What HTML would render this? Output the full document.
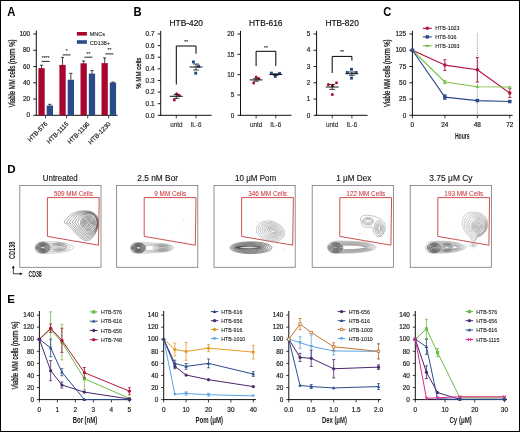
<!DOCTYPE html>
<html><head><meta charset="utf-8"><style>
html,body{margin:0;padding:0;background:#fff;}
svg{display:block;font-family:"Liberation Sans", sans-serif;} svg{will-change:transform;}
</style></head><body>
<svg width="520" height="432" viewBox="0 0 520 432">
<defs><filter id="soft" x="-5%" y="-5%" width="110%" height="110%"><feGaussianBlur stdDeviation="0.32"/></filter></defs>
<rect x="0" y="0" width="520" height="432" fill="#fff"/>
<text x="7.30" y="15.85" font-size="12.6" text-anchor="start" fill="#000" font-weight="bold" textLength="8.1" lengthAdjust="spacingAndGlyphs" >A</text>
<text x="133.40" y="15.85" font-size="12.6" text-anchor="start" fill="#000" font-weight="bold" textLength="8.1" lengthAdjust="spacingAndGlyphs" >B</text>
<text x="383.30" y="15.85" font-size="12.6" text-anchor="start" fill="#000" font-weight="bold" textLength="8.1" lengthAdjust="spacingAndGlyphs" >C</text>
<text x="7.30" y="172.70" font-size="11.6" text-anchor="start" fill="#000" font-weight="bold" >D</text>
<text x="7.30" y="303.30" font-size="11.6" text-anchor="start" fill="#000" font-weight="bold" >E</text>
<line x1="36.30" y1="30.50" x2="36.30" y2="115.80" stroke="#111" stroke-width="1" />
<line x1="35.80" y1="115.30" x2="117.50" y2="115.30" stroke="#111" stroke-width="1" />
<line x1="33.30" y1="115.30" x2="36.30" y2="115.30" stroke="#111" stroke-width="0.95" />
<text x="30.10" y="117.45" font-size="6.4" text-anchor="end" fill="#1a1a1a" stroke="#1a1a1a" stroke-width="0.18" >0</text>
<line x1="33.30" y1="99.04" x2="36.30" y2="99.04" stroke="#111" stroke-width="0.95" />
<text x="30.10" y="101.19" font-size="6.4" text-anchor="end" fill="#1a1a1a" stroke="#1a1a1a" stroke-width="0.18" >20</text>
<line x1="33.30" y1="82.78" x2="36.30" y2="82.78" stroke="#111" stroke-width="0.95" />
<text x="30.10" y="84.93" font-size="6.4" text-anchor="end" fill="#1a1a1a" stroke="#1a1a1a" stroke-width="0.18" >40</text>
<line x1="33.30" y1="66.52" x2="36.30" y2="66.52" stroke="#111" stroke-width="0.95" />
<text x="30.10" y="68.67" font-size="6.4" text-anchor="end" fill="#1a1a1a" stroke="#1a1a1a" stroke-width="0.18" >60</text>
<line x1="33.30" y1="50.26" x2="36.30" y2="50.26" stroke="#111" stroke-width="0.95" />
<text x="30.10" y="52.41" font-size="6.4" text-anchor="end" fill="#1a1a1a" stroke="#1a1a1a" stroke-width="0.18" >80</text>
<line x1="33.30" y1="34.00" x2="36.30" y2="34.00" stroke="#111" stroke-width="0.95" />
<text x="30.10" y="36.15" font-size="6.4" text-anchor="end" fill="#1a1a1a" stroke="#1a1a1a" stroke-width="0.18" >100</text>
<rect x="38.40" y="68.15" width="6.30" height="47.15" fill="#a9062f" />
<rect x="46.70" y="105.54" width="6.30" height="9.76" fill="#2a4a89" />
<line x1="41.55" y1="68.15" x2="41.55" y2="65.22" stroke="#111" stroke-width="0.8" />
<line x1="39.95" y1="65.22" x2="43.15" y2="65.22" stroke="#111" stroke-width="0.8" />
<line x1="49.85" y1="105.54" x2="49.85" y2="104.32" stroke="#111" stroke-width="0.8" />
<line x1="48.25" y1="104.32" x2="51.45" y2="104.32" stroke="#111" stroke-width="0.8" />
<line x1="45.60" y1="115.30" x2="45.60" y2="118.40" stroke="#111" stroke-width="0.8" />
<line x1="41.60" y1="61.40" x2="49.60" y2="61.40" stroke="#111" stroke-width="0.9" />
<text x="45.60" y="59.80" font-size="4.8" text-anchor="middle" fill="#111" stroke="#111" stroke-width="0.05" >****</text>
<rect x="59.40" y="64.89" width="6.30" height="50.41" fill="#a9062f" />
<rect x="67.70" y="79.77" width="6.30" height="35.53" fill="#2a4a89" />
<line x1="62.55" y1="64.89" x2="62.55" y2="57.41" stroke="#111" stroke-width="0.8" />
<line x1="60.95" y1="57.41" x2="64.15" y2="57.41" stroke="#111" stroke-width="0.8" />
<line x1="70.85" y1="79.77" x2="70.85" y2="73.35" stroke="#111" stroke-width="0.8" />
<line x1="69.25" y1="73.35" x2="72.45" y2="73.35" stroke="#111" stroke-width="0.8" />
<line x1="66.60" y1="115.30" x2="66.60" y2="118.40" stroke="#111" stroke-width="0.8" />
<line x1="62.60" y1="54.90" x2="70.60" y2="54.90" stroke="#111" stroke-width="0.9" />
<text x="66.60" y="53.30" font-size="4.8" text-anchor="middle" fill="#111" stroke="#111" stroke-width="0.05" >*</text>
<rect x="80.50" y="63.27" width="6.30" height="52.03" fill="#a9062f" />
<rect x="88.80" y="73.59" width="6.30" height="41.71" fill="#2a4a89" />
<line x1="83.65" y1="63.27" x2="83.65" y2="60.99" stroke="#111" stroke-width="0.8" />
<line x1="82.05" y1="60.99" x2="85.25" y2="60.99" stroke="#111" stroke-width="0.8" />
<line x1="91.95" y1="73.59" x2="91.95" y2="70.59" stroke="#111" stroke-width="0.8" />
<line x1="90.35" y1="70.59" x2="93.55" y2="70.59" stroke="#111" stroke-width="0.8" />
<line x1="87.70" y1="115.30" x2="87.70" y2="118.40" stroke="#111" stroke-width="0.8" />
<line x1="84.40" y1="57.20" x2="92.40" y2="57.20" stroke="#111" stroke-width="0.9" />
<text x="88.40" y="55.60" font-size="4.8" text-anchor="middle" fill="#111" stroke="#111" stroke-width="0.05" >**</text>
<rect x="101.50" y="63.11" width="6.30" height="52.19" fill="#a9062f" />
<rect x="109.80" y="82.54" width="6.30" height="32.76" fill="#2a4a89" />
<line x1="104.65" y1="63.11" x2="104.65" y2="57.90" stroke="#111" stroke-width="0.8" />
<line x1="103.05" y1="57.90" x2="106.25" y2="57.90" stroke="#111" stroke-width="0.8" />
<line x1="112.95" y1="82.54" x2="112.95" y2="82.05" stroke="#111" stroke-width="0.8" />
<line x1="111.35" y1="82.05" x2="114.55" y2="82.05" stroke="#111" stroke-width="0.8" />
<line x1="108.70" y1="115.30" x2="108.70" y2="118.40" stroke="#111" stroke-width="0.8" />
<line x1="105.40" y1="53.90" x2="113.40" y2="53.90" stroke="#111" stroke-width="0.9" />
<text x="109.40" y="52.30" font-size="4.8" text-anchor="middle" fill="#111" stroke="#111" stroke-width="0.05" >**</text>
<rect x="76.90" y="32.00" width="10.00" height="3.60" fill="#a9062f" />
<rect x="76.90" y="40.20" width="10.00" height="3.60" fill="#2a4a89" />
<text x="89.70" y="35.80" font-size="5.5" text-anchor="start" fill="#1a1a1a" stroke="#1a1a1a" stroke-width="0.1" >MNCs</text>
<text x="89.70" y="44.70" font-size="5.5" text-anchor="start" fill="#1a1a1a" stroke="#1a1a1a" stroke-width="0.1" >CD138+</text>
<text x="48.00" y="124.40" font-size="6.3" text-anchor="end" fill="#1a1a1a" stroke="#1a1a1a" stroke-width="0.18" transform="rotate(-45 48.00 124.40)" >HTB-576</text>
<text x="69.00" y="124.40" font-size="6.3" text-anchor="end" fill="#1a1a1a" stroke="#1a1a1a" stroke-width="0.18" transform="rotate(-45 69.00 124.40)" >HTB-1115</text>
<text x="90.10" y="124.40" font-size="6.3" text-anchor="end" fill="#1a1a1a" stroke="#1a1a1a" stroke-width="0.18" transform="rotate(-45 90.10 124.40)" >HTB-1196</text>
<text x="111.10" y="124.40" font-size="6.3" text-anchor="end" fill="#1a1a1a" stroke="#1a1a1a" stroke-width="0.18" transform="rotate(-45 111.10 124.40)" >HTB-1230</text>
<text x="14.90" y="73.40" font-size="8.4" text-anchor="middle" fill="#1a1a1a" stroke="#1a1a1a" stroke-width="0.3" textLength="67.8" lengthAdjust="spacingAndGlyphs" transform="rotate(-90 14.90 73.40)" >Viable MM cells (norm %)</text>
<line x1="160.70" y1="30.80" x2="160.70" y2="115.80" stroke="#111" stroke-width="1" />
<line x1="160.20" y1="115.30" x2="211.70" y2="115.30" stroke="#111" stroke-width="1" />
<line x1="157.70" y1="115.30" x2="160.70" y2="115.30" stroke="#111" stroke-width="0.95" />
<text x="154.50" y="117.50" font-size="6.4" text-anchor="end" fill="#1a1a1a" stroke="#1a1a1a" stroke-width="0.18" >0.0</text>
<line x1="157.70" y1="103.69" x2="160.70" y2="103.69" stroke="#111" stroke-width="0.95" />
<text x="154.50" y="105.89" font-size="6.4" text-anchor="end" fill="#1a1a1a" stroke="#1a1a1a" stroke-width="0.18" >0.1</text>
<line x1="157.70" y1="92.07" x2="160.70" y2="92.07" stroke="#111" stroke-width="0.95" />
<text x="154.50" y="94.27" font-size="6.4" text-anchor="end" fill="#1a1a1a" stroke="#1a1a1a" stroke-width="0.18" >0.2</text>
<line x1="157.70" y1="80.46" x2="160.70" y2="80.46" stroke="#111" stroke-width="0.95" />
<text x="154.50" y="82.66" font-size="6.4" text-anchor="end" fill="#1a1a1a" stroke="#1a1a1a" stroke-width="0.18" >0.3</text>
<line x1="157.70" y1="68.84" x2="160.70" y2="68.84" stroke="#111" stroke-width="0.95" />
<text x="154.50" y="71.04" font-size="6.4" text-anchor="end" fill="#1a1a1a" stroke="#1a1a1a" stroke-width="0.18" >0.4</text>
<line x1="157.70" y1="57.23" x2="160.70" y2="57.23" stroke="#111" stroke-width="0.95" />
<text x="154.50" y="59.43" font-size="6.4" text-anchor="end" fill="#1a1a1a" stroke="#1a1a1a" stroke-width="0.18" >0.5</text>
<line x1="157.70" y1="45.61" x2="160.70" y2="45.61" stroke="#111" stroke-width="0.95" />
<text x="154.50" y="47.81" font-size="6.4" text-anchor="end" fill="#1a1a1a" stroke="#1a1a1a" stroke-width="0.18" >0.6</text>
<line x1="157.70" y1="34.00" x2="160.70" y2="34.00" stroke="#111" stroke-width="0.95" />
<text x="154.50" y="36.20" font-size="6.4" text-anchor="end" fill="#1a1a1a" stroke="#1a1a1a" stroke-width="0.18" >0.7</text>
<text x="186.30" y="25.70" font-size="8.7" text-anchor="middle" fill="#111" stroke="#111" stroke-width="0.18" textLength="33.4" lengthAdjust="spacingAndGlyphs" >HTB-420</text>
<line x1="176.30" y1="115.30" x2="176.30" y2="118.40" stroke="#111" stroke-width="0.8" />
<line x1="196.00" y1="115.30" x2="196.00" y2="118.40" stroke="#111" stroke-width="0.8" />
<text x="176.30" y="127.20" font-size="6.3" text-anchor="middle" fill="#1a1a1a" stroke="#1a1a1a" stroke-width="0.1" >untd</text>
<text x="196.00" y="127.20" font-size="6.3" text-anchor="middle" fill="#1a1a1a" stroke="#1a1a1a" stroke-width="0.1" >IL-6</text>
<circle cx="176.60" cy="93.80" r="1.50" fill="#b3102f"/>
<circle cx="179.10" cy="95.30" r="1.50" fill="#b3102f"/>
<circle cx="174.30" cy="100.10" r="1.50" fill="#b3102f"/>
<rect x="191.95" y="60.45" width="2.90" height="2.90" fill="#26498f"/>
<rect x="197.15" y="64.75" width="2.90" height="2.90" fill="#26498f"/>
<rect x="194.25" y="71.75" width="2.90" height="2.90" fill="#26498f"/>
<line x1="169.90" y1="96.30" x2="182.70" y2="96.30" stroke="#111" stroke-width="1.0" />
<line x1="176.30" y1="94.70" x2="176.30" y2="98.40" stroke="#111" stroke-width="0.8" />
<line x1="173.40" y1="94.70" x2="179.20" y2="94.70" stroke="#111" stroke-width="0.8" />
<line x1="173.40" y1="98.40" x2="179.20" y2="98.40" stroke="#111" stroke-width="0.8" />
<line x1="189.60" y1="67.00" x2="202.40" y2="67.00" stroke="#111" stroke-width="1.0" />
<line x1="196.00" y1="64.00" x2="196.00" y2="70.00" stroke="#111" stroke-width="0.8" />
<line x1="193.10" y1="64.00" x2="198.90" y2="64.00" stroke="#111" stroke-width="0.8" />
<line x1="193.10" y1="70.00" x2="198.90" y2="70.00" stroke="#111" stroke-width="0.8" />
<polyline points="176.30,84.50 176.30,46.00 196.00,46.00 196.00,53.70" fill="none" stroke="#000" stroke-width="1.0" stroke-linejoin="round" />
<text x="186.15" y="43.50" font-size="4.8" text-anchor="middle" fill="#111" stroke="#111" stroke-width="0.05" >**</text>
<line x1="240.50" y1="30.80" x2="240.50" y2="115.80" stroke="#111" stroke-width="1" />
<line x1="240.00" y1="115.30" x2="291.50" y2="115.30" stroke="#111" stroke-width="1" />
<line x1="237.50" y1="115.30" x2="240.50" y2="115.30" stroke="#111" stroke-width="0.95" />
<text x="234.30" y="117.50" font-size="6.4" text-anchor="end" fill="#1a1a1a" stroke="#1a1a1a" stroke-width="0.18" >0</text>
<line x1="237.50" y1="94.97" x2="240.50" y2="94.97" stroke="#111" stroke-width="0.95" />
<text x="234.30" y="97.17" font-size="6.4" text-anchor="end" fill="#1a1a1a" stroke="#1a1a1a" stroke-width="0.18" >5</text>
<line x1="237.50" y1="74.65" x2="240.50" y2="74.65" stroke="#111" stroke-width="0.95" />
<text x="234.30" y="76.85" font-size="6.4" text-anchor="end" fill="#1a1a1a" stroke="#1a1a1a" stroke-width="0.18" >10</text>
<line x1="237.50" y1="54.33" x2="240.50" y2="54.33" stroke="#111" stroke-width="0.95" />
<text x="234.30" y="56.53" font-size="6.4" text-anchor="end" fill="#1a1a1a" stroke="#1a1a1a" stroke-width="0.18" >15</text>
<line x1="237.50" y1="34.00" x2="240.50" y2="34.00" stroke="#111" stroke-width="0.95" />
<text x="234.30" y="36.20" font-size="6.4" text-anchor="end" fill="#1a1a1a" stroke="#1a1a1a" stroke-width="0.18" >20</text>
<text x="265.80" y="25.70" font-size="8.7" text-anchor="middle" fill="#111" stroke="#111" stroke-width="0.18" textLength="33.4" lengthAdjust="spacingAndGlyphs" >HTB-616</text>
<line x1="256.10" y1="115.30" x2="256.10" y2="118.40" stroke="#111" stroke-width="0.8" />
<line x1="275.80" y1="115.30" x2="275.80" y2="118.40" stroke="#111" stroke-width="0.8" />
<text x="256.10" y="127.20" font-size="6.3" text-anchor="middle" fill="#1a1a1a" stroke="#1a1a1a" stroke-width="0.1" >untd</text>
<text x="275.80" y="127.20" font-size="6.3" text-anchor="middle" fill="#1a1a1a" stroke="#1a1a1a" stroke-width="0.1" >IL-6</text>
<circle cx="256.20" cy="76.90" r="1.50" fill="#b3102f"/>
<circle cx="258.80" cy="78.60" r="1.50" fill="#b3102f"/>
<circle cx="253.70" cy="82.90" r="1.50" fill="#b3102f"/>
<rect x="269.95" y="71.65" width="2.90" height="2.90" fill="#26498f"/>
<rect x="278.15" y="71.95" width="2.90" height="2.90" fill="#26498f"/>
<rect x="273.85" y="74.95" width="2.90" height="2.90" fill="#26498f"/>
<line x1="249.70" y1="79.90" x2="262.50" y2="79.90" stroke="#111" stroke-width="1.0" />
<line x1="256.10" y1="78.60" x2="256.10" y2="81.20" stroke="#111" stroke-width="0.8" />
<line x1="253.20" y1="78.60" x2="259.00" y2="78.60" stroke="#111" stroke-width="0.8" />
<line x1="253.20" y1="81.20" x2="259.00" y2="81.20" stroke="#111" stroke-width="0.8" />
<line x1="269.40" y1="74.50" x2="282.20" y2="74.50" stroke="#111" stroke-width="1.0" />
<line x1="275.80" y1="73.80" x2="275.80" y2="75.20" stroke="#111" stroke-width="0.8" />
<line x1="272.90" y1="73.80" x2="278.70" y2="73.80" stroke="#111" stroke-width="0.8" />
<line x1="272.90" y1="75.20" x2="278.70" y2="75.20" stroke="#111" stroke-width="0.8" />
<polyline points="256.10,66.10 256.10,51.30 275.80,51.30 275.80,65.90" fill="none" stroke="#000" stroke-width="1.0" stroke-linejoin="round" />
<text x="265.95" y="49.60" font-size="4.8" text-anchor="middle" fill="#111" stroke="#111" stroke-width="0.05" >**</text>
<line x1="316.60" y1="30.80" x2="316.60" y2="115.80" stroke="#111" stroke-width="1" />
<line x1="316.10" y1="115.30" x2="367.60" y2="115.30" stroke="#111" stroke-width="1" />
<line x1="313.60" y1="115.30" x2="316.60" y2="115.30" stroke="#111" stroke-width="0.95" />
<text x="310.40" y="117.50" font-size="6.4" text-anchor="end" fill="#1a1a1a" stroke="#1a1a1a" stroke-width="0.18" >0</text>
<line x1="313.60" y1="99.04" x2="316.60" y2="99.04" stroke="#111" stroke-width="0.95" />
<text x="310.40" y="101.24" font-size="6.4" text-anchor="end" fill="#1a1a1a" stroke="#1a1a1a" stroke-width="0.18" >1</text>
<line x1="313.60" y1="82.78" x2="316.60" y2="82.78" stroke="#111" stroke-width="0.95" />
<text x="310.40" y="84.98" font-size="6.4" text-anchor="end" fill="#1a1a1a" stroke="#1a1a1a" stroke-width="0.18" >2</text>
<line x1="313.60" y1="66.52" x2="316.60" y2="66.52" stroke="#111" stroke-width="0.95" />
<text x="310.40" y="68.72" font-size="6.4" text-anchor="end" fill="#1a1a1a" stroke="#1a1a1a" stroke-width="0.18" >3</text>
<line x1="313.60" y1="50.26" x2="316.60" y2="50.26" stroke="#111" stroke-width="0.95" />
<text x="310.40" y="52.46" font-size="6.4" text-anchor="end" fill="#1a1a1a" stroke="#1a1a1a" stroke-width="0.18" >4</text>
<line x1="313.60" y1="34.00" x2="316.60" y2="34.00" stroke="#111" stroke-width="0.95" />
<text x="310.40" y="36.20" font-size="6.4" text-anchor="end" fill="#1a1a1a" stroke="#1a1a1a" stroke-width="0.18" >5</text>
<text x="342.10" y="25.70" font-size="8.7" text-anchor="middle" fill="#111" stroke="#111" stroke-width="0.18" textLength="33.4" lengthAdjust="spacingAndGlyphs" >HTB-820</text>
<line x1="332.20" y1="115.30" x2="332.20" y2="118.40" stroke="#111" stroke-width="0.8" />
<line x1="351.90" y1="115.30" x2="351.90" y2="118.40" stroke="#111" stroke-width="0.8" />
<text x="332.20" y="127.20" font-size="6.3" text-anchor="middle" fill="#1a1a1a" stroke="#1a1a1a" stroke-width="0.1" >untd</text>
<text x="351.90" y="127.20" font-size="6.3" text-anchor="middle" fill="#1a1a1a" stroke="#1a1a1a" stroke-width="0.1" >IL-6</text>
<circle cx="328.30" cy="84.50" r="1.50" fill="#b3102f"/>
<circle cx="336.50" cy="82.70" r="1.50" fill="#b3102f"/>
<circle cx="332.50" cy="85.70" r="1.50" fill="#b3102f"/>
<circle cx="332.30" cy="94.40" r="1.50" fill="#b3102f"/>
<rect x="350.05" y="67.85" width="2.90" height="2.90" fill="#26498f"/>
<rect x="345.85" y="71.05" width="2.90" height="2.90" fill="#26498f"/>
<rect x="354.65" y="71.05" width="2.90" height="2.90" fill="#26498f"/>
<rect x="350.05" y="76.65" width="2.90" height="2.90" fill="#26498f"/>
<line x1="325.80" y1="87.00" x2="338.60" y2="87.00" stroke="#111" stroke-width="1.0" />
<line x1="332.20" y1="84.50" x2="332.20" y2="89.40" stroke="#111" stroke-width="0.8" />
<line x1="329.30" y1="84.50" x2="335.10" y2="84.50" stroke="#111" stroke-width="0.8" />
<line x1="329.30" y1="89.40" x2="335.10" y2="89.40" stroke="#111" stroke-width="0.8" />
<line x1="345.50" y1="73.70" x2="358.30" y2="73.70" stroke="#111" stroke-width="1.0" />
<line x1="351.90" y1="72.00" x2="351.90" y2="75.30" stroke="#111" stroke-width="0.8" />
<line x1="349.00" y1="72.00" x2="354.80" y2="72.00" stroke="#111" stroke-width="0.8" />
<line x1="349.00" y1="75.30" x2="354.80" y2="75.30" stroke="#111" stroke-width="0.8" />
<polyline points="332.20,73.00 332.20,56.40 351.90,56.40 351.90,60.60" fill="none" stroke="#000" stroke-width="1.0" stroke-linejoin="round" />
<text x="342.05" y="53.70" font-size="4.8" text-anchor="middle" fill="#111" stroke="#111" stroke-width="0.05" >**</text>
<text x="140.60" y="73.20" font-size="7.6" text-anchor="middle" fill="#1a1a1a" stroke="#1a1a1a" stroke-width="0.3" textLength="31.2" lengthAdjust="spacingAndGlyphs" transform="rotate(-90 140.60 73.20)" >% MM cells</text>
<line x1="412.40" y1="30.80" x2="412.40" y2="115.80" stroke="#111" stroke-width="1" />
<line x1="411.90" y1="115.30" x2="512.60" y2="115.30" stroke="#111" stroke-width="1" />
<line x1="409.40" y1="115.30" x2="412.40" y2="115.30" stroke="#111" stroke-width="0.95" />
<text x="406.20" y="117.50" font-size="6.4" text-anchor="end" fill="#1a1a1a" stroke="#1a1a1a" stroke-width="0.18" >0</text>
<line x1="409.40" y1="99.04" x2="412.40" y2="99.04" stroke="#111" stroke-width="0.95" />
<text x="406.20" y="101.24" font-size="6.4" text-anchor="end" fill="#1a1a1a" stroke="#1a1a1a" stroke-width="0.18" >25</text>
<line x1="409.40" y1="82.78" x2="412.40" y2="82.78" stroke="#111" stroke-width="0.95" />
<text x="406.20" y="84.98" font-size="6.4" text-anchor="end" fill="#1a1a1a" stroke="#1a1a1a" stroke-width="0.18" >50</text>
<line x1="409.40" y1="66.52" x2="412.40" y2="66.52" stroke="#111" stroke-width="0.95" />
<text x="406.20" y="68.72" font-size="6.4" text-anchor="end" fill="#1a1a1a" stroke="#1a1a1a" stroke-width="0.18" >75</text>
<line x1="409.40" y1="50.26" x2="412.40" y2="50.26" stroke="#111" stroke-width="0.95" />
<text x="406.20" y="52.46" font-size="6.4" text-anchor="end" fill="#1a1a1a" stroke="#1a1a1a" stroke-width="0.18" >100</text>
<line x1="409.40" y1="34.00" x2="412.40" y2="34.00" stroke="#111" stroke-width="0.95" />
<text x="406.20" y="36.20" font-size="6.4" text-anchor="end" fill="#1a1a1a" stroke="#1a1a1a" stroke-width="0.18" >125</text>
<line x1="412.40" y1="115.30" x2="412.40" y2="118.40" stroke="#111" stroke-width="0.8" />
<text x="412.40" y="126.50" font-size="6.4" text-anchor="middle" fill="#1a1a1a" stroke="#1a1a1a" stroke-width="0.18" >0</text>
<line x1="444.87" y1="115.30" x2="444.87" y2="118.40" stroke="#111" stroke-width="0.8" />
<text x="444.87" y="126.50" font-size="6.4" text-anchor="middle" fill="#1a1a1a" stroke="#1a1a1a" stroke-width="0.18" >24</text>
<line x1="477.33" y1="115.30" x2="477.33" y2="118.40" stroke="#111" stroke-width="0.8" />
<text x="477.33" y="126.50" font-size="6.4" text-anchor="middle" fill="#1a1a1a" stroke="#1a1a1a" stroke-width="0.18" >48</text>
<line x1="509.80" y1="115.30" x2="509.80" y2="118.40" stroke="#111" stroke-width="0.8" />
<text x="509.80" y="126.50" font-size="6.4" text-anchor="middle" fill="#1a1a1a" stroke="#1a1a1a" stroke-width="0.18" >72</text>
<text x="462.30" y="138.80" font-size="8.3" text-anchor="middle" fill="#1a1a1a" font-weight="bold" textLength="14.8" lengthAdjust="spacingAndGlyphs" >Hours</text>
<text x="390.40" y="73.25" font-size="8.4" text-anchor="middle" fill="#1a1a1a" stroke="#1a1a1a" stroke-width="0.3" textLength="67.5" lengthAdjust="spacingAndGlyphs" transform="rotate(-90 390.40 73.25)" >Viable MM cells (norm %)</text>
<line x1="477.33" y1="33.40" x2="477.33" y2="115.30" stroke="#555" stroke-width="0.6" stroke-dasharray="1.2,1.2"/>
<polyline points="412.40,50.26 444.87,65.09 477.33,69.77 509.80,92.93" fill="none" stroke="#b31240" stroke-width="1.1" stroke-linejoin="round" />
<circle cx="412.40" cy="50.26" r="1.75" fill="#b31240"/>
<line x1="444.87" y1="70.42" x2="444.87" y2="59.76" stroke="#b31240" stroke-width="0.9" />
<line x1="443.27" y1="70.42" x2="446.47" y2="70.42" stroke="#b31240" stroke-width="0.9" />
<line x1="443.27" y1="59.76" x2="446.47" y2="59.76" stroke="#b31240" stroke-width="0.9" />
<circle cx="444.87" cy="65.09" r="1.75" fill="#b31240"/>
<line x1="477.33" y1="82.00" x2="477.33" y2="57.54" stroke="#b31240" stroke-width="0.9" />
<line x1="475.73" y1="82.00" x2="478.93" y2="82.00" stroke="#b31240" stroke-width="0.9" />
<line x1="475.73" y1="57.54" x2="478.93" y2="57.54" stroke="#b31240" stroke-width="0.9" />
<circle cx="477.33" cy="69.77" r="1.75" fill="#b31240"/>
<line x1="509.80" y1="97.48" x2="509.80" y2="88.37" stroke="#b31240" stroke-width="0.9" />
<line x1="508.20" y1="97.48" x2="511.40" y2="97.48" stroke="#b31240" stroke-width="0.9" />
<line x1="508.20" y1="88.37" x2="511.40" y2="88.37" stroke="#b31240" stroke-width="0.9" />
<circle cx="509.80" cy="92.93" r="1.75" fill="#b31240"/>
<polyline points="412.40,50.26 444.87,82.00 477.33,86.68 509.80,87.07" fill="none" stroke="#7dc24a" stroke-width="1.1" stroke-linejoin="round" />
<polygon points="412.40,48.34 414.32,51.66 410.47,51.66" fill="#7dc24a"/>
<line x1="444.87" y1="83.63" x2="444.87" y2="80.37" stroke="#7dc24a" stroke-width="0.9" />
<line x1="443.27" y1="83.63" x2="446.47" y2="83.63" stroke="#7dc24a" stroke-width="0.9" />
<line x1="443.27" y1="80.37" x2="446.47" y2="80.37" stroke="#7dc24a" stroke-width="0.9" />
<polygon points="444.87,80.07 446.79,83.40 442.94,83.40" fill="#7dc24a"/>
<polygon points="477.33,84.76 479.26,88.08 475.41,88.08" fill="#7dc24a"/>
<polygon points="509.80,85.15 511.72,88.47 507.87,88.47" fill="#7dc24a"/>
<polyline points="412.40,50.26 444.87,97.09 477.33,100.60 509.80,101.51" fill="none" stroke="#2c4a8c" stroke-width="1.1" stroke-linejoin="round" />
<rect x="410.65" y="48.51" width="3.50" height="3.50" fill="#2c4a8c"/>
<line x1="444.87" y1="99.37" x2="444.87" y2="94.81" stroke="#2c4a8c" stroke-width="0.9" />
<line x1="443.27" y1="99.37" x2="446.47" y2="99.37" stroke="#2c4a8c" stroke-width="0.9" />
<line x1="443.27" y1="94.81" x2="446.47" y2="94.81" stroke="#2c4a8c" stroke-width="0.9" />
<rect x="443.12" y="95.34" width="3.50" height="3.50" fill="#2c4a8c"/>
<rect x="475.58" y="98.85" width="3.50" height="3.50" fill="#2c4a8c"/>
<rect x="508.05" y="99.76" width="3.50" height="3.50" fill="#2c4a8c"/>
<line x1="422.80" y1="28.30" x2="431.80" y2="28.30" stroke="#b31240" stroke-width="1.1" />
<circle cx="427.30" cy="28.30" r="1.70" fill="#b31240"/>
<text x="435.20" y="30.30" font-size="5.35" text-anchor="start" fill="#1a1a1a" stroke="#1a1a1a" stroke-width="0.1" >HTB-1023</text>
<line x1="422.80" y1="36.90" x2="431.80" y2="36.90" stroke="#2c4a8c" stroke-width="1.1" />
<rect x="425.60" y="35.20" width="3.40" height="3.40" fill="#2c4a8c"/>
<text x="435.20" y="38.90" font-size="5.35" text-anchor="start" fill="#1a1a1a" stroke="#1a1a1a" stroke-width="0.1" >HTB-916</text>
<line x1="422.80" y1="45.70" x2="431.80" y2="45.70" stroke="#7dc24a" stroke-width="1.1" />
<polygon points="427.30,43.83 429.17,47.06 425.43,47.06" fill="#7dc24a"/>
<text x="435.20" y="47.70" font-size="5.35" text-anchor="start" fill="#1a1a1a" stroke="#1a1a1a" stroke-width="0.1" >HTB-1093</text>
<rect x="19.80" y="185.5" width="81.2" height="81.80000000000001" fill="none" stroke="#7e7e7e" stroke-width="0.85"/>
<text x="60.25" y="181.20" font-size="8.5" text-anchor="middle" fill="#111" stroke="#111" stroke-width="0.12" textLength="35.1" lengthAdjust="spacingAndGlyphs" >Untreated</text>
<polygon points="47.40,197.6 99.20,197.6 98.50,245.2 47.40,236.4" fill="none" stroke="#c63c3c" stroke-width="0.9"/>
<text x="73.40" y="195.50" font-size="6.7" text-anchor="middle" fill="#c8383c" stroke="#c8383c" stroke-width="0.05" textLength="38.91" lengthAdjust="spacingAndGlyphs" >509 MM Cells</text>
<rect x="116.60" y="185.5" width="81.2" height="81.80000000000001" fill="none" stroke="#7e7e7e" stroke-width="0.85"/>
<text x="157.70" y="181.20" font-size="8.5" text-anchor="middle" fill="#111" stroke="#111" stroke-width="0.12" textLength="40.8" lengthAdjust="spacingAndGlyphs" >2.5 nM Bor</text>
<polygon points="144.20,197.6 196.00,197.6 195.30,245.2 144.20,236.4" fill="none" stroke="#c63c3c" stroke-width="0.9"/>
<text x="170.20" y="195.50" font-size="6.7" text-anchor="middle" fill="#c8383c" stroke="#c8383c" stroke-width="0.05" textLength="31.83" lengthAdjust="spacingAndGlyphs" >9 MM Cells</text>
<rect x="214.00" y="185.5" width="81.2" height="81.80000000000001" fill="none" stroke="#7e7e7e" stroke-width="0.85"/>
<text x="255.60" y="181.20" font-size="8.5" text-anchor="middle" fill="#111" stroke="#111" stroke-width="0.12" textLength="41.2" lengthAdjust="spacingAndGlyphs" >10 μM Pom</text>
<polygon points="241.60,197.6 293.40,197.6 292.70,245.2 241.60,236.4" fill="none" stroke="#c63c3c" stroke-width="0.9"/>
<text x="267.60" y="195.50" font-size="6.7" text-anchor="middle" fill="#c8383c" stroke="#c8383c" stroke-width="0.05" textLength="38.91" lengthAdjust="spacingAndGlyphs" >346 MM Cells</text>
<rect x="312.20" y="185.5" width="81.2" height="81.80000000000001" fill="none" stroke="#7e7e7e" stroke-width="0.85"/>
<text x="353.75" y="181.20" font-size="8.5" text-anchor="middle" fill="#111" stroke="#111" stroke-width="0.12" textLength="35.1" lengthAdjust="spacingAndGlyphs" >1 μM Dex</text>
<polygon points="339.80,197.6 391.60,197.6 390.90,245.2 339.80,236.4" fill="none" stroke="#c63c3c" stroke-width="0.9"/>
<text x="365.80" y="195.50" font-size="6.7" text-anchor="middle" fill="#c8383c" stroke="#c8383c" stroke-width="0.05" textLength="38.91" lengthAdjust="spacingAndGlyphs" >122 MM Cells</text>
<rect x="410.20" y="185.5" width="81.2" height="81.80000000000001" fill="none" stroke="#7e7e7e" stroke-width="0.85"/>
<text x="450.95" y="181.20" font-size="8.5" text-anchor="middle" fill="#111" stroke="#111" stroke-width="0.12" textLength="43.3" lengthAdjust="spacingAndGlyphs" >3.75 μM Cy</text>
<polygon points="437.80,197.6 489.60,197.6 488.90,245.2 437.80,236.4" fill="none" stroke="#c63c3c" stroke-width="0.9"/>
<text x="463.80" y="195.50" font-size="6.7" text-anchor="middle" fill="#c8383c" stroke="#c8383c" stroke-width="0.05" textLength="38.91" lengthAdjust="spacingAndGlyphs" >193 MM Cells</text>
<g filter="url(#soft)">
<path d="M64.20,222.10 L64.37,221.61 L64.69,221.03 L65.13,220.37 L65.64,219.66 L66.22,218.94 L66.82,218.24 L67.43,217.58 L68.00,217.00 L68.57,216.47 L69.17,215.98 L69.79,215.50 L70.42,215.05 L71.07,214.62 L71.72,214.23 L72.37,213.85 L73.00,213.50 L73.62,213.18 L74.25,212.88 L74.88,212.62 L75.50,212.38 L76.12,212.15 L76.75,211.95 L77.38,211.77 L78.00,211.60 L78.62,211.45 L79.25,211.32 L79.88,211.21 L80.50,211.12 L81.12,211.05 L81.75,210.99 L82.38,210.94 L83.00,210.90 L83.63,210.87 L84.26,210.84 L84.90,210.83 L85.53,210.83 L86.16,210.84 L86.79,210.87 L87.40,210.92 L88.00,211.00 L88.59,211.10 L89.18,211.21 L89.77,211.34 L90.34,211.49 L90.91,211.66 L91.46,211.85 L91.99,212.06 L92.50,212.30 L93.00,212.56 L93.48,212.85 L93.96,213.15 L94.41,213.48 L94.85,213.83 L95.26,214.20 L95.65,214.59 L96.00,215.00 L96.32,215.43 L96.62,215.89 L96.90,216.36 L97.14,216.86 L97.37,217.37 L97.57,217.90 L97.75,218.44 L97.90,219.00 L98.03,219.57 L98.15,220.16 L98.23,220.76 L98.30,221.38 L98.34,222.01 L98.35,222.66 L98.34,223.32 L98.30,224.00 L98.23,224.71 L98.12,225.45 L97.99,226.22 L97.83,227.00 L97.65,227.78 L97.45,228.55 L97.23,229.29 L97.00,230.00 L96.75,230.68 L96.48,231.34 L96.19,231.99 L95.89,232.62 L95.56,233.24 L95.22,233.84 L94.87,234.43 L94.50,235.00 L94.11,235.56 L93.70,236.13 L93.26,236.68 L92.81,237.21 L92.36,237.72 L91.90,238.19 L91.44,238.62 L91.00,239.00 L90.56,239.33 L90.12,239.62 L89.69,239.87 L89.25,240.09 L88.81,240.27 L88.38,240.41 L87.94,240.52 L87.50,240.60 L87.07,240.64 L86.64,240.65 L86.21,240.62 L85.78,240.56 L85.35,240.46 L84.91,240.34 L84.46,240.18 L84.00,240.00 L83.53,239.79 L83.05,239.56 L82.56,239.29 L82.06,238.99 L81.56,238.67 L81.05,238.31 L80.53,237.92 L80.00,237.50 L79.46,237.04 L78.92,236.54 L78.37,236.00 L77.81,235.44 L77.25,234.85 L76.67,234.24 L76.09,233.62 L75.50,233.00 L74.89,232.35 L74.26,231.65 L73.62,230.93 L72.97,230.20 L72.32,229.47 L71.69,228.77 L71.08,228.11 L70.50,227.50 L69.94,226.94 L69.39,226.40 L68.85,225.89 L68.33,225.41 L67.83,224.96 L67.36,224.54 L66.91,224.15 L66.50,223.80 L66.09,223.52 L65.66,223.31 L65.24,223.17 L64.86,223.04 L64.54,222.90 L64.31,222.72 L64.18,222.46Z" fill="none" stroke="rgb(104,104,104)" stroke-width="0.55" stroke-linejoin="round"/>
<path d="M66.92,222.20 L67.06,221.77 L67.33,221.24 L67.69,220.65 L68.13,220.02 L68.62,219.38 L69.13,218.74 L69.64,218.15 L70.13,217.62 L70.61,217.14 L71.12,216.68 L71.65,216.24 L72.20,215.82 L72.75,215.42 L73.31,215.05 L73.87,214.69 L74.41,214.36 L74.96,214.04 L75.50,213.76 L76.04,213.50 L76.59,213.25 L77.14,213.03 L77.69,212.82 L78.24,212.63 L78.79,212.44 L79.35,212.28 L79.91,212.13 L80.47,212.00 L81.03,211.89 L81.60,211.79 L82.16,211.71 L82.74,211.63 L83.31,211.56 L83.89,211.50 L84.48,211.45 L85.08,211.41 L85.68,211.38 L86.27,211.37 L86.87,211.38 L87.45,211.41 L88.03,211.47 L88.60,211.55 L89.17,211.64 L89.73,211.76 L90.29,211.89 L90.83,212.05 L91.36,212.23 L91.88,212.43 L92.37,212.66 L92.85,212.91 L93.32,213.18 L93.78,213.48 L94.22,213.80 L94.65,214.13 L95.04,214.49 L95.42,214.87 L95.76,215.26 L96.08,215.68 L96.37,216.11 L96.64,216.57 L96.88,217.05 L97.11,217.54 L97.31,218.05 L97.48,218.57 L97.64,219.11 L97.78,219.66 L97.89,220.23 L97.98,220.82 L98.05,221.42 L98.09,222.03 L98.11,222.66 L98.10,223.31 L98.06,223.98 L97.99,224.67 L97.88,225.39 L97.75,226.14 L97.58,226.89 L97.39,227.64 L97.18,228.38 L96.95,229.08 L96.71,229.75 L96.45,230.39 L96.17,231.01 L95.88,231.61 L95.57,232.20 L95.24,232.76 L94.90,233.31 L94.55,233.84 L94.18,234.35 L93.80,234.85 L93.40,235.35 L92.98,235.84 L92.55,236.30 L92.11,236.74 L91.68,237.15 L91.25,237.52 L90.83,237.85 L90.43,238.13 L90.02,238.38 L89.61,238.59 L89.21,238.77 L88.80,238.92 L88.40,239.04 L88.00,239.13 L87.60,239.20 L87.20,239.23 L86.80,239.23 L86.41,239.20 L86.02,239.14 L85.62,239.05 L85.22,238.94 L84.80,238.80 L84.38,238.63 L83.94,238.44 L83.50,238.23 L83.05,237.99 L82.59,237.72 L82.13,237.42 L81.65,237.10 L81.17,236.74 L80.69,236.36 L80.19,235.93 L79.69,235.47 L79.18,234.98 L78.67,234.46 L78.15,233.91 L77.63,233.35 L77.10,232.77 L76.57,232.19 L76.02,231.58 L75.46,230.93 L74.89,230.26 L74.33,229.58 L73.76,228.91 L73.22,228.25 L72.69,227.64 L72.20,227.08 L71.72,226.56 L71.26,226.07 L70.80,225.61 L70.37,225.17 L69.95,224.76 L69.55,224.38 L69.18,224.03 L68.83,223.72 L68.49,223.46 L68.14,223.28 L67.79,223.15 L67.47,223.03 L67.20,222.91 L67.01,222.75 L66.90,222.52Z" fill="none" stroke="rgb(100,100,100)" stroke-width="0.55" stroke-linejoin="round"/>
<path d="M69.63,222.30 L69.75,221.92 L69.97,221.46 L70.26,220.94 L70.62,220.38 L71.01,219.81 L71.43,219.24 L71.85,218.71 L72.25,218.23 L72.65,217.80 L73.07,217.38 L73.51,216.98 L73.97,216.59 L74.43,216.22 L74.90,215.87 L75.37,215.53 L75.83,215.21 L76.29,214.91 L76.75,214.63 L77.21,214.37 L77.68,214.13 L78.15,213.90 L78.62,213.69 L79.10,213.48 L79.58,213.29 L80.07,213.11 L80.56,212.94 L81.06,212.79 L81.56,212.66 L82.07,212.54 L82.58,212.42 L83.10,212.32 L83.62,212.22 L84.16,212.13 L84.71,212.06 L85.26,211.99 L85.82,211.94 L86.38,211.91 L86.95,211.89 L87.50,211.91 L88.05,211.94 L88.60,212.00 L89.15,212.08 L89.69,212.17 L90.23,212.30 L90.75,212.44 L91.27,212.61 L91.77,212.80 L92.25,213.02 L92.71,213.26 L93.17,213.52 L93.61,213.80 L94.03,214.11 L94.44,214.44 L94.83,214.78 L95.19,215.14 L95.52,215.52 L95.83,215.92 L96.12,216.34 L96.38,216.78 L96.62,217.24 L96.84,217.71 L97.04,218.20 L97.22,218.71 L97.38,219.23 L97.52,219.76 L97.64,220.31 L97.73,220.88 L97.80,221.46 L97.85,222.06 L97.87,222.67 L97.86,223.30 L97.82,223.95 L97.75,224.62 L97.64,225.33 L97.50,226.05 L97.33,226.78 L97.13,227.50 L96.91,228.21 L96.67,228.88 L96.42,229.51 L96.15,230.11 L95.86,230.68 L95.56,231.23 L95.25,231.77 L94.92,232.28 L94.58,232.77 L94.23,233.24 L93.87,233.70 L93.50,234.14 L93.10,234.57 L92.70,234.99 L92.29,235.39 L91.87,235.77 L91.46,236.11 L91.06,236.42 L90.67,236.69 L90.29,236.93 L89.91,237.13 L89.54,237.31 L89.17,237.46 L88.79,237.58 L88.43,237.67 L88.06,237.74 L87.69,237.79 L87.33,237.81 L86.97,237.81 L86.61,237.78 L86.25,237.72 L85.89,237.64 L85.52,237.54 L85.15,237.41 L84.76,237.26 L84.36,237.09 L83.95,236.90 L83.54,236.68 L83.12,236.44 L82.69,236.18 L82.26,235.88 L81.82,235.56 L81.37,235.21 L80.92,234.83 L80.46,234.41 L80.00,233.96 L79.53,233.48 L79.05,232.98 L78.58,232.46 L78.11,231.92 L77.63,231.38 L77.15,230.82 L76.66,230.21 L76.17,229.59 L75.68,228.96 L75.20,228.34 L74.74,227.74 L74.31,227.17 L73.90,226.66 L73.51,226.19 L73.13,225.74 L72.76,225.32 L72.40,224.93 L72.06,224.56 L71.74,224.23 L71.44,223.91 L71.17,223.63 L70.89,223.41 L70.61,223.25 L70.33,223.13 L70.08,223.03 L69.86,222.92 L69.70,222.78 L69.62,222.58Z" fill="none" stroke="rgb(96,96,96)" stroke-width="0.55" stroke-linejoin="round"/>
<path d="M72.35,222.40 L72.44,222.07 L72.61,221.68 L72.83,221.23 L73.11,220.74 L73.41,220.24 L73.74,219.75 L74.06,219.27 L74.38,218.85 L74.69,218.46 L75.03,218.08 L75.38,217.72 L75.74,217.36 L76.11,217.02 L76.49,216.69 L76.87,216.37 L77.24,216.07 L77.62,215.78 L78.00,215.51 L78.38,215.25 L78.77,215.01 L79.16,214.77 L79.56,214.55 L79.97,214.34 L80.38,214.13 L80.79,213.94 L81.22,213.76 L81.65,213.59 L82.09,213.43 L82.54,213.28 L82.99,213.14 L83.46,213.01 L83.93,212.88 L84.42,212.77 L84.93,212.66 L85.44,212.57 L85.97,212.50 L86.50,212.44 L87.03,212.41 L87.56,212.40 L88.08,212.41 L88.61,212.45 L89.13,212.51 L89.65,212.59 L90.17,212.70 L90.68,212.83 L91.17,212.99 L91.65,213.17 L92.12,213.38 L92.57,213.60 L93.01,213.86 L93.43,214.13 L93.85,214.42 L94.24,214.74 L94.61,215.07 L94.96,215.42 L95.28,215.79 L95.58,216.17 L95.86,216.57 L96.12,216.99 L96.36,217.43 L96.58,217.88 L96.78,218.35 L96.96,218.84 L97.12,219.34 L97.26,219.85 L97.38,220.39 L97.48,220.94 L97.55,221.50 L97.60,222.08 L97.63,222.68 L97.62,223.30 L97.58,223.93 L97.51,224.58 L97.41,225.27 L97.26,225.97 L97.08,226.67 L96.88,227.37 L96.64,228.04 L96.39,228.67 L96.13,229.26 L95.85,229.82 L95.56,230.35 L95.25,230.86 L94.93,231.34 L94.60,231.80 L94.26,232.23 L93.91,232.65 L93.55,233.04 L93.19,233.42 L92.81,233.79 L92.42,234.15 L92.02,234.48 L91.63,234.79 L91.24,235.07 L90.87,235.32 L90.50,235.54 L90.15,235.73 L89.81,235.89 L89.46,236.03 L89.12,236.14 L88.79,236.23 L88.45,236.30 L88.12,236.36 L87.79,236.39 L87.46,236.40 L87.14,236.39 L86.81,236.35 L86.49,236.30 L86.16,236.23 L85.83,236.14 L85.49,236.02 L85.14,235.89 L84.77,235.74 L84.41,235.57 L84.03,235.38 L83.65,235.17 L83.26,234.93 L82.87,234.67 L82.47,234.38 L82.06,234.07 L81.65,233.72 L81.23,233.34 L80.81,232.94 L80.38,232.50 L79.96,232.04 L79.54,231.57 L79.12,231.07 L78.70,230.57 L78.29,230.05 L77.86,229.49 L77.45,228.92 L77.04,228.34 L76.64,227.77 L76.27,227.22 L75.92,226.70 L75.60,226.24 L75.29,225.81 L74.99,225.41 L74.71,225.04 L74.44,224.69 L74.18,224.37 L73.94,224.07 L73.71,223.79 L73.50,223.55 L73.30,223.35 L73.08,223.21 L72.87,223.11 L72.68,223.03 L72.52,222.93 L72.40,222.81 L72.34,222.64Z" fill="none" stroke="rgb(92,92,92)" stroke-width="0.55" stroke-linejoin="round"/>
<path d="M75.07,222.50 L75.13,222.23 L75.25,221.89 L75.40,221.51 L75.59,221.10 L75.81,220.67 L76.04,220.25 L76.28,219.84 L76.51,219.47 L76.74,219.12 L76.98,218.79 L77.24,218.46 L77.51,218.13 L77.79,217.82 L78.08,217.51 L78.36,217.21 L78.66,216.92 L78.95,216.65 L79.25,216.38 L79.55,216.13 L79.86,215.88 L80.17,215.65 L80.50,215.42 L80.83,215.19 L81.17,214.98 L81.52,214.77 L81.88,214.57 L82.24,214.38 L82.62,214.19 L83.01,214.02 L83.41,213.85 L83.82,213.69 L84.25,213.54 L84.69,213.40 L85.15,213.27 L85.62,213.15 L86.11,213.05 L86.61,212.97 L87.11,212.92 L87.61,212.89 L88.11,212.88 L88.61,212.90 L89.11,212.94 L89.61,213.01 L90.11,213.11 L90.60,213.23 L91.08,213.37 L91.54,213.54 L91.99,213.74 L92.42,213.95 L92.85,214.19 L93.26,214.46 L93.66,214.74 L94.04,215.04 L94.39,215.36 L94.73,215.70 L95.04,216.05 L95.34,216.41 L95.61,216.80 L95.86,217.20 L96.10,217.61 L96.32,218.05 L96.52,218.50 L96.70,218.97 L96.86,219.45 L97.01,219.95 L97.13,220.46 L97.23,220.99 L97.31,221.54 L97.36,222.11 L97.38,222.69 L97.38,223.29 L97.34,223.90 L97.27,224.54 L97.17,225.20 L97.02,225.88 L96.84,226.56 L96.62,227.23 L96.38,227.87 L96.11,228.47 L95.84,229.02 L95.55,229.53 L95.25,230.02 L94.93,230.48 L94.61,230.91 L94.27,231.32 L93.93,231.70 L93.59,232.06 L93.24,232.39 L92.88,232.71 L92.51,233.02 L92.14,233.30 L91.76,233.57 L91.39,233.81 L91.02,234.03 L90.67,234.22 L90.34,234.39 L90.01,234.53 L89.70,234.65 L89.39,234.74 L89.08,234.83 L88.78,234.89 L88.48,234.94 L88.18,234.97 L87.88,234.98 L87.59,234.98 L87.30,234.96 L87.01,234.93 L86.72,234.88 L86.43,234.82 L86.13,234.74 L85.83,234.64 L85.51,234.52 L85.19,234.39 L84.86,234.25 L84.52,234.08 L84.18,233.89 L83.83,233.68 L83.47,233.45 L83.11,233.20 L82.75,232.92 L82.38,232.61 L82.00,232.28 L81.62,231.91 L81.24,231.52 L80.86,231.11 L80.49,230.67 L80.13,230.22 L79.77,229.77 L79.42,229.28 L79.07,228.77 L78.72,228.25 L78.39,227.72 L78.09,227.20 L77.80,226.70 L77.53,226.24 L77.29,225.82 L77.07,225.44 L76.86,225.09 L76.66,224.75 L76.47,224.45 L76.30,224.17 L76.13,223.91 L75.98,223.67 L75.84,223.46 L75.70,223.30 L75.55,223.18 L75.42,223.09 L75.29,223.02 L75.18,222.94 L75.10,222.84 L75.06,222.70Z" fill="none" stroke="rgb(88,88,88)" stroke-width="0.55" stroke-linejoin="round"/>
<path d="M77.79,222.60 L77.82,222.38 L77.88,222.11 L77.97,221.80 L78.08,221.46 L78.21,221.11 L78.35,220.75 L78.49,220.40 L78.63,220.08 L78.78,219.78 L78.94,219.49 L79.11,219.20 L79.28,218.90 L79.47,218.61 L79.66,218.33 L79.86,218.05 L80.07,217.78 L80.28,217.51 L80.49,217.26 L80.72,217.01 L80.95,216.76 L81.19,216.52 L81.43,216.28 L81.69,216.05 L81.96,215.82 L82.24,215.60 L82.53,215.38 L82.83,215.17 L83.15,214.96 L83.48,214.76 L83.82,214.57 L84.18,214.38 L84.56,214.21 L84.95,214.04 L85.37,213.88 L85.81,213.74 L86.26,213.61 L86.72,213.51 L87.19,213.43 L87.66,213.38 L88.14,213.35 L88.61,213.35 L89.09,213.38 L89.58,213.43 L90.05,213.51 L90.53,213.62 L90.99,213.75 L91.43,213.91 L91.86,214.09 L92.28,214.30 L92.69,214.53 L93.09,214.78 L93.47,215.05 L93.83,215.35 L94.18,215.65 L94.50,215.98 L94.81,216.31 L95.09,216.66 L95.36,217.02 L95.61,217.41 L95.84,217.80 L96.06,218.22 L96.26,218.65 L96.44,219.10 L96.60,219.56 L96.75,220.04 L96.87,220.54 L96.98,221.05 L97.06,221.59 L97.11,222.13 L97.14,222.70 L97.14,223.28 L97.10,223.88 L97.04,224.50 L96.93,225.14 L96.78,225.80 L96.59,226.46 L96.36,227.09 L96.11,227.70 L95.83,228.26 L95.55,228.77 L95.25,229.25 L94.94,229.69 L94.62,230.10 L94.29,230.48 L93.95,230.83 L93.61,231.16 L93.27,231.46 L92.92,231.74 L92.57,232.00 L92.22,232.24 L91.85,232.46 L91.50,232.66 L91.14,232.84 L90.80,232.99 L90.48,233.13 L90.17,233.24 L89.88,233.33 L89.59,233.40 L89.31,233.46 L89.04,233.51 L88.77,233.54 L88.50,233.57 L88.24,233.58 L87.98,233.58 L87.72,233.57 L87.47,233.54 L87.21,233.51 L86.96,233.46 L86.70,233.41 L86.44,233.34 L86.17,233.25 L85.89,233.16 L85.61,233.04 L85.31,232.92 L85.01,232.78 L84.71,232.62 L84.40,232.44 L84.08,232.24 L83.76,232.02 L83.43,231.78 L83.10,231.51 L82.77,231.21 L82.43,230.89 L82.10,230.54 L81.77,230.17 L81.45,229.78 L81.13,229.37 L80.84,228.96 L80.55,228.52 L80.27,228.05 L80.00,227.58 L79.75,227.10 L79.53,226.63 L79.32,226.18 L79.15,225.77 L78.99,225.40 L78.86,225.07 L78.73,224.76 L78.62,224.47 L78.51,224.21 L78.41,223.97 L78.32,223.75 L78.24,223.55 L78.17,223.38 L78.10,223.24 L78.03,223.15 L77.96,223.08 L77.89,223.02 L77.84,222.95 L77.80,222.87 L77.78,222.76Z" fill="none" stroke="rgb(84,84,84)" stroke-width="0.55" stroke-linejoin="round"/>
<path d="M80.50,222.70 L80.51,222.53 L80.52,222.33 L80.54,222.09 L80.57,221.82 L80.60,221.54 L80.65,221.25 L80.70,220.96 L80.76,220.70 L80.82,220.45 L80.89,220.19 L80.97,219.93 L81.05,219.67 L81.15,219.41 L81.25,219.15 L81.36,218.89 L81.48,218.63 L81.61,218.38 L81.74,218.13 L81.89,217.88 L82.04,217.64 L82.20,217.39 L82.37,217.15 L82.56,216.91 L82.75,216.66 L82.96,216.42 L83.19,216.19 L83.43,215.96 L83.68,215.73 L83.95,215.50 L84.23,215.28 L84.54,215.07 L84.87,214.87 L85.22,214.67 L85.59,214.49 L85.99,214.32 L86.40,214.17 L86.83,214.04 L87.27,213.94 L87.72,213.87 L88.16,213.82 L88.62,213.80 L89.08,213.81 L89.54,213.85 L90.00,213.92 L90.45,214.01 L90.89,214.13 L91.32,214.28 L91.74,214.45 L92.14,214.65 L92.53,214.87 L92.91,215.11 L93.28,215.37 L93.63,215.65 L93.96,215.94 L94.27,216.25 L94.57,216.57 L94.84,216.90 L95.10,217.25 L95.35,217.61 L95.58,217.99 L95.80,218.39 L96.00,218.80 L96.18,219.23 L96.35,219.68 L96.49,220.14 L96.62,220.62 L96.73,221.11 L96.81,221.63 L96.87,222.16 L96.90,222.71 L96.90,223.27 L96.86,223.85 L96.80,224.45 L96.69,225.08 L96.53,225.72 L96.34,226.35 L96.10,226.95 L95.84,227.53 L95.55,228.05 L95.25,228.53 L94.95,228.96 L94.63,229.36 L94.30,229.72 L93.97,230.05 L93.63,230.35 L93.29,230.63 L92.95,230.87 L92.61,231.09 L92.27,231.28 L91.92,231.46 L91.57,231.62 L91.23,231.75 L90.90,231.86 L90.59,231.95 L90.29,232.03 L90.01,232.08 L89.74,232.13 L89.49,232.16 L89.24,232.18 L89.00,232.19 L88.76,232.20 L88.53,232.20 L88.30,232.19 L88.07,232.17 L87.85,232.15 L87.63,232.12 L87.42,232.09 L87.20,232.04 L86.97,231.99 L86.75,231.94 L86.51,231.87 L86.27,231.79 L86.02,231.70 L85.77,231.59 L85.51,231.47 L85.24,231.34 L84.97,231.19 L84.69,231.02 L84.41,230.84 L84.12,230.63 L83.83,230.40 L83.54,230.15 L83.24,229.87 L82.95,229.56 L82.67,229.24 L82.40,228.89 L82.14,228.52 L81.90,228.15 L81.68,227.75 L81.47,227.33 L81.28,226.90 L81.11,226.48 L80.97,226.06 L80.85,225.66 L80.76,225.30 L80.69,224.98 L80.64,224.69 L80.60,224.43 L80.57,224.19 L80.55,223.97 L80.53,223.77 L80.52,223.59 L80.51,223.43 L80.50,223.30 L80.50,223.19 L80.50,223.11 L80.50,223.06 L80.50,223.01 L80.50,222.97 L80.50,222.90 L80.50,222.82Z" fill="none" stroke="rgb(80,80,80)" stroke-width="0.55" stroke-linejoin="round"/>
<path d="M95.70,223.00 L95.36,225.44 L94.36,227.64 L92.81,229.39 L90.86,230.51 L88.70,230.90 L86.54,230.51 L84.59,229.39 L83.04,227.64 L82.04,225.44 L81.70,223.00 L82.04,220.56 L83.04,218.36 L84.59,216.61 L86.54,215.49 L88.70,215.10 L90.86,215.49 L92.81,216.61 L94.36,218.36 L95.36,220.56Z" fill="none" stroke="rgb(80,80,80)" stroke-width="0.55" stroke-linejoin="round"/>
<path d="M94.68,222.91 L94.38,225.00 L93.53,226.87 L92.20,228.36 L90.54,229.31 L88.70,229.63 L86.86,229.31 L85.20,228.36 L83.87,226.87 L83.02,225.00 L82.72,222.91 L83.01,220.83 L83.86,218.94 L85.18,217.45 L86.85,216.50 L88.70,216.17 L90.55,216.50 L92.22,217.45 L93.54,218.94 L94.39,220.83Z" fill="none" stroke="rgb(74,74,74)" stroke-width="0.55" stroke-linejoin="round"/>
<path d="M93.67,222.83 L93.41,224.55 L92.70,226.10 L91.60,227.32 L90.22,228.10 L88.70,228.37 L87.18,228.10 L85.80,227.32 L84.70,226.10 L83.99,224.55 L83.73,222.83 L83.97,221.09 L84.68,219.53 L85.78,218.29 L87.17,217.50 L88.70,217.23 L90.23,217.50 L91.62,218.29 L92.72,219.53 L93.43,221.09Z" fill="none" stroke="rgb(69,69,69)" stroke-width="0.55" stroke-linejoin="round"/>
<path d="M92.65,222.74 L92.44,224.11 L91.86,225.33 L90.99,226.28 L89.90,226.89 L88.70,227.10 L87.50,226.89 L86.41,226.28 L85.54,225.33 L84.96,224.11 L84.75,222.74 L84.94,221.36 L85.50,220.12 L86.38,219.14 L87.48,218.51 L88.70,218.30 L89.92,218.51 L91.02,219.14 L91.90,220.12 L92.46,221.36Z" fill="none" stroke="rgb(64,64,64)" stroke-width="0.55" stroke-linejoin="round"/>
<path d="M91.63,222.65 L91.46,223.66 L91.03,224.56 L90.38,225.25 L89.58,225.68 L88.70,225.83 L87.82,225.68 L87.02,225.25 L86.37,224.56 L85.94,223.66 L85.77,222.65 L85.90,221.63 L86.32,220.70 L86.98,219.98 L87.80,219.52 L88.70,219.37 L89.60,219.52 L90.42,219.98 L91.08,220.70 L91.50,221.63Z" fill="none" stroke="rgb(58,58,58)" stroke-width="0.55" stroke-linejoin="round"/>
<path d="M90.61,222.56 L90.49,223.22 L90.19,223.78 L89.77,224.21 L89.25,224.48 L88.70,224.57 L88.15,224.48 L87.63,224.21 L87.21,223.78 L86.91,223.22 L86.79,222.56 L86.87,221.89 L87.15,221.29 L87.58,220.82 L88.12,220.53 L88.70,220.43 L89.28,220.53 L89.82,220.82 L90.25,221.29 L90.53,221.89Z" fill="none" stroke="rgb(53,53,53)" stroke-width="0.55" stroke-linejoin="round"/>
<path d="M89.60,222.48 L89.52,222.77 L89.36,223.01 L89.16,223.18 L88.93,223.27 L88.70,223.30 L88.47,223.27 L88.24,223.18 L88.04,223.01 L87.88,222.77 L87.80,222.48 L87.83,222.16 L87.97,221.88 L88.18,221.67 L88.43,221.54 L88.70,221.50 L88.97,221.54 L89.22,221.67 L89.43,221.88 L89.57,222.16Z" fill="none" stroke="rgb(48,48,48)" stroke-width="0.55" stroke-linejoin="round"/>
<path d="M35.30,247.70 L35.33,247.14 L35.41,246.55 L35.54,245.96 L35.73,245.38 L35.97,244.81 L36.26,244.29 L36.61,243.81 L37.00,243.40 L37.45,243.05 L37.95,242.75 L38.50,242.49 L39.11,242.27 L39.76,242.08 L40.46,241.93 L41.21,241.80 L42.00,241.70 L42.86,241.63 L43.79,241.62 L44.78,241.64 L45.81,241.68 L46.87,241.74 L47.93,241.81 L48.98,241.86 L50.00,241.90 L51.00,241.92 L52.00,241.92 L53.00,241.93 L54.00,241.93 L55.00,241.94 L56.00,241.97 L57.00,242.02 L58.00,242.10 L59.02,242.21 L60.06,242.33 L61.11,242.48 L62.16,242.64 L63.18,242.81 L64.18,243.00 L65.12,243.20 L66.00,243.40 L66.83,243.62 L67.63,243.85 L68.39,244.10 L69.11,244.36 L69.78,244.62 L70.41,244.88 L70.98,245.15 L71.50,245.40 L71.97,245.65 L72.41,245.90 L72.80,246.14 L73.14,246.39 L73.42,246.64 L73.62,246.89 L73.75,247.14 L73.80,247.40 L73.75,247.67 L73.62,247.95 L73.42,248.23 L73.14,248.51 L72.80,248.80 L72.41,249.07 L71.97,249.34 L71.50,249.60 L70.98,249.85 L70.41,250.09 L69.78,250.33 L69.11,250.56 L68.39,250.79 L67.63,251.00 L66.83,251.21 L66.00,251.40 L65.12,251.58 L64.18,251.76 L63.18,251.92 L62.16,252.08 L61.11,252.23 L60.06,252.36 L59.02,252.49 L58.00,252.60 L57.00,252.70 L56.00,252.78 L55.00,252.84 L54.00,252.90 L53.00,252.95 L52.00,253.00 L51.00,253.05 L50.00,253.10 L48.98,253.17 L47.93,253.25 L46.87,253.33 L45.81,253.41 L44.78,253.48 L43.79,253.52 L42.86,253.53 L42.00,253.50 L41.21,253.44 L40.46,253.37 L39.76,253.28 L39.11,253.16 L38.50,253.00 L37.95,252.79 L37.45,252.53 L37.00,252.20 L36.61,251.79 L36.26,251.30 L35.97,250.74 L35.73,250.14 L35.54,249.51 L35.41,248.89 L35.33,248.27Z" fill="none" stroke="rgb(144,144,144)" stroke-width="0.5" stroke-linejoin="round"/>
<path d="M36.67,247.68 L36.72,247.17 L37.04,246.64 L37.57,246.15 L38.22,245.70 L38.88,245.30 L39.52,244.95 L40.12,244.65 L40.67,244.40 L41.19,244.20 L41.71,244.02 L42.22,243.87 L42.73,243.74 L43.26,243.63 L43.80,243.54 L44.36,243.47 L44.94,243.41 L45.55,243.36 L46.20,243.35 L46.89,243.35 L47.60,243.36 L48.33,243.39 L49.08,243.41 L49.82,243.44 L50.55,243.45 L51.28,243.46 L52.00,243.46 L52.72,243.46 L53.45,243.47 L54.17,243.48 L54.90,243.50 L55.63,243.53 L56.36,243.57 L57.12,243.64 L57.91,243.71 L58.71,243.80 L59.52,243.90 L60.34,244.01 L61.13,244.12 L61.91,244.25 L62.64,244.38 L63.36,244.53 L64.06,244.68 L64.76,244.85 L65.43,245.03 L66.08,245.22 L66.68,245.41 L67.24,245.61 L67.74,245.80 L68.20,246.00 L68.61,246.19 L68.97,246.39 L69.28,246.59 L69.54,246.79 L69.72,247.00 L69.85,247.21 L69.90,247.42 L69.87,247.64 L69.77,247.87 L69.58,248.10 L69.33,248.33 L69.01,248.56 L68.63,248.78 L68.20,249.00 L67.74,249.20 L67.25,249.39 L66.70,249.57 L66.12,249.75 L65.50,249.92 L64.85,250.08 L64.18,250.23 L63.48,250.37 L62.78,250.50 L62.04,250.63 L61.27,250.74 L60.47,250.85 L59.65,250.95 L58.83,251.05 L58.02,251.13 L57.21,251.21 L56.44,251.27 L55.69,251.33 L54.94,251.38 L54.20,251.42 L53.46,251.45 L52.73,251.47 L52.00,251.50 L51.27,251.52 L50.55,251.55 L49.83,251.58 L49.09,251.61 L48.35,251.65 L47.62,251.68 L46.91,251.71 L46.24,251.73 L45.60,251.72 L45.00,251.70 L44.44,251.66 L43.91,251.61 L43.40,251.56 L42.91,251.49 L42.44,251.39 L41.97,251.27 L41.51,251.12 L41.03,250.94 L40.53,250.70 L39.97,250.40 L39.35,250.06 L38.68,249.66 L38.00,249.21 L37.36,248.72 L36.89,248.20Z" fill="none" stroke="rgb(136,136,136)" stroke-width="0.5" stroke-linejoin="round"/>
<path d="M38.03,247.67 L38.10,247.20 L38.67,246.74 L39.60,246.34 L40.70,246.02 L41.79,245.79 L42.78,245.62 L43.63,245.50 L44.34,245.41 L44.94,245.34 L45.46,245.29 L45.93,245.25 L46.36,245.21 L46.76,245.18 L47.14,245.16 L47.51,245.13 L47.88,245.11 L48.25,245.09 L48.61,245.07 L48.99,245.06 L49.39,245.04 L49.80,245.03 L50.23,245.02 L50.67,245.01 L51.11,245.01 L51.55,245.00 L52.00,245.00 L52.45,245.00 L52.90,245.01 L53.34,245.01 L53.79,245.02 L54.25,245.03 L54.72,245.05 L55.22,245.07 L55.75,245.09 L56.31,245.12 L56.89,245.16 L57.49,245.20 L58.09,245.25 L58.69,245.30 L59.29,245.37 L59.89,245.43 L60.50,245.51 L61.13,245.60 L61.76,245.71 L62.37,245.82 L62.95,245.94 L63.50,246.07 L63.99,246.21 L64.43,246.35 L64.81,246.49 L65.15,246.64 L65.43,246.79 L65.66,246.95 L65.83,247.11 L65.94,247.27 L66.00,247.44 L65.99,247.61 L65.91,247.79 L65.75,247.97 L65.52,248.15 L65.22,248.32 L64.85,248.49 L64.44,248.65 L63.99,248.79 L63.51,248.92 L62.99,249.05 L62.45,249.16 L61.89,249.27 L61.31,249.37 L60.72,249.46 L60.14,249.53 L59.56,249.60 L58.97,249.67 L58.37,249.73 L57.76,249.78 L57.15,249.82 L56.56,249.86 L55.97,249.90 L55.41,249.92 L54.88,249.95 L54.37,249.96 L53.88,249.98 L53.40,249.99 L52.92,249.99 L52.46,250.00 L52.00,250.00 L51.55,250.00 L51.11,249.99 L50.67,249.99 L50.24,249.98 L49.83,249.97 L49.43,249.96 L49.05,249.94 L48.69,249.93 L48.34,249.91 L48.01,249.90 L47.68,249.88 L47.36,249.86 L47.05,249.84 L46.72,249.82 L46.38,249.79 L46.00,249.76 L45.57,249.72 L45.07,249.67 L44.45,249.60 L43.67,249.51 L42.73,249.37 L41.63,249.18 L40.45,248.91 L39.32,248.56 L38.45,248.13Z" fill="none" stroke="rgb(128,128,128)" stroke-width="0.5" stroke-linejoin="round"/>
<path d="M50.30,247.70 L49.74,249.73 L48.16,251.45 L45.79,252.60 L43.00,253.00 L40.21,252.60 L37.84,251.45 L36.26,249.73 L35.70,247.70 L36.26,245.67 L37.84,243.95 L40.21,242.80 L43.00,242.40 L45.79,242.80 L48.16,243.95 L49.74,245.67Z" fill="none" stroke="rgb(69,69,69)" stroke-width="0.55" stroke-linejoin="round"/>
<path d="M49.51,247.70 L49.00,249.51 L47.56,251.03 L45.45,252.03 L42.98,252.39 L40.50,252.04 L38.39,251.03 L36.95,249.51 L36.43,247.70 L36.95,245.89 L38.39,244.37 L40.50,243.36 L42.98,243.01 L45.45,243.37 L47.56,244.37 L49.00,245.89Z" fill="none" stroke="rgb(64,64,64)" stroke-width="0.55" stroke-linejoin="round"/>
<path d="M48.73,247.70 L48.25,249.29 L46.96,250.61 L45.11,251.47 L42.95,251.77 L40.80,251.47 L38.94,250.62 L37.64,249.30 L37.16,247.70 L37.64,246.10 L38.94,244.78 L40.80,243.93 L42.95,243.63 L45.11,243.93 L46.96,244.79 L48.25,246.11Z" fill="none" stroke="rgb(60,60,60)" stroke-width="0.55" stroke-linejoin="round"/>
<path d="M47.94,247.70 L47.51,249.08 L46.36,250.19 L44.76,250.91 L42.93,251.16 L41.10,250.91 L39.49,250.20 L38.33,249.08 L37.89,247.70 L38.33,246.32 L39.49,245.20 L41.10,244.49 L42.93,244.24 L44.76,244.49 L46.36,245.21 L47.51,246.32Z" fill="none" stroke="rgb(56,56,56)" stroke-width="0.55" stroke-linejoin="round"/>
<path d="M47.16,247.70 L46.76,248.86 L45.76,249.77 L44.42,250.34 L42.91,250.54 L41.40,250.35 L40.04,249.78 L39.02,248.87 L38.61,247.70 L39.02,246.53 L40.04,245.62 L41.40,245.05 L42.91,244.86 L44.42,245.06 L45.76,245.63 L46.76,246.54Z" fill="none" stroke="rgb(52,52,52)" stroke-width="0.55" stroke-linejoin="round"/>
<path d="M46.37,247.70 L46.02,248.64 L45.16,249.35 L44.07,249.78 L42.88,249.93 L41.69,249.79 L40.59,249.37 L39.72,248.66 L39.34,247.70 L39.72,246.74 L40.59,246.03 L41.69,245.61 L42.88,245.47 L44.07,245.62 L45.16,246.05 L46.02,246.76Z" fill="none" stroke="rgb(48,48,48)" stroke-width="0.55" stroke-linejoin="round"/>
<path d="M45.59,247.70 L45.27,248.42 L44.56,248.93 L43.73,249.22 L42.86,249.31 L41.99,249.23 L41.14,248.95 L40.41,248.44 L40.07,247.70 L40.41,246.96 L41.14,246.45 L41.99,246.17 L42.86,246.09 L43.73,246.18 L44.56,246.47 L45.27,246.98Z" fill="none" stroke="rgb(44,44,44)" stroke-width="0.55" stroke-linejoin="round"/>
<path d="M44.80,247.70 L44.53,248.20 L43.96,248.51 L43.38,248.66 L42.84,248.70 L42.29,248.67 L41.70,248.53 L41.10,248.23 L40.80,247.70 L41.10,247.17 L41.70,246.87 L42.29,246.73 L42.84,246.70 L43.38,246.74 L43.96,246.89 L44.53,247.20Z" fill="none" stroke="rgb(40,40,40)" stroke-width="0.55" stroke-linejoin="round"/>
<path d="M67.00,246.90 L66.39,248.51 L64.66,249.87 L62.06,250.78 L59.00,251.10 L55.94,250.78 L53.34,249.87 L51.61,248.51 L51.00,246.90 L51.61,245.29 L53.34,243.93 L55.94,243.02 L59.00,242.70 L62.06,243.02 L64.66,243.93 L66.39,245.29Z" fill="none" stroke="rgb(136,136,136)" stroke-width="0.5" stroke-linejoin="round"/>
<path d="M65.50,246.86 L64.98,248.16 L63.56,249.25 L61.46,249.97 L59.00,250.22 L56.54,249.97 L54.44,249.25 L53.02,248.16 L52.50,246.86 L53.00,245.56 L54.42,244.46 L56.53,243.73 L59.00,243.48 L61.47,243.73 L63.58,244.46 L65.00,245.56Z" fill="none" stroke="rgb(128,128,128)" stroke-width="0.5" stroke-linejoin="round"/>
<path d="M64.00,246.82 L63.57,247.82 L62.45,248.64 L60.85,249.17 L59.00,249.35 L57.15,249.17 L55.55,248.64 L54.43,247.82 L54.00,246.82 L54.38,245.82 L55.49,244.98 L57.12,244.44 L59.00,244.25 L60.88,244.44 L62.51,244.98 L63.62,245.82Z" fill="none" stroke="rgb(120,120,120)" stroke-width="0.5" stroke-linejoin="round"/>
<path d="M62.50,246.79 L62.17,247.47 L61.35,248.02 L60.25,248.36 L59.00,248.47 L57.75,248.36 L56.65,248.02 L55.83,247.47 L55.50,246.79 L55.77,246.09 L56.57,245.51 L57.71,245.15 L59.00,245.02 L60.29,245.15 L61.43,245.51 L62.23,246.09Z" fill="none" stroke="rgb(112,112,112)" stroke-width="0.5" stroke-linejoin="round"/>
<path d="M61.00,246.75 L60.76,247.13 L60.25,247.40 L59.64,247.55 L59.00,247.60 L58.36,247.55 L57.75,247.40 L57.24,247.13 L57.00,246.75 L57.16,246.35 L57.65,246.04 L58.30,245.86 L59.00,245.80 L59.70,245.86 L60.35,246.04 L60.84,246.35Z" fill="none" stroke="rgb(104,104,104)" stroke-width="0.5" stroke-linejoin="round"/>
<circle cx="67.99" cy="231.59" r="0.28" fill="#777"/>
<circle cx="73.54" cy="233.74" r="0.28" fill="#777"/>
<circle cx="84.28" cy="214.36" r="0.28" fill="#777"/>
<circle cx="58.55" cy="242.15" r="0.28" fill="#777"/>
<circle cx="68.89" cy="220.44" r="0.28" fill="#777"/>
<circle cx="99.82" cy="228.93" r="0.28" fill="#777"/>
<circle cx="93.13" cy="229.15" r="0.28" fill="#777"/>
<circle cx="84.84" cy="217.42" r="0.28" fill="#777"/>
<circle cx="84.66" cy="243.25" r="0.28" fill="#777"/>
<circle cx="79.97" cy="238.69" r="0.28" fill="#777"/>
<circle cx="86.20" cy="214.31" r="0.28" fill="#777"/>
<circle cx="89.85" cy="233.28" r="0.28" fill="#777"/>
<circle cx="70.65" cy="213.12" r="0.28" fill="#777"/>
<circle cx="94.35" cy="229.02" r="0.28" fill="#777"/>
<path d="M130.50,247.90 L130.53,247.36 L130.64,246.79 L130.80,246.22 L131.03,245.66 L131.32,245.12 L131.66,244.62 L132.06,244.17 L132.50,243.80 L133.00,243.50 L133.57,243.26 L134.20,243.08 L134.88,242.93 L135.60,242.82 L136.37,242.73 L137.17,242.66 L138.00,242.60 L138.87,242.56 L139.80,242.55 L140.77,242.56 L141.78,242.60 L142.82,242.65 L143.87,242.70 L144.94,242.76 L146.00,242.80 L147.08,242.84 L148.18,242.88 L149.30,242.93 L150.44,242.98 L151.58,243.03 L152.73,243.08 L153.87,243.14 L155.00,243.20 L156.14,243.26 L157.31,243.31 L158.48,243.37 L159.66,243.42 L160.81,243.49 L161.93,243.57 L162.99,243.68 L164.00,243.80 L164.95,243.95 L165.88,244.11 L166.76,244.30 L167.61,244.49 L168.41,244.70 L169.16,244.93 L169.86,245.16 L170.50,245.40 L171.11,245.65 L171.70,245.93 L172.26,246.21 L172.76,246.51 L173.19,246.81 L173.51,247.11 L173.73,247.41 L173.80,247.70 L173.73,247.99 L173.51,248.29 L173.19,248.59 L172.76,248.89 L172.26,249.19 L171.70,249.47 L171.11,249.75 L170.50,250.00 L169.86,250.24 L169.16,250.47 L168.41,250.68 L167.61,250.89 L166.76,251.08 L165.88,251.27 L164.95,251.44 L164.00,251.60 L162.99,251.75 L161.93,251.88 L160.81,252.01 L159.66,252.12 L158.48,252.22 L157.31,252.32 L156.14,252.41 L155.00,252.50 L153.87,252.58 L152.73,252.66 L151.58,252.73 L150.44,252.79 L149.30,252.85 L148.18,252.91 L147.08,252.95 L146.00,253.00 L144.94,253.05 L143.87,253.10 L142.82,253.15 L141.78,253.19 L140.77,253.23 L139.80,253.24 L138.87,253.23 L138.00,253.20 L137.17,253.15 L136.37,253.11 L135.60,253.06 L134.88,252.98 L134.20,252.87 L133.57,252.71 L133.00,252.49 L132.50,252.20 L132.06,251.82 L131.66,251.35 L131.32,250.82 L131.03,250.24 L130.80,249.64 L130.64,249.04 L130.53,248.45Z" fill="none" stroke="rgb(144,144,144)" stroke-width="0.5" stroke-linejoin="round"/>
<path d="M133.25,247.90 L133.35,247.44 L133.65,246.97 L134.12,246.51 L134.68,246.09 L135.28,245.71 L135.89,245.37 L136.46,245.09 L137.01,244.86 L137.53,244.67 L138.04,244.53 L138.56,244.41 L139.09,244.32 L139.64,244.24 L140.20,244.19 L140.78,244.14 L141.38,244.09 L142.00,244.06 L142.65,244.04 L143.32,244.04 L144.02,244.05 L144.75,244.06 L145.49,244.08 L146.26,244.10 L147.03,244.11 L147.82,244.13 L148.64,244.14 L149.48,244.16 L150.33,244.19 L151.20,244.22 L152.07,244.25 L152.94,244.28 L153.81,244.32 L154.68,244.36 L155.57,244.40 L156.46,244.45 L157.35,244.50 L158.21,244.55 L159.06,244.62 L159.87,244.69 L160.64,244.78 L161.40,244.89 L162.13,245.01 L162.85,245.14 L163.55,245.28 L164.22,245.43 L164.86,245.59 L165.47,245.77 L166.03,245.95 L166.57,246.14 L167.09,246.35 L167.57,246.57 L168.00,246.80 L168.36,247.03 L168.64,247.27 L168.82,247.51 L168.89,247.74 L168.86,247.97 L168.73,248.21 L168.50,248.45 L168.18,248.69 L167.79,248.93 L167.34,249.16 L166.84,249.37 L166.32,249.57 L165.77,249.76 L165.18,249.93 L164.55,250.10 L163.88,250.25 L163.18,250.40 L162.45,250.54 L161.69,250.67 L160.92,250.79 L160.11,250.89 L159.26,250.99 L158.38,251.08 L157.48,251.17 L156.56,251.24 L155.64,251.31 L154.72,251.37 L153.83,251.43 L152.96,251.48 L152.08,251.52 L151.20,251.56 L150.33,251.60 L149.47,251.63 L148.64,251.65 L147.82,251.67 L147.03,251.69 L146.26,251.70 L145.49,251.72 L144.75,251.74 L144.02,251.75 L143.32,251.76 L142.64,251.75 L141.99,251.74 L141.38,251.71 L140.79,251.67 L140.22,251.64 L139.68,251.60 L139.15,251.54 L138.64,251.47 L138.14,251.37 L137.64,251.24 L137.13,251.06 L136.60,250.83 L136.01,250.53 L135.39,250.18 L134.76,249.78 L134.16,249.34 L133.67,248.86 L133.35,248.37Z" fill="none" stroke="rgb(136,136,136)" stroke-width="0.5" stroke-linejoin="round"/>
<path d="M136.00,247.90 L136.17,247.51 L136.67,247.14 L137.43,246.80 L138.33,246.52 L139.25,246.30 L140.11,246.13 L140.87,246.00 L141.51,245.91 L142.05,245.84 L142.51,245.79 L142.93,245.74 L143.31,245.70 L143.68,245.67 L144.03,245.64 L144.39,245.61 L144.75,245.58 L145.12,245.56 L145.49,245.53 L145.87,245.51 L146.26,245.49 L146.68,245.47 L147.11,245.45 L147.58,245.44 L148.06,245.42 L148.56,245.41 L149.10,245.41 L149.65,245.40 L150.22,245.40 L150.81,245.40 L151.41,245.41 L152.01,245.43 L152.61,245.44 L153.22,245.47 L153.83,245.50 L154.44,245.53 L155.03,245.57 L155.62,245.61 L156.18,245.66 L156.74,245.71 L157.29,245.77 L157.84,245.83 L158.39,245.90 L158.94,245.98 L159.50,246.06 L160.04,246.16 L160.57,246.26 L161.08,246.37 L161.56,246.49 L162.03,246.62 L162.47,246.77 L162.89,246.92 L163.24,247.09 L163.54,247.26 L163.76,247.44 L163.91,247.61 L163.98,247.78 L164.00,247.95 L163.94,248.13 L163.81,248.31 L163.60,248.49 L163.32,248.67 L162.97,248.84 L162.57,249.00 L162.14,249.14 L161.69,249.28 L161.20,249.40 L160.69,249.52 L160.15,249.62 L159.59,249.72 L159.02,249.81 L158.43,249.90 L157.84,249.97 L157.23,250.04 L156.60,250.10 L155.96,250.16 L155.30,250.21 L154.63,250.26 L153.96,250.30 L153.31,250.33 L152.67,250.35 L152.04,250.37 L151.42,250.39 L150.82,250.40 L150.22,250.40 L149.65,250.40 L149.09,250.39 L148.56,250.39 L148.06,250.38 L147.58,250.36 L147.12,250.35 L146.68,250.33 L146.26,250.31 L145.86,250.29 L145.48,250.27 L145.11,250.24 L144.75,250.22 L144.40,250.19 L144.08,250.17 L143.75,250.14 L143.43,250.11 L143.09,250.07 L142.71,250.03 L142.28,249.99 L141.77,249.92 L141.14,249.84 L140.36,249.71 L139.47,249.55 L138.49,249.32 L137.52,249.03 L136.70,248.68 L136.17,248.29Z" fill="none" stroke="rgb(128,128,128)" stroke-width="0.5" stroke-linejoin="round"/>
<path d="M145.70,247.90 L145.14,249.81 L143.56,251.44 L141.19,252.52 L138.40,252.90 L135.61,252.52 L133.24,251.44 L131.66,249.81 L131.10,247.90 L131.66,245.99 L133.24,244.36 L135.61,243.28 L138.40,242.90 L141.19,243.28 L143.56,244.36 L145.14,245.99Z" fill="none" stroke="rgb(69,69,69)" stroke-width="0.55" stroke-linejoin="round"/>
<path d="M145.00,247.90 L144.45,249.62 L142.98,251.05 L140.86,252.00 L138.38,252.33 L135.90,252.00 L133.77,251.06 L132.29,249.63 L131.74,247.90 L132.29,246.17 L133.77,244.74 L135.90,243.80 L138.38,243.47 L140.86,243.80 L142.98,244.75 L144.45,246.18Z" fill="none" stroke="rgb(64,64,64)" stroke-width="0.55" stroke-linejoin="round"/>
<path d="M144.30,247.90 L143.76,249.43 L142.40,250.67 L140.52,251.48 L138.35,251.76 L136.19,251.48 L134.30,250.68 L132.93,249.44 L132.39,247.90 L132.93,246.36 L134.30,245.12 L136.19,244.32 L138.35,244.04 L140.52,244.32 L142.40,245.13 L143.76,246.37Z" fill="none" stroke="rgb(59,59,59)" stroke-width="0.55" stroke-linejoin="round"/>
<path d="M143.60,247.90 L143.07,249.24 L141.83,250.29 L140.18,250.96 L138.33,251.19 L136.48,250.96 L134.84,250.30 L133.57,249.25 L133.03,247.90 L133.57,246.55 L134.84,245.50 L136.48,244.84 L138.33,244.61 L140.18,244.84 L141.83,245.51 L143.07,246.56Z" fill="none" stroke="rgb(55,55,55)" stroke-width="0.55" stroke-linejoin="round"/>
<path d="M142.90,247.90 L142.38,249.05 L141.25,249.91 L139.84,250.43 L138.31,250.61 L136.77,250.44 L135.37,249.92 L134.21,249.07 L133.67,247.90 L134.21,246.73 L135.37,245.88 L136.77,245.36 L138.31,245.19 L139.84,245.37 L141.25,245.89 L142.38,246.75Z" fill="none" stroke="rgb(50,50,50)" stroke-width="0.55" stroke-linejoin="round"/>
<path d="M142.20,247.90 L141.69,248.86 L140.67,249.53 L139.50,249.91 L138.29,250.04 L137.07,249.92 L135.90,249.54 L134.85,248.88 L134.31,247.90 L134.85,246.92 L135.90,246.26 L137.07,245.88 L138.29,245.76 L139.50,245.89 L140.67,246.27 L141.69,246.94Z" fill="none" stroke="rgb(46,46,46)" stroke-width="0.55" stroke-linejoin="round"/>
<path d="M141.50,247.90 L141.00,248.67 L140.09,249.15 L139.17,249.39 L138.26,249.47 L137.36,249.40 L136.43,249.16 L135.49,248.69 L134.96,247.90 L135.49,247.11 L136.43,246.64 L137.36,246.40 L138.26,246.33 L139.17,246.41 L140.09,246.65 L141.00,247.13Z" fill="none" stroke="rgb(41,41,41)" stroke-width="0.55" stroke-linejoin="round"/>
<path d="M140.80,247.90 L140.31,248.48 L139.51,248.76 L138.83,248.87 L138.24,248.90 L137.65,248.88 L136.97,248.78 L136.13,248.51 L135.60,247.90 L136.13,247.29 L136.97,247.02 L137.65,246.92 L138.24,246.90 L138.83,246.93 L139.51,247.04 L140.31,247.32Z" fill="none" stroke="rgb(37,37,37)" stroke-width="0.55" stroke-linejoin="round"/>
<path d="M172.00,247.90 L171.28,249.39 L169.22,250.66 L166.14,251.50 L162.50,251.80 L158.86,251.50 L155.78,250.66 L153.72,249.39 L153.00,247.90 L153.72,246.41 L155.78,245.14 L158.86,244.30 L162.50,244.00 L166.14,244.30 L169.22,245.14 L171.28,246.41Z" fill="none" stroke="rgb(144,144,144)" stroke-width="0.5" stroke-linejoin="round"/>
<path d="M170.62,247.90 L169.89,249.14 L168.06,250.15 L165.52,250.80 L162.60,251.02 L159.68,250.80 L157.14,250.14 L155.33,249.13 L154.62,247.90 L155.33,246.67 L157.14,245.66 L159.68,245.00 L162.60,244.78 L165.52,245.00 L168.06,245.65 L169.89,246.66Z" fill="none" stroke="rgb(132,132,132)" stroke-width="0.5" stroke-linejoin="round"/>
<path d="M169.25,247.90 L168.51,248.89 L166.91,249.63 L164.91,250.09 L162.70,250.25 L160.49,250.09 L158.49,249.62 L156.93,248.88 L156.25,247.90 L156.93,246.92 L158.49,246.18 L160.49,245.71 L162.70,245.55 L164.91,245.71 L166.91,246.17 L168.51,246.91Z" fill="none" stroke="rgb(120,120,120)" stroke-width="0.5" stroke-linejoin="round"/>
<path d="M167.88,247.90 L167.13,248.64 L165.76,249.12 L164.30,249.39 L162.80,249.47 L161.30,249.38 L159.85,249.10 L158.53,248.62 L157.88,247.90 L158.53,247.18 L159.85,246.70 L161.30,246.42 L162.80,246.33 L164.30,246.41 L165.76,246.68 L167.13,247.16Z" fill="none" stroke="rgb(108,108,108)" stroke-width="0.5" stroke-linejoin="round"/>
<path d="M166.50,247.90 L165.75,248.40 L164.60,248.61 L163.68,248.68 L162.90,248.70 L162.11,248.67 L161.20,248.59 L160.14,248.36 L159.50,247.90 L160.14,247.44 L161.20,247.21 L162.11,247.13 L162.90,247.10 L163.68,247.12 L164.60,247.19 L165.75,247.40Z" fill="none" stroke="rgb(96,96,96)" stroke-width="0.5" stroke-linejoin="round"/>
<circle cx="185.16" cy="241.36" r="0.28" fill="#777"/>
<circle cx="184.99" cy="242.63" r="0.28" fill="#777"/>
<circle cx="173.82" cy="239.03" r="0.28" fill="#777"/>
<circle cx="175.56" cy="243.07" r="0.28" fill="#777"/>
<circle cx="190.76" cy="217.92" r="0.28" fill="#777"/>
<circle cx="164.76" cy="221.51" r="0.28" fill="#777"/>
<circle cx="193.79" cy="228.08" r="0.28" fill="#777"/>
<circle cx="181.93" cy="224.03" r="0.28" fill="#777"/>
<circle cx="177.75" cy="226.58" r="0.28" fill="#777"/>
<circle cx="172.28" cy="232.55" r="0.28" fill="#777"/>
<circle cx="180.45" cy="242.13" r="0.28" fill="#777"/>
<circle cx="183.87" cy="242.87" r="0.28" fill="#777"/>
<circle cx="189.97" cy="244.73" r="0.28" fill="#777"/>
<circle cx="183.49" cy="219.89" r="0.28" fill="#777"/>
<circle cx="190.12" cy="243.94" r="0.28" fill="#777"/>
<circle cx="191.66" cy="232.07" r="0.28" fill="#777"/>
<path d="M284.47,234.88 L283.36,237.33 L281.37,239.37 L278.64,240.86 L275.35,241.71 L271.73,241.86 L268.03,241.30 L264.50,240.06 L261.38,238.23 L258.88,235.93 L257.17,233.33 L256.37,230.60 L256.53,227.92 L257.64,225.47 L259.63,223.43 L262.36,221.94 L265.65,221.09 L269.27,220.94 L272.97,221.50 L276.50,222.74 L279.62,224.57 L282.12,226.87 L283.83,229.47 L284.63,232.20Z" fill="none" stroke="rgb(156,156,156)" stroke-width="0.5" stroke-linejoin="round"/>
<path d="M283.23,234.50 L282.22,236.68 L280.34,238.42 L277.88,239.67 L274.99,240.38 L271.83,240.49 L268.61,239.99 L265.54,238.91 L262.82,237.32 L260.63,235.33 L259.10,233.06 L258.34,230.67 L258.38,228.30 L259.29,226.11 L261.09,224.31 L263.57,223.04 L266.50,222.34 L269.67,222.23 L272.91,222.74 L275.99,223.82 L278.72,225.41 L280.92,227.41 L282.47,229.68 L283.26,232.09Z" fill="none" stroke="rgb(148,148,148)" stroke-width="0.5" stroke-linejoin="round"/>
<path d="M281.99,234.12 L281.07,236.04 L279.31,237.47 L277.13,238.49 L274.63,239.05 L271.93,239.11 L269.19,238.67 L266.58,237.75 L264.26,236.41 L262.38,234.72 L261.04,232.79 L260.31,230.74 L260.24,228.68 L260.93,226.74 L262.54,225.19 L264.78,224.14 L267.34,223.58 L270.08,223.53 L272.85,223.97 L275.48,224.90 L277.82,226.25 L279.72,227.95 L281.10,229.89 L281.88,231.98Z" fill="none" stroke="rgb(141,141,141)" stroke-width="0.5" stroke-linejoin="round"/>
<path d="M280.76,233.74 L279.93,235.39 L278.29,236.53 L276.37,237.30 L274.27,237.72 L272.03,237.74 L269.77,237.36 L267.62,236.60 L265.71,235.49 L264.13,234.11 L262.97,232.52 L262.28,230.82 L262.09,229.06 L262.57,227.37 L263.99,226.06 L265.98,225.24 L268.19,224.83 L270.49,224.82 L272.79,225.21 L274.97,225.98 L276.91,227.09 L278.52,228.49 L279.73,230.10 L280.51,231.86Z" fill="none" stroke="rgb(133,133,133)" stroke-width="0.5" stroke-linejoin="round"/>
<path d="M279.52,233.36 L278.79,234.75 L277.26,235.58 L275.62,236.11 L273.90,236.38 L272.13,236.37 L270.35,236.05 L268.67,235.45 L267.15,234.58 L265.88,233.50 L264.91,232.26 L264.25,230.89 L263.94,229.44 L264.22,228.01 L265.44,226.94 L267.19,226.35 L269.03,226.08 L270.90,226.11 L272.73,226.44 L274.46,227.06 L276.01,227.93 L277.32,229.03 L278.36,230.30 L279.13,231.75Z" fill="none" stroke="rgb(126,126,126)" stroke-width="0.5" stroke-linejoin="round"/>
<path d="M278.28,232.98 L277.65,234.10 L276.23,234.64 L274.87,234.93 L273.54,235.05 L272.23,234.99 L270.93,234.74 L269.71,234.29 L268.59,233.67 L267.63,232.89 L266.84,231.99 L266.22,230.97 L265.80,229.82 L265.86,228.64 L266.89,227.82 L268.39,227.45 L269.88,227.33 L271.31,227.41 L272.67,227.68 L273.95,228.14 L275.11,228.77 L276.12,229.57 L276.99,230.51 L277.76,231.63Z" fill="none" stroke="rgb(118,118,118)" stroke-width="0.5" stroke-linejoin="round"/>
<path d="M277.04,232.60 L276.50,233.46 L275.21,233.69 L274.11,233.74 L273.18,233.72 L272.33,233.62 L271.51,233.43 L270.75,233.14 L270.04,232.76 L269.38,232.28 L268.78,231.72 L268.20,231.04 L267.65,230.20 L267.50,229.27 L268.34,228.69 L269.60,228.55 L270.73,228.58 L271.71,228.70 L272.61,228.91 L273.44,229.22 L274.20,229.61 L274.92,230.11 L275.62,230.72 L276.38,231.52Z" fill="none" stroke="rgb(111,111,111)" stroke-width="0.5" stroke-linejoin="round"/>
<path d="M275.80,232.22 L275.36,232.81 L274.18,232.75 L273.36,232.55 L272.82,232.39 L272.42,232.24 L272.10,232.11 L271.79,231.99 L271.48,231.85 L271.13,231.68 L270.71,231.45 L270.17,231.11 L269.51,230.58 L269.15,229.91 L269.80,229.57 L270.80,229.65 L271.57,229.83 L272.12,230.00 L272.55,230.15 L272.93,230.29 L273.30,230.45 L273.72,230.65 L274.25,230.93 L275.00,231.41Z" fill="none" stroke="rgb(104,104,104)" stroke-width="0.5" stroke-linejoin="round"/>
<path d="M272.00,247.70 L271.28,249.23 L269.19,250.65 L265.85,251.87 L261.50,252.81 L256.44,253.40 L251.00,253.60 L245.56,253.40 L240.50,252.81 L236.15,251.87 L232.81,250.65 L230.72,249.23 L230.00,247.70 L230.72,246.17 L232.81,244.75 L236.15,243.53 L240.50,242.59 L245.56,242.00 L251.00,241.80 L256.44,242.00 L261.50,242.59 L265.85,243.53 L269.19,244.75 L271.28,246.17Z" fill="none" stroke="rgb(72,72,72)" stroke-width="0.6" stroke-linejoin="round"/>
<path d="M269.91,247.69 L268.87,249.05 L266.63,250.27 L263.54,251.30 L259.70,252.09 L255.32,252.58 L250.65,252.75 L245.98,252.58 L241.60,252.09 L237.79,251.31 L234.72,250.28 L232.46,249.07 L231.25,247.69 L232.37,246.31 L234.68,245.09 L237.77,244.06 L241.60,243.28 L245.98,242.78 L250.65,242.62 L255.32,242.79 L259.71,243.28 L263.56,244.07 L266.67,245.10 L268.94,246.32Z" fill="none" stroke="rgb(65,65,65)" stroke-width="0.6" stroke-linejoin="round"/>
<path d="M267.83,247.68 L266.45,248.88 L264.07,249.90 L261.22,250.73 L257.90,251.37 L254.20,251.76 L250.29,251.90 L246.39,251.77 L242.71,251.37 L239.42,250.74 L236.62,249.91 L234.20,248.91 L232.51,247.69 L234.03,246.44 L236.54,245.43 L239.38,244.59 L242.69,243.96 L246.39,243.57 L250.30,243.43 L254.21,243.57 L257.93,243.97 L261.27,244.60 L264.16,245.44 L266.60,246.47Z" fill="none" stroke="rgb(58,58,58)" stroke-width="0.6" stroke-linejoin="round"/>
<path d="M265.74,247.67 L264.04,248.71 L261.51,249.52 L258.91,250.16 L256.10,250.65 L253.08,250.95 L249.94,251.05 L246.80,250.95 L243.81,250.65 L241.06,250.17 L238.52,249.54 L235.94,248.75 L233.76,247.68 L235.68,246.57 L238.40,245.76 L241.00,245.13 L243.79,244.65 L246.80,244.35 L249.94,244.25 L253.10,244.35 L256.14,244.66 L258.99,245.14 L261.65,245.79 L264.26,246.61Z" fill="none" stroke="rgb(52,52,52)" stroke-width="0.6" stroke-linejoin="round"/>
<path d="M263.66,247.66 L261.62,248.54 L258.95,249.14 L256.60,249.59 L254.30,249.92 L251.96,250.13 L249.58,250.20 L247.22,250.13 L244.92,249.93 L242.70,249.61 L240.43,249.17 L237.68,248.59 L235.02,247.67 L237.34,246.70 L240.26,246.10 L242.62,245.66 L244.88,245.34 L247.21,245.13 L249.59,245.07 L251.99,245.14 L254.36,245.34 L256.70,245.68 L259.14,246.13 L261.92,246.76Z" fill="none" stroke="rgb(45,45,45)" stroke-width="0.6" stroke-linejoin="round"/>
<path d="M261.57,247.66 L259.20,248.36 L256.40,248.76 L254.28,249.02 L252.50,249.20 L250.84,249.31 L249.23,249.35 L247.63,249.32 L246.02,249.21 L244.33,249.04 L242.33,248.80 L239.43,248.43 L236.27,247.67 L238.99,246.84 L242.12,246.44 L244.23,246.19 L245.98,246.02 L247.62,245.92 L249.24,245.88 L250.88,245.92 L252.57,246.03 L254.41,246.21 L256.63,246.48 L259.58,246.91Z" fill="none" stroke="rgb(38,38,38)" stroke-width="0.6" stroke-linejoin="round"/>
<path d="M259.49,247.65 L256.79,248.19 L253.84,248.39 L251.97,248.45 L250.70,248.48 L249.72,248.49 L248.87,248.50 L248.04,248.50 L247.13,248.49 L245.97,248.48 L244.23,248.43 L241.17,248.27 L237.52,247.66 L240.65,246.97 L243.98,246.78 L245.85,246.73 L247.07,246.71 L248.03,246.70 L248.89,246.70 L249.77,246.71 L250.78,246.72 L252.12,246.75 L254.12,246.83 L257.23,247.05Z" fill="none" stroke="rgb(32,32,32)" stroke-width="0.6" stroke-linejoin="round"/>
<circle cx="276.55" cy="226.33" r="0.28" fill="#777"/>
<circle cx="282.09" cy="237.21" r="0.28" fill="#777"/>
<circle cx="256.39" cy="221.90" r="0.28" fill="#777"/>
<circle cx="283.14" cy="249.69" r="0.28" fill="#777"/>
<circle cx="247.16" cy="244.02" r="0.28" fill="#777"/>
<circle cx="262.29" cy="224.52" r="0.28" fill="#777"/>
<circle cx="256.81" cy="243.06" r="0.28" fill="#777"/>
<circle cx="284.02" cy="221.33" r="0.28" fill="#777"/>
<circle cx="271.88" cy="221.35" r="0.28" fill="#777"/>
<circle cx="276.77" cy="229.93" r="0.28" fill="#777"/>
<circle cx="284.40" cy="249.42" r="0.28" fill="#777"/>
<circle cx="266.75" cy="249.96" r="0.28" fill="#777"/>
<circle cx="257.55" cy="222.31" r="0.28" fill="#777"/>
<circle cx="271.19" cy="220.94" r="0.28" fill="#777"/>
<path d="M360.60,219.00 L360.64,218.44 L360.77,217.95 L360.96,217.52 L361.21,217.14 L361.50,216.81 L361.82,216.51 L362.16,216.25 L362.50,216.00 L362.86,215.79 L363.25,215.62 L363.67,215.49 L364.12,215.39 L364.58,215.32 L365.05,215.27 L365.53,215.23 L366.00,215.20 L366.48,215.18 L366.96,215.19 L367.46,215.21 L367.97,215.25 L368.48,215.30 L368.99,215.36 L369.50,215.43 L370.00,215.50 L370.50,215.57 L371.01,215.65 L371.52,215.74 L372.03,215.84 L372.54,215.94 L373.04,216.05 L373.52,216.17 L374.00,216.30 L374.46,216.43 L374.91,216.58 L375.35,216.72 L375.78,216.88 L376.21,217.05 L376.64,217.22 L377.07,217.41 L377.50,217.60 L377.94,217.80 L378.39,218.01 L378.83,218.22 L379.28,218.44 L379.72,218.68 L380.16,218.93 L380.59,219.21 L381.00,219.50 L381.41,219.81 L381.83,220.14 L382.24,220.48 L382.64,220.84 L383.03,221.22 L383.39,221.62 L383.71,222.05 L384.00,222.50 L384.25,222.99 L384.47,223.52 L384.67,224.08 L384.83,224.66 L384.97,225.25 L385.08,225.84 L385.15,226.43 L385.20,227.00 L385.22,227.57 L385.20,228.14 L385.16,228.71 L385.08,229.28 L384.98,229.85 L384.85,230.41 L384.69,230.96 L384.50,231.50 L384.28,232.04 L384.01,232.60 L383.72,233.16 L383.39,233.70 L383.05,234.22 L382.70,234.70 L382.35,235.13 L382.00,235.50 L381.65,235.81 L381.29,236.08 L380.91,236.30 L380.53,236.48 L380.15,236.62 L379.76,236.72 L379.38,236.78 L379.00,236.80 L378.62,236.78 L378.23,236.71 L377.84,236.60 L377.45,236.45 L377.07,236.26 L376.69,236.04 L376.34,235.79 L376.00,235.50 L375.68,235.17 L375.37,234.79 L375.06,234.37 L374.77,233.92 L374.50,233.45 L374.25,232.96 L374.01,232.48 L373.80,232.00 L373.63,231.50 L373.50,230.96 L373.39,230.40 L373.31,229.83 L373.22,229.29 L373.11,228.79 L372.98,228.35 L372.80,228.00 L372.59,227.74 L372.37,227.55 L372.13,227.43 L371.87,227.34 L371.58,227.29 L371.26,227.26 L370.90,227.24 L370.50,227.20 L370.04,227.18 L369.51,227.21 L368.93,227.26 L368.32,227.31 L367.71,227.36 L367.11,227.39 L366.53,227.37 L366.00,227.30 L365.50,227.20 L365.02,227.09 L364.54,226.97 L364.09,226.81 L363.65,226.60 L363.24,226.33 L362.85,225.96 L362.50,225.50 L362.16,224.89 L361.82,224.12 L361.50,223.25 L361.21,222.32 L360.96,221.39 L360.77,220.49 L360.64,219.68Z" fill="none" stroke="rgb(128,128,128)" stroke-width="0.5" stroke-linejoin="round"/>
<path d="M373.60,221.30 L373.33,222.51 L372.53,223.59 L371.29,224.46 L369.73,225.01 L368.00,225.20 L366.27,225.01 L364.71,224.46 L363.47,223.59 L362.67,222.51 L362.40,221.30 L362.67,220.09 L363.47,219.01 L364.71,218.14 L366.27,217.59 L368.00,217.40 L369.73,217.59 L371.29,218.14 L372.53,219.01 L373.33,220.09Z" fill="none" stroke="rgb(124,124,124)" stroke-width="0.5" stroke-linejoin="round"/>
<path d="M372.40,221.30 L372.18,222.17 L371.56,222.95 L370.59,223.57 L369.36,223.96 L368.00,224.10 L366.64,223.96 L365.41,223.57 L364.44,222.95 L363.82,222.17 L363.60,221.30 L363.82,220.43 L364.44,219.65 L365.41,219.03 L366.64,218.64 L368.00,218.50 L369.36,218.64 L370.59,219.03 L371.56,219.65 L372.18,220.43Z" fill="none" stroke="rgb(116,116,116)" stroke-width="0.5" stroke-linejoin="round"/>
<path d="M371.10,221.30 L370.95,221.79 L370.51,222.24 L369.82,222.59 L368.96,222.82 L368.00,222.90 L367.04,222.82 L366.18,222.59 L365.49,222.24 L365.05,221.79 L364.90,221.30 L365.05,220.81 L365.49,220.36 L366.18,220.01 L367.04,219.78 L368.00,219.70 L368.96,219.78 L369.82,220.01 L370.51,220.36 L370.95,220.81Z" fill="none" stroke="rgb(108,108,108)" stroke-width="0.5" stroke-linejoin="round"/>
<path d="M383.86,227.56 L383.96,229.92 L383.61,232.11 L382.83,233.91 L381.71,235.16 L380.36,235.73 L378.90,235.56 L377.48,234.66 L376.24,233.14 L375.29,231.13 L374.74,228.84 L374.64,226.48 L374.99,224.29 L375.77,222.49 L376.89,221.24 L378.24,220.67 L379.70,220.84 L381.12,221.74 L382.36,223.26 L383.31,225.27Z" fill="none" stroke="rgb(124,124,124)" stroke-width="0.5" stroke-linejoin="round"/>
<path d="M382.67,227.73 L382.76,229.56 L382.51,231.25 L381.94,232.65 L381.12,233.61 L380.12,234.04 L379.04,233.90 L377.99,233.20 L377.06,232.02 L376.35,230.46 L375.93,228.67 L375.84,226.84 L376.09,225.15 L376.66,223.75 L377.48,222.79 L378.48,222.36 L379.56,222.50 L380.61,223.20 L381.54,224.38 L382.25,225.94Z" fill="none" stroke="rgb(116,116,116)" stroke-width="0.5" stroke-linejoin="round"/>
<path d="M381.48,227.89 L381.56,229.22 L381.41,230.46 L381.06,231.46 L380.54,232.16 L379.90,232.46 L379.20,232.34 L378.50,231.82 L377.89,230.95 L377.41,229.81 L377.12,228.51 L377.04,227.18 L377.19,225.94 L377.54,224.94 L378.06,224.24 L378.70,223.94 L379.40,224.06 L380.10,224.58 L380.71,225.45 L381.19,226.59Z" fill="none" stroke="rgb(108,108,108)" stroke-width="0.5" stroke-linejoin="round"/>
<path d="M380.49,228.03 L380.56,228.96 L380.51,229.81 L380.34,230.51 L380.06,230.97 L379.72,231.17 L379.33,231.08 L378.94,230.70 L378.58,230.08 L378.30,229.28 L378.11,228.37 L378.04,227.44 L378.09,226.59 L378.26,225.89 L378.54,225.43 L378.88,225.23 L379.27,225.32 L379.66,225.70 L380.02,226.32 L380.30,227.12Z" fill="none" stroke="rgb(100,100,100)" stroke-width="0.5" stroke-linejoin="round"/>
<path d="M327.40,247.40 L327.41,246.85 L327.51,246.28 L327.69,245.70 L327.94,245.14 L328.26,244.59 L328.63,244.08 L329.04,243.61 L329.50,243.20 L330.00,242.85 L330.55,242.54 L331.16,242.28 L331.82,242.05 L332.53,241.85 L333.30,241.68 L334.12,241.53 L335.00,241.40 L335.95,241.30 L336.98,241.23 L338.07,241.19 L339.22,241.17 L340.40,241.17 L341.60,241.18 L342.80,241.19 L344.00,241.20 L345.20,241.21 L346.43,241.23 L347.68,241.25 L348.94,241.29 L350.21,241.33 L351.48,241.38 L352.74,241.44 L354.00,241.50 L355.27,241.57 L356.56,241.64 L357.86,241.72 L359.16,241.81 L360.43,241.91 L361.68,242.03 L362.87,242.15 L364.00,242.30 L365.08,242.46 L366.13,242.64 L367.14,242.82 L368.11,243.03 L369.03,243.24 L369.91,243.48 L370.73,243.73 L371.50,244.00 L372.24,244.30 L372.95,244.62 L373.64,244.97 L374.26,245.34 L374.81,245.71 L375.26,246.08 L375.60,246.45 L375.80,246.80 L375.86,247.15 L375.81,247.50 L375.65,247.85 L375.39,248.20 L375.03,248.54 L374.60,248.88 L374.08,249.20 L373.50,249.50 L372.83,249.79 L372.05,250.07 L371.18,250.34 L370.23,250.59 L369.22,250.84 L368.17,251.07 L367.09,251.29 L366.00,251.50 L364.87,251.69 L363.68,251.88 L362.43,252.04 L361.16,252.20 L359.86,252.34 L358.56,252.47 L357.27,252.59 L356.00,252.70 L354.75,252.79 L353.50,252.86 L352.25,252.92 L351.00,252.97 L349.75,253.01 L348.50,253.04 L347.25,253.07 L346.00,253.10 L344.72,253.14 L343.41,253.18 L342.07,253.23 L340.75,253.26 L339.46,253.29 L338.22,253.29 L337.06,253.26 L336.00,253.20 L335.04,253.12 L334.14,253.03 L333.31,252.92 L332.54,252.78 L331.83,252.61 L331.17,252.40 L330.56,252.13 L330.00,251.80 L329.48,251.39 L329.00,250.91 L328.57,250.36 L328.19,249.78 L327.88,249.17 L327.64,248.56 L327.48,247.96Z" fill="none" stroke="rgb(128,128,128)" stroke-width="0.5" stroke-linejoin="round"/>
<path d="M329.44,247.40 L329.51,246.90 L329.75,246.38 L330.08,245.87 L330.47,245.38 L330.88,244.90 L331.31,244.46 L331.75,244.06 L332.21,243.71 L332.69,243.41 L333.21,243.15 L333.76,242.92 L334.36,242.72 L335.00,242.55 L335.68,242.41 L336.40,242.28 L337.18,242.17 L338.01,242.08 L338.91,242.02 L339.87,241.99 L340.86,241.97 L341.89,241.97 L342.93,241.98 L343.98,241.99 L345.03,242.00 L346.07,242.00 L347.14,242.02 L348.23,242.04 L349.33,242.07 L350.44,242.10 L351.54,242.15 L352.65,242.19 L353.75,242.25 L354.85,242.31 L355.98,242.37 L357.12,242.44 L358.25,242.52 L359.37,242.60 L360.46,242.70 L361.51,242.81 L362.51,242.93 L363.47,243.07 L364.40,243.22 L365.30,243.38 L366.17,243.55 L367.00,243.74 L367.80,243.94 L368.56,244.15 L369.28,244.39 L369.98,244.64 L370.68,244.93 L371.36,245.23 L372.02,245.55 L372.61,245.87 L373.13,246.20 L373.54,246.53 L373.81,246.85 L373.92,247.17 L373.89,247.49 L373.71,247.81 L373.40,248.13 L372.99,248.44 L372.50,248.74 L371.94,249.02 L371.33,249.29 L370.66,249.54 L369.91,249.78 L369.08,250.02 L368.19,250.24 L367.27,250.45 L366.31,250.65 L365.33,250.84 L364.34,251.02 L363.33,251.18 L362.27,251.34 L361.17,251.48 L360.04,251.61 L358.89,251.74 L357.75,251.85 L356.61,251.95 L355.50,252.04 L354.41,252.12 L353.31,252.18 L352.22,252.23 L351.13,252.27 L350.03,252.30 L348.94,252.33 L347.85,252.35 L346.76,252.38 L345.64,252.41 L344.50,252.45 L343.34,252.49 L342.18,252.52 L341.06,252.54 L339.98,252.54 L338.96,252.51 L338.04,252.46 L337.19,252.39 L336.40,252.31 L335.67,252.22 L334.99,252.10 L334.35,251.96 L333.76,251.77 L333.20,251.55 L332.68,251.26 L332.17,250.92 L331.67,250.50 L331.19,250.03 L330.72,249.52 L330.27,248.99 L329.87,248.45 L329.57,247.91Z" fill="none" stroke="rgb(118,118,118)" stroke-width="0.5" stroke-linejoin="round"/>
<path d="M331.48,247.40 L331.61,246.94 L331.98,246.48 L332.47,246.04 L332.99,245.61 L333.50,245.21 L333.99,244.84 L334.46,244.50 L334.93,244.21 L335.39,243.96 L335.87,243.75 L336.37,243.56 L336.90,243.40 L337.46,243.26 L338.06,243.14 L338.69,243.03 L339.35,242.94 L340.07,242.86 L340.84,242.81 L341.66,242.78 L342.51,242.77 L343.38,242.77 L344.27,242.78 L345.17,242.79 L346.05,242.79 L346.95,242.80 L347.86,242.81 L348.78,242.83 L349.72,242.85 L350.66,242.88 L351.61,242.91 L352.55,242.95 L353.49,243.00 L354.44,243.05 L355.40,243.10 L356.38,243.16 L357.35,243.22 L358.31,243.29 L359.25,243.37 L360.16,243.46 L361.02,243.56 L361.85,243.68 L362.67,243.80 L363.46,243.94 L364.23,244.08 L364.97,244.23 L365.69,244.40 L366.38,244.58 L367.05,244.78 L367.72,244.99 L368.40,245.23 L369.09,245.48 L369.77,245.75 L370.41,246.04 L371.00,246.32 L371.48,246.61 L371.81,246.90 L371.98,247.19 L371.96,247.48 L371.77,247.78 L371.42,248.06 L370.94,248.34 L370.40,248.60 L369.80,248.85 L369.17,249.08 L368.50,249.29 L367.76,249.50 L366.98,249.69 L366.16,249.88 L365.31,250.06 L364.44,250.22 L363.56,250.38 L362.69,250.53 L361.79,250.67 L360.86,250.80 L359.90,250.92 L358.92,251.03 L357.93,251.13 L356.94,251.22 L355.96,251.30 L355.00,251.38 L354.06,251.44 L353.12,251.49 L352.19,251.54 L351.25,251.57 L350.32,251.59 L349.38,251.62 L348.45,251.64 L347.52,251.66 L346.57,251.68 L345.59,251.71 L344.60,251.75 L343.61,251.77 L342.65,251.79 L341.73,251.79 L340.87,251.77 L340.07,251.72 L339.35,251.66 L338.67,251.60 L338.03,251.52 L337.44,251.43 L336.88,251.30 L336.35,251.15 L335.84,250.96 L335.35,250.73 L334.85,250.44 L334.34,250.09 L333.81,249.70 L333.24,249.27 L332.66,248.82 L332.09,248.34 L331.66,247.87Z" fill="none" stroke="rgb(108,108,108)" stroke-width="0.5" stroke-linejoin="round"/>
<path d="M333.52,247.40 L333.70,246.99 L334.21,246.59 L334.86,246.20 L335.52,245.85 L336.13,245.52 L336.68,245.22 L337.18,244.95 L337.64,244.72 L338.08,244.52 L338.52,244.35 L338.97,244.20 L339.44,244.07 L339.93,243.96 L340.44,243.86 L340.97,243.78 L341.53,243.71 L342.13,243.65 L342.77,243.61 L343.45,243.58 L344.15,243.57 L344.87,243.57 L345.61,243.58 L346.35,243.58 L347.08,243.59 L347.82,243.59 L348.57,243.60 L349.34,243.62 L350.11,243.63 L350.89,243.66 L351.68,243.68 L352.46,243.71 L353.24,243.75 L354.02,243.79 L354.83,243.83 L355.64,243.87 L356.45,243.92 L357.26,243.98 L358.04,244.04 L358.81,244.12 L359.54,244.20 L360.24,244.29 L360.94,244.39 L361.62,244.49 L362.29,244.61 L362.94,244.73 L363.58,244.86 L364.21,245.01 L364.83,245.16 L365.46,245.34 L366.13,245.53 L366.82,245.74 L367.52,245.96 L368.21,246.20 L368.86,246.44 L369.42,246.70 L369.82,246.95 L370.03,247.21 L370.04,247.47 L369.83,247.74 L369.43,248.00 L368.90,248.24 L368.30,248.46 L367.65,248.67 L367.00,248.87 L366.33,249.04 L365.62,249.21 L364.88,249.37 L364.12,249.52 L363.35,249.67 L362.57,249.80 L361.80,249.93 L361.03,250.05 L360.26,250.15 L359.46,250.26 L358.63,250.35 L357.80,250.44 L356.96,250.52 L356.13,250.59 L355.31,250.66 L354.51,250.72 L353.72,250.77 L352.94,250.81 L352.16,250.84 L351.38,250.87 L350.60,250.89 L349.82,250.91 L349.05,250.92 L348.28,250.94 L347.49,250.96 L346.68,250.98 L345.86,251.01 L345.04,251.02 L344.25,251.04 L343.49,251.04 L342.77,251.02 L342.11,250.99 L341.50,250.94 L340.93,250.89 L340.40,250.82 L339.89,250.75 L339.41,250.65 L338.94,250.53 L338.49,250.38 L338.03,250.19 L337.54,249.96 L337.01,249.69 L336.42,249.37 L335.77,249.02 L335.05,248.64 L334.32,248.24 L333.75,247.82Z" fill="none" stroke="rgb(99,99,99)" stroke-width="0.5" stroke-linejoin="round"/>
<path d="M335.56,247.40 L335.80,247.04 L336.45,246.69 L337.25,246.37 L338.05,246.09 L338.75,245.83 L339.36,245.60 L339.89,245.40 L340.35,245.23 L340.77,245.08 L341.18,244.95 L341.58,244.84 L341.98,244.74 L342.39,244.66 L342.81,244.59 L343.25,244.53 L343.71,244.47 L344.19,244.43 L344.70,244.40 L345.24,244.38 L345.80,244.37 L346.37,244.37 L346.94,244.38 L347.53,244.38 L348.11,244.38 L348.69,244.39 L349.29,244.39 L349.89,244.40 L350.50,244.42 L351.12,244.43 L351.74,244.45 L352.36,244.47 L352.98,244.50 L353.61,244.53 L354.25,244.56 L354.90,244.59 L355.55,244.63 L356.20,244.67 L356.83,244.72 L357.45,244.77 L358.05,244.83 L358.63,244.90 L359.21,244.97 L359.78,245.05 L360.35,245.13 L360.91,245.22 L361.47,245.32 L362.04,245.43 L362.60,245.55 L363.20,245.68 L363.85,245.83 L364.55,245.99 L365.27,246.17 L366.02,246.36 L366.73,246.56 L367.36,246.78 L367.83,247.00 L368.09,247.23 L368.12,247.47 L367.89,247.70 L367.44,247.93 L366.86,248.14 L366.20,248.33 L365.51,248.50 L364.84,248.65 L364.16,248.80 L363.48,248.93 L362.78,249.05 L362.09,249.17 L361.39,249.28 L360.71,249.38 L360.03,249.47 L359.38,249.56 L358.72,249.64 L358.05,249.72 L357.37,249.79 L356.68,249.85 L356.00,249.91 L355.32,249.97 L354.65,250.02 L354.01,250.06 L353.38,250.10 L352.75,250.13 L352.12,250.15 L351.50,250.17 L350.88,250.18 L350.27,250.20 L349.65,250.21 L349.03,250.22 L348.41,250.23 L347.77,250.25 L347.12,250.26 L346.48,250.28 L345.85,250.29 L345.25,250.29 L344.68,250.27 L344.15,250.25 L343.66,250.21 L343.20,250.17 L342.76,250.13 L342.34,250.07 L341.94,250.00 L341.54,249.91 L341.13,249.80 L340.70,249.66 L340.23,249.49 L339.68,249.28 L339.04,249.04 L338.29,248.77 L337.44,248.47 L336.55,248.13 L335.83,247.77Z" fill="none" stroke="rgb(89,89,89)" stroke-width="0.5" stroke-linejoin="round"/>
<path d="M337.60,247.40 L337.90,247.08 L338.68,246.79 L339.64,246.54 L340.57,246.33 L341.37,246.14 L342.04,245.98 L342.60,245.85 L343.06,245.73 L343.47,245.63 L343.83,245.55 L344.18,245.48 L344.52,245.42 L344.86,245.36 L345.19,245.32 L345.53,245.28 L345.89,245.24 L346.25,245.21 L346.63,245.19 L347.03,245.18 L347.44,245.18 L347.86,245.17 L348.28,245.18 L348.71,245.18 L349.13,245.18 L349.56,245.18 L350.00,245.18 L350.45,245.19 L350.90,245.20 L351.35,245.21 L351.81,245.22 L352.27,245.23 L352.73,245.25 L353.19,245.27 L353.67,245.29 L354.16,245.31 L354.65,245.33 L355.14,245.36 L355.62,245.39 L356.10,245.42 L356.56,245.46 L357.02,245.51 L357.48,245.55 L357.94,245.60 L358.41,245.66 L358.88,245.72 L359.36,245.79 L359.86,245.86 L360.38,245.94 L360.94,246.03 L361.57,246.13 L362.27,246.25 L363.03,246.38 L363.82,246.52 L364.60,246.69 L365.30,246.86 L365.83,247.05 L366.15,247.25 L366.19,247.46 L365.95,247.67 L365.46,247.86 L364.81,248.04 L364.10,248.19 L363.37,248.33 L362.67,248.44 L362.00,248.55 L361.33,248.64 L360.68,248.73 L360.05,248.81 L359.43,248.88 L358.84,248.95 L358.27,249.02 L357.72,249.08 L357.18,249.13 L356.64,249.18 L356.10,249.22 L355.56,249.27 L355.03,249.31 L354.51,249.34 L354.00,249.37 L353.51,249.40 L353.03,249.42 L352.56,249.44 L352.09,249.46 L351.63,249.47 L351.17,249.48 L350.71,249.48 L350.25,249.49 L349.79,249.50 L349.33,249.51 L348.86,249.52 L348.38,249.52 L347.91,249.53 L347.45,249.54 L347.00,249.53 L346.58,249.53 L346.18,249.51 L345.81,249.49 L345.46,249.46 L345.12,249.43 L344.79,249.39 L344.46,249.35 L344.13,249.29 L343.77,249.22 L343.38,249.12 L342.91,249.01 L342.35,248.87 L341.66,248.71 L340.82,248.52 L339.82,248.29 L338.77,248.03 L337.92,247.72Z" fill="none" stroke="rgb(80,80,80)" stroke-width="0.5" stroke-linejoin="round"/>
<path d="M342.80,247.70 L342.24,249.69 L340.66,251.38 L338.29,252.50 L335.50,252.90 L332.71,252.50 L330.34,251.38 L328.76,249.69 L328.20,247.70 L328.76,245.71 L330.34,244.02 L332.71,242.90 L335.50,242.50 L338.29,242.90 L340.66,244.02 L342.24,245.71Z" fill="none" stroke="rgb(72,72,72)" stroke-width="0.55" stroke-linejoin="round"/>
<path d="M341.85,247.70 L341.36,249.43 L339.98,250.89 L337.92,251.86 L335.50,252.20 L333.08,251.86 L331.02,250.89 L329.64,249.43 L329.15,247.70 L329.64,245.97 L331.02,244.51 L333.08,243.54 L335.50,243.20 L337.92,243.54 L339.98,244.51 L341.36,245.97Z" fill="none" stroke="rgb(66,66,66)" stroke-width="0.55" stroke-linejoin="round"/>
<path d="M340.90,247.70 L340.48,249.17 L339.29,250.40 L337.54,251.22 L335.50,251.50 L333.46,251.22 L331.71,250.40 L330.52,249.17 L330.10,247.70 L330.52,246.23 L331.71,245.00 L333.46,244.18 L335.50,243.90 L337.54,244.18 L339.29,245.00 L340.48,246.23Z" fill="none" stroke="rgb(61,61,61)" stroke-width="0.55" stroke-linejoin="round"/>
<path d="M339.95,247.70 L339.60,248.91 L338.61,249.91 L337.17,250.57 L335.50,250.80 L333.83,250.57 L332.39,249.91 L331.40,248.91 L331.05,247.70 L331.40,246.49 L332.39,245.49 L333.83,244.83 L335.50,244.60 L337.17,244.83 L338.61,245.49 L339.60,246.49Z" fill="none" stroke="rgb(56,56,56)" stroke-width="0.55" stroke-linejoin="round"/>
<path d="M339.00,247.70 L338.71,248.65 L337.92,249.43 L336.80,249.93 L335.50,250.10 L334.20,249.93 L333.08,249.43 L332.29,248.65 L332.00,247.70 L332.29,246.75 L333.08,245.97 L334.20,245.47 L335.50,245.30 L336.80,245.47 L337.92,245.97 L338.71,246.75Z" fill="none" stroke="rgb(50,50,50)" stroke-width="0.55" stroke-linejoin="round"/>
<path d="M338.05,247.70 L337.83,248.39 L337.24,248.94 L336.42,249.28 L335.50,249.40 L334.58,249.28 L333.76,248.94 L333.17,248.39 L332.95,247.70 L333.17,247.01 L333.76,246.46 L334.58,246.12 L335.50,246.00 L336.42,246.12 L337.24,246.46 L337.83,247.01Z" fill="none" stroke="rgb(45,45,45)" stroke-width="0.55" stroke-linejoin="round"/>
<path d="M337.10,247.70 L336.95,248.13 L336.56,248.45 L336.05,248.64 L335.50,248.70 L334.95,248.64 L334.44,248.45 L334.05,248.13 L333.90,247.70 L334.05,247.27 L334.44,246.95 L334.95,246.76 L335.50,246.70 L336.05,246.76 L336.56,246.95 L336.95,247.27Z" fill="none" stroke="rgb(40,40,40)" stroke-width="0.55" stroke-linejoin="round"/>
<circle cx="358.29" cy="236.01" r="0.28" fill="#777"/>
<circle cx="375.64" cy="229.22" r="0.28" fill="#777"/>
<circle cx="351.78" cy="248.43" r="0.28" fill="#777"/>
<circle cx="363.18" cy="250.88" r="0.28" fill="#777"/>
<circle cx="387.66" cy="235.20" r="0.28" fill="#777"/>
<circle cx="369.34" cy="239.04" r="0.28" fill="#777"/>
<circle cx="377.04" cy="241.08" r="0.28" fill="#777"/>
<circle cx="373.49" cy="241.74" r="0.28" fill="#777"/>
<circle cx="389.51" cy="238.69" r="0.28" fill="#777"/>
<circle cx="368.11" cy="244.45" r="0.28" fill="#777"/>
<circle cx="359.98" cy="233.13" r="0.28" fill="#777"/>
<circle cx="391.07" cy="239.07" r="0.28" fill="#777"/>
<circle cx="373.03" cy="225.31" r="0.28" fill="#777"/>
<circle cx="367.44" cy="240.66" r="0.28" fill="#777"/>
<path d="M462.40,222.00 L462.47,221.44 L462.55,220.82 L462.64,220.16 L462.76,219.49 L462.90,218.82 L463.06,218.17 L463.26,217.56 L463.50,217.00 L463.77,216.48 L464.08,215.99 L464.42,215.52 L464.79,215.08 L465.18,214.66 L465.60,214.27 L466.04,213.92 L466.50,213.60 L466.99,213.32 L467.51,213.08 L468.06,212.87 L468.62,212.69 L469.21,212.53 L469.80,212.40 L470.40,212.29 L471.00,212.20 L471.60,212.12 L472.21,212.07 L472.84,212.04 L473.47,212.03 L474.10,212.04 L474.74,212.08 L475.37,212.13 L476.00,212.20 L476.63,212.29 L477.27,212.39 L477.92,212.52 L478.56,212.66 L479.20,212.83 L479.82,213.02 L480.42,213.25 L481.00,213.50 L481.56,213.79 L482.11,214.11 L482.65,214.46 L483.17,214.83 L483.67,215.23 L484.14,215.64 L484.59,216.07 L485.00,216.50 L485.38,216.95 L485.74,217.42 L486.07,217.90 L486.38,218.41 L486.66,218.92 L486.91,219.44 L487.12,219.97 L487.30,220.50 L487.44,221.04 L487.55,221.59 L487.62,222.15 L487.66,222.72 L487.68,223.29 L487.67,223.86 L487.64,224.43 L487.60,225.00 L487.54,225.57 L487.46,226.15 L487.35,226.73 L487.23,227.31 L487.08,227.89 L486.91,228.45 L486.71,228.99 L486.50,229.50 L486.26,229.99 L486.00,230.46 L485.71,230.91 L485.40,231.34 L485.07,231.77 L484.73,232.18 L484.37,232.59 L484.00,233.00 L483.61,233.41 L483.19,233.82 L482.74,234.22 L482.29,234.62 L481.83,235.00 L481.37,235.36 L480.93,235.70 L480.50,236.00 L480.08,236.26 L479.66,236.48 L479.24,236.67 L478.82,236.84 L478.43,237.00 L478.05,237.18 L477.71,237.37 L477.40,237.60 L477.13,237.87 L476.91,238.16 L476.71,238.47 L476.54,238.79 L476.38,239.11 L476.22,239.42 L476.07,239.72 L475.90,240.00 L475.73,240.27 L475.57,240.53 L475.41,240.80 L475.26,241.05 L475.10,241.28 L474.94,241.49 L474.78,241.67 L474.60,241.80 L474.41,241.90 L474.22,241.97 L474.01,242.01 L473.81,242.03 L473.60,242.01 L473.39,241.97 L473.19,241.90 L473.00,241.80 L472.82,241.67 L472.64,241.50 L472.47,241.30 L472.31,241.07 L472.14,240.82 L471.97,240.56 L471.79,240.28 L471.60,240.00 L471.42,239.71 L471.24,239.41 L471.07,239.10 L470.89,238.78 L470.70,238.43 L470.47,238.07 L470.21,237.70 L469.90,237.30 L469.53,236.88 L469.09,236.44 L468.61,235.99 L468.11,235.51 L467.59,235.02 L467.09,234.53 L466.62,234.02 L466.20,233.50 L465.81,232.96 L465.44,232.40 L465.08,231.82 L464.74,231.23 L464.42,230.65 L464.12,230.07 L463.85,229.52 L463.60,229.00 L463.38,228.51 L463.20,228.05 L463.03,227.61 L462.89,227.19 L462.77,226.77 L462.67,226.35 L462.58,225.93 L462.50,225.50 L462.43,225.07 L462.38,224.66 L462.34,224.25 L462.31,223.84 L462.31,223.42 L462.32,222.98 L462.35,222.51Z" fill="none" stroke="rgb(156,156,156)" stroke-width="0.5" stroke-linejoin="round"/>
<path d="M464.24,222.51 L464.31,222.01 L464.38,221.46 L464.47,220.89 L464.58,220.30 L464.71,219.71 L464.87,219.14 L465.05,218.60 L465.26,218.11 L465.50,217.66 L465.77,217.22 L466.07,216.80 L466.39,216.41 L466.73,216.03 L467.09,215.69 L467.47,215.37 L467.87,215.08 L468.29,214.82 L468.74,214.59 L469.22,214.39 L469.71,214.21 L470.22,214.05 L470.73,213.92 L471.25,213.80 L471.78,213.69 L472.30,213.60 L472.85,213.53 L473.40,213.48 L473.95,213.45 L474.52,213.43 L475.09,213.44 L475.66,213.46 L476.22,213.51 L476.79,213.57 L477.37,213.64 L477.96,213.74 L478.55,213.85 L479.13,213.99 L479.70,214.15 L480.25,214.34 L480.79,214.56 L481.30,214.81 L481.81,215.09 L482.31,215.39 L482.80,215.73 L483.27,216.08 L483.71,216.45 L484.13,216.83 L484.51,217.23 L484.88,217.63 L485.22,218.06 L485.53,218.50 L485.83,218.96 L486.09,219.43 L486.33,219.91 L486.54,220.39 L486.72,220.88 L486.87,221.38 L486.98,221.89 L487.07,222.40 L487.13,222.93 L487.16,223.46 L487.18,224.00 L487.17,224.53 L487.15,225.07 L487.11,225.61 L487.04,226.16 L486.96,226.72 L486.85,227.27 L486.73,227.83 L486.57,228.37 L486.40,228.89 L486.20,229.39 L485.98,229.86 L485.74,230.32 L485.47,230.76 L485.18,231.19 L484.87,231.61 L484.54,232.02 L484.20,232.42 L483.84,232.81 L483.46,233.21 L483.05,233.60 L482.61,233.99 L482.16,234.36 L481.71,234.71 L481.26,235.03 L480.83,235.33 L480.41,235.60 L480.01,235.82 L479.60,236.01 L479.20,236.17 L478.80,236.31 L478.43,236.44 L478.07,236.58 L477.75,236.73 L477.46,236.91 L477.22,237.12 L477.01,237.35 L476.83,237.60 L476.68,237.85 L476.54,238.10 L476.40,238.35 L476.27,238.59 L476.12,238.81 L475.97,239.02 L475.83,239.23 L475.69,239.44 L475.56,239.64 L475.42,239.82 L475.29,239.98 L475.14,240.12 L474.99,240.22 L474.82,240.30 L474.65,240.35 L474.47,240.38 L474.29,240.38 L474.10,240.36 L473.92,240.32 L473.74,240.26 L473.57,240.17 L473.41,240.06 L473.25,239.91 L473.09,239.74 L472.94,239.55 L472.78,239.34 L472.62,239.12 L472.45,238.88 L472.28,238.64 L472.11,238.40 L471.94,238.14 L471.78,237.87 L471.61,237.59 L471.42,237.30 L471.21,236.98 L470.97,236.65 L470.68,236.30 L470.34,235.92 L469.95,235.52 L469.52,235.10 L469.07,234.66 L468.62,234.21 L468.18,233.75 L467.77,233.28 L467.40,232.80 L467.06,232.31 L466.74,231.80 L466.43,231.27 L466.14,230.74 L465.86,230.21 L465.61,229.69 L465.38,229.19 L465.18,228.72 L465.00,228.29 L464.84,227.88 L464.71,227.48 L464.60,227.10 L464.50,226.73 L464.42,226.36 L464.34,225.98 L464.28,225.60 L464.23,225.22 L464.19,224.86 L464.16,224.50 L464.14,224.13 L464.14,223.76 L464.16,223.37 L464.19,222.96Z" fill="none" stroke="rgb(151,151,151)" stroke-width="0.5" stroke-linejoin="round"/>
<path d="M466.08,223.01 L466.14,222.58 L466.22,222.11 L466.31,221.61 L466.41,221.11 L466.53,220.60 L466.68,220.11 L466.84,219.65 L467.02,219.22 L467.23,218.83 L467.46,218.45 L467.72,218.09 L467.99,217.74 L468.28,217.41 L468.59,217.10 L468.91,216.82 L469.25,216.55 L469.60,216.31 L469.98,216.10 L470.38,215.90 L470.79,215.73 L471.22,215.57 L471.66,215.43 L472.11,215.30 L472.55,215.18 L473.01,215.08 L473.48,214.99 L473.95,214.92 L474.44,214.86 L474.94,214.83 L475.44,214.80 L475.94,214.80 L476.44,214.81 L476.95,214.84 L477.47,214.89 L478.00,214.95 L478.53,215.04 L479.06,215.15 L479.58,215.28 L480.09,215.43 L480.57,215.62 L481.05,215.83 L481.52,216.07 L481.98,216.33 L482.43,216.62 L482.86,216.93 L483.28,217.26 L483.67,217.60 L484.03,217.96 L484.37,218.32 L484.69,218.70 L484.99,219.10 L485.27,219.52 L485.53,219.94 L485.76,220.38 L485.97,220.82 L486.15,221.26 L486.30,221.72 L486.42,222.18 L486.52,222.66 L486.59,223.14 L486.65,223.64 L486.68,224.13 L486.70,224.64 L486.69,225.14 L486.67,225.65 L486.63,226.17 L486.57,226.70 L486.48,227.24 L486.37,227.77 L486.24,228.29 L486.09,228.79 L485.91,229.27 L485.71,229.74 L485.48,230.18 L485.24,230.62 L484.96,231.04 L484.67,231.45 L484.36,231.85 L484.03,232.24 L483.68,232.63 L483.31,233.01 L482.91,233.38 L482.48,233.75 L482.04,234.09 L481.59,234.41 L481.15,234.70 L480.73,234.96 L480.32,235.19 L479.93,235.38 L479.54,235.54 L479.16,235.67 L478.78,235.78 L478.42,235.88 L478.09,235.98 L477.79,236.10 L477.52,236.22 L477.30,236.38 L477.11,236.54 L476.96,236.72 L476.82,236.91 L476.70,237.10 L476.58,237.28 L476.46,237.46 L476.34,237.62 L476.21,237.77 L476.09,237.93 L475.98,238.08 L475.86,238.22 L475.75,238.36 L475.63,238.48 L475.51,238.58 L475.38,238.65 L475.24,238.70 L475.09,238.73 L474.93,238.74 L474.77,238.74 L474.61,238.72 L474.45,238.68 L474.29,238.62 L474.14,238.55 L473.99,238.45 L473.85,238.33 L473.71,238.19 L473.57,238.03 L473.42,237.86 L473.27,237.68 L473.12,237.48 L472.96,237.29 L472.80,237.08 L472.64,236.87 L472.49,236.65 L472.33,236.41 L472.15,236.16 L471.95,235.89 L471.73,235.60 L471.46,235.30 L471.15,234.96 L470.80,234.60 L470.42,234.21 L470.03,233.81 L469.64,233.39 L469.26,232.97 L468.91,232.54 L468.60,232.10 L468.31,231.66 L468.04,231.20 L467.78,230.72 L467.53,230.24 L467.31,229.77 L467.10,229.30 L466.92,228.86 L466.75,228.45 L466.61,228.06 L466.49,227.70 L466.39,227.35 L466.30,227.01 L466.22,226.69 L466.16,226.36 L466.11,226.04 L466.06,225.70 L466.03,225.37 L466.00,225.05 L465.98,224.74 L465.98,224.43 L465.98,224.10 L466.00,223.76 L466.03,223.40Z" fill="none" stroke="rgb(146,146,146)" stroke-width="0.5" stroke-linejoin="round"/>
<path d="M467.92,223.52 L467.98,223.15 L468.05,222.76 L468.14,222.34 L468.24,221.91 L468.35,221.49 L468.48,221.08 L468.63,220.69 L468.79,220.33 L468.96,220.00 L469.15,219.68 L469.36,219.37 L469.59,219.07 L469.83,218.79 L470.08,218.52 L470.34,218.26 L470.62,218.03 L470.91,217.81 L471.21,217.61 L471.54,217.42 L471.88,217.25 L472.23,217.09 L472.59,216.94 L472.96,216.80 L473.33,216.67 L473.71,216.56 L474.11,216.45 L474.51,216.36 L474.93,216.28 L475.35,216.22 L475.78,216.17 L476.22,216.14 L476.66,216.12 L477.11,216.12 L477.57,216.14 L478.05,216.17 L478.52,216.23 L478.99,216.30 L479.46,216.40 L479.92,216.53 L480.36,216.67 L480.79,216.85 L481.22,217.05 L481.65,217.27 L482.06,217.52 L482.46,217.79 L482.84,218.07 L483.21,218.37 L483.54,218.68 L483.86,219.01 L484.16,219.35 L484.45,219.70 L484.72,220.07 L484.96,220.46 L485.19,220.85 L485.39,221.24 L485.57,221.65 L485.72,222.06 L485.86,222.48 L485.97,222.91 L486.06,223.36 L486.13,223.81 L486.19,224.27 L486.22,224.74 L486.24,225.21 L486.24,225.69 L486.22,226.18 L486.18,226.69 L486.11,227.20 L486.02,227.71 L485.91,228.21 L485.77,228.69 L485.61,229.16 L485.43,229.61 L485.23,230.05 L485.00,230.47 L484.75,230.88 L484.47,231.29 L484.18,231.68 L483.86,232.07 L483.53,232.44 L483.16,232.81 L482.77,233.17 L482.35,233.51 L481.91,233.83 L481.48,234.12 L481.04,234.37 L480.63,234.60 L480.23,234.79 L479.86,234.94 L479.48,235.07 L479.12,235.17 L478.76,235.25 L478.42,235.32 L478.11,235.39 L477.83,235.46 L477.58,235.54 L477.38,235.63 L477.22,235.74 L477.08,235.85 L476.96,235.97 L476.86,236.09 L476.76,236.21 L476.66,236.32 L476.56,236.42 L476.45,236.52 L476.35,236.62 L476.26,236.72 L476.17,236.81 L476.07,236.90 L475.98,236.97 L475.88,237.03 L475.77,237.07 L475.65,237.10 L475.52,237.11 L475.39,237.11 L475.25,237.10 L475.12,237.07 L474.98,237.03 L474.84,236.98 L474.71,236.92 L474.58,236.84 L474.45,236.75 L474.33,236.64 L474.20,236.51 L474.07,236.38 L473.93,236.24 L473.79,236.09 L473.64,235.93 L473.49,235.77 L473.34,235.60 L473.20,235.42 L473.05,235.23 L472.88,235.02 L472.69,234.80 L472.48,234.56 L472.25,234.29 L471.97,234.00 L471.66,233.67 L471.33,233.32 L470.99,232.96 L470.66,232.58 L470.35,232.19 L470.06,231.80 L469.80,231.41 L469.56,231.01 L469.34,230.60 L469.13,230.17 L468.93,229.75 L468.75,229.33 L468.59,228.92 L468.45,228.53 L468.33,228.17 L468.23,227.83 L468.14,227.52 L468.06,227.22 L468.00,226.93 L467.95,226.65 L467.91,226.37 L467.87,226.09 L467.85,225.80 L467.82,225.52 L467.81,225.25 L467.80,224.98 L467.81,224.72 L467.82,224.44 L467.84,224.16 L467.88,223.85Z" fill="none" stroke="rgb(141,141,141)" stroke-width="0.5" stroke-linejoin="round"/>
<path d="M469.76,224.02 L469.82,223.73 L469.89,223.40 L469.97,223.06 L470.06,222.72 L470.17,222.38 L470.29,222.05 L470.41,221.73 L470.55,221.45 L470.69,221.17 L470.85,220.91 L471.01,220.65 L471.19,220.40 L471.38,220.16 L471.57,219.93 L471.78,219.71 L471.99,219.51 L472.21,219.31 L472.45,219.12 L472.70,218.94 L472.96,218.77 L473.24,218.61 L473.52,218.45 L473.81,218.30 L474.11,218.16 L474.42,218.03 L474.74,217.91 L475.07,217.80 L475.41,217.70 L475.77,217.61 L476.13,217.53 L476.51,217.47 L476.88,217.43 L477.27,217.40 L477.67,217.38 L478.09,217.39 L478.51,217.41 L478.93,217.46 L479.34,217.53 L479.75,217.62 L480.15,217.73 L480.54,217.87 L480.93,218.03 L481.31,218.21 L481.69,218.42 L482.06,218.64 L482.41,218.88 L482.75,219.14 L483.06,219.41 L483.36,219.69 L483.64,219.99 L483.91,220.30 L484.16,220.63 L484.40,220.97 L484.62,221.32 L484.81,221.67 L484.99,222.03 L485.15,222.40 L485.29,222.78 L485.42,223.17 L485.53,223.57 L485.62,223.98 L485.69,224.40 L485.75,224.84 L485.79,225.28 L485.81,225.73 L485.81,226.19 L485.79,226.67 L485.74,227.16 L485.67,227.64 L485.58,228.13 L485.46,228.59 L485.32,229.05 L485.15,229.48 L484.97,229.91 L484.76,230.32 L484.53,230.73 L484.27,231.13 L484.00,231.51 L483.69,231.89 L483.37,232.25 L483.01,232.61 L482.63,232.95 L482.21,233.27 L481.79,233.56 L481.36,233.82 L480.93,234.05 L480.53,234.23 L480.15,234.38 L479.78,234.50 L479.42,234.60 L479.07,234.67 L478.74,234.72 L478.42,234.76 L478.13,234.79 L477.87,234.82 L477.65,234.85 L477.46,234.89 L477.32,234.93 L477.20,234.98 L477.10,235.03 L477.02,235.09 L476.94,235.14 L476.86,235.19 L476.78,235.23 L476.69,235.27 L476.61,235.32 L476.54,235.36 L476.47,235.40 L476.40,235.43 L476.32,235.46 L476.24,235.49 L476.16,235.50 L476.06,235.50 L475.96,235.49 L475.85,235.48 L475.74,235.45 L475.62,235.43 L475.51,235.39 L475.39,235.34 L475.28,235.29 L475.17,235.23 L475.06,235.16 L474.95,235.08 L474.83,235.00 L474.71,234.90 L474.58,234.80 L474.45,234.69 L474.31,234.57 L474.18,234.45 L474.04,234.32 L473.91,234.19 L473.76,234.04 L473.61,233.89 L473.44,233.71 L473.24,233.51 L473.03,233.29 L472.78,233.04 L472.51,232.75 L472.24,232.44 L471.96,232.10 L471.69,231.76 L471.43,231.41 L471.20,231.06 L471.00,230.71 L470.81,230.36 L470.64,229.99 L470.48,229.62 L470.33,229.25 L470.20,228.89 L470.09,228.54 L469.99,228.20 L469.91,227.89 L469.84,227.61 L469.79,227.34 L469.74,227.08 L469.70,226.84 L469.68,226.61 L469.65,226.37 L469.64,226.14 L469.63,225.90 L469.62,225.67 L469.62,225.45 L469.63,225.23 L469.64,225.01 L469.66,224.78 L469.68,224.55 L469.72,224.30Z" fill="none" stroke="rgb(136,136,136)" stroke-width="0.5" stroke-linejoin="round"/>
<path d="M471.60,224.53 L471.66,224.30 L471.73,224.05 L471.80,223.79 L471.89,223.53 L471.99,223.27 L472.09,223.02 L472.20,222.78 L472.31,222.56 L472.42,222.35 L472.54,222.14 L472.66,221.93 L472.79,221.73 L472.93,221.54 L473.07,221.35 L473.21,221.16 L473.36,220.98 L473.52,220.81 L473.69,220.63 L473.86,220.46 L474.05,220.29 L474.24,220.13 L474.45,219.96 L474.66,219.81 L474.88,219.65 L475.12,219.51 L475.37,219.37 L475.63,219.24 L475.90,219.11 L476.19,219.00 L476.48,218.90 L476.79,218.81 L477.10,218.73 L477.43,218.67 L477.78,218.63 L478.13,218.61 L478.49,218.60 L478.86,218.62 L479.22,218.65 L479.58,218.71 L479.93,218.79 L480.28,218.89 L480.63,219.01 L480.98,219.15 L481.32,219.31 L481.66,219.50 L481.98,219.70 L482.29,219.91 L482.57,220.14 L482.85,220.38 L483.11,220.63 L483.37,220.90 L483.61,221.19 L483.83,221.48 L484.04,221.78 L484.24,222.10 L484.42,222.41 L484.58,222.74 L484.73,223.07 L484.87,223.42 L484.99,223.78 L485.10,224.15 L485.20,224.54 L485.28,224.94 L485.34,225.34 L485.38,225.77 L485.40,226.21 L485.40,226.66 L485.37,227.12 L485.32,227.58 L485.24,228.05 L485.14,228.50 L485.02,228.93 L484.88,229.36 L484.71,229.77 L484.52,230.18 L484.31,230.58 L484.08,230.97 L483.81,231.35 L483.52,231.71 L483.21,232.07 L482.86,232.41 L482.49,232.73 L482.08,233.03 L481.66,233.30 L481.24,233.53 L480.83,233.72 L480.43,233.87 L480.06,233.98 L479.71,234.06 L479.37,234.13 L479.03,234.17 L478.72,234.19 L478.42,234.20 L478.15,234.19 L477.91,234.18 L477.71,234.16 L477.55,234.14 L477.42,234.12 L477.32,234.11 L477.24,234.09 L477.18,234.08 L477.12,234.07 L477.06,234.06 L477.00,234.04 L476.93,234.03 L476.87,234.01 L476.82,234.00 L476.77,233.99 L476.72,233.97 L476.67,233.96 L476.61,233.94 L476.54,233.92 L476.47,233.90 L476.39,233.87 L476.31,233.84 L476.22,233.81 L476.13,233.78 L476.04,233.74 L475.95,233.70 L475.85,233.67 L475.76,233.62 L475.66,233.58 L475.56,233.53 L475.46,233.48 L475.35,233.42 L475.24,233.36 L475.12,233.29 L474.99,233.21 L474.87,233.13 L474.74,233.05 L474.61,232.96 L474.48,232.86 L474.33,232.75 L474.18,232.62 L474.00,232.47 L473.81,232.29 L473.60,232.07 L473.37,231.83 L473.14,231.55 L472.92,231.25 L472.71,230.94 L472.52,230.63 L472.35,230.32 L472.20,230.01 L472.06,229.71 L471.94,229.39 L471.82,229.08 L471.73,228.76 L471.65,228.45 L471.58,228.15 L471.53,227.87 L471.49,227.61 L471.46,227.38 L471.43,227.16 L471.42,226.95 L471.41,226.76 L471.40,226.57 L471.40,226.38 L471.40,226.19 L471.41,226.00 L471.42,225.82 L471.43,225.64 L471.45,225.47 L471.47,225.30 L471.49,225.12 L471.52,224.94 L471.56,224.74Z" fill="none" stroke="rgb(132,132,132)" stroke-width="0.5" stroke-linejoin="round"/>
<path d="M484.40,226.40 L484.11,228.50 L483.25,230.40 L481.93,231.90 L480.25,232.87 L478.40,233.20 L476.55,232.87 L474.87,231.90 L473.55,230.40 L472.69,228.50 L472.40,226.40 L472.69,224.30 L473.55,222.40 L474.87,220.90 L476.55,219.93 L478.40,219.60 L480.25,219.93 L481.93,220.90 L483.25,222.40 L484.11,224.30Z" fill="none" stroke="rgb(128,128,128)" stroke-width="0.5" stroke-linejoin="round"/>
<path d="M483.38,226.49 L483.14,228.23 L482.43,229.80 L481.33,231.05 L479.94,231.85 L478.40,232.12 L476.86,231.85 L475.47,231.05 L474.37,229.80 L473.66,228.23 L473.42,226.49 L473.67,224.74 L474.38,223.18 L475.49,221.94 L476.87,221.15 L478.40,220.88 L479.93,221.15 L481.31,221.94 L482.42,223.18 L483.13,224.74Z" fill="none" stroke="rgb(120,120,120)" stroke-width="0.5" stroke-linejoin="round"/>
<path d="M482.36,226.57 L482.17,227.96 L481.60,229.21 L480.72,230.19 L479.62,230.82 L478.40,231.04 L477.18,230.82 L476.08,230.19 L475.20,229.21 L474.63,227.96 L474.44,226.57 L474.65,225.19 L475.22,223.96 L476.10,222.99 L477.19,222.37 L478.40,222.16 L479.61,222.37 L480.70,222.99 L481.58,223.96 L482.15,225.19Z" fill="none" stroke="rgb(113,113,113)" stroke-width="0.5" stroke-linejoin="round"/>
<path d="M481.34,226.66 L481.20,227.69 L480.78,228.61 L480.12,229.34 L479.30,229.80 L478.40,229.96 L477.50,229.80 L476.68,229.34 L476.02,228.61 L475.60,227.69 L475.46,226.66 L475.63,225.64 L476.06,224.73 L476.72,224.03 L477.52,223.59 L478.40,223.44 L479.28,223.59 L480.08,224.03 L480.74,224.73 L481.17,225.64Z" fill="none" stroke="rgb(106,106,106)" stroke-width="0.5" stroke-linejoin="round"/>
<path d="M480.32,226.74 L480.23,227.41 L479.96,228.02 L479.52,228.49 L478.98,228.78 L478.40,228.88 L477.82,228.78 L477.28,228.49 L476.84,228.02 L476.57,227.41 L476.48,226.74 L476.60,226.08 L476.90,225.51 L477.33,225.08 L477.84,224.81 L478.40,224.72 L478.96,224.81 L479.47,225.08 L479.90,225.51 L480.20,226.08Z" fill="none" stroke="rgb(99,99,99)" stroke-width="0.5" stroke-linejoin="round"/>
<path d="M479.30,226.83 L479.27,227.14 L479.13,227.43 L478.92,227.64 L478.67,227.76 L478.40,227.80 L478.13,227.76 L477.88,227.64 L477.67,227.43 L477.53,227.14 L477.50,226.83 L477.58,226.53 L477.74,226.29 L477.94,226.12 L478.17,226.03 L478.40,226.00 L478.63,226.03 L478.86,226.12 L479.06,226.29 L479.22,226.53Z" fill="none" stroke="rgb(92,92,92)" stroke-width="0.5" stroke-linejoin="round"/>
<path d="M476.90,245.00 L476.64,245.73 L475.90,246.34 L474.80,246.76 L473.50,246.90 L472.20,246.76 L471.10,246.34 L470.36,245.73 L470.10,245.00 L470.36,244.27 L471.10,243.66 L472.20,243.24 L473.50,243.10 L474.80,243.24 L475.90,243.66 L476.64,244.27Z" fill="none" stroke="rgb(144,144,144)" stroke-width="0.5" stroke-linejoin="round"/>
<path d="M474.90,245.00 L474.73,245.29 L474.35,245.48 L473.92,245.57 L473.50,245.60 L473.08,245.57 L472.65,245.48 L472.27,245.29 L472.10,245.00 L472.27,244.71 L472.65,244.52 L473.08,244.43 L473.50,244.40 L473.92,244.43 L474.35,244.52 L474.73,244.71Z" fill="none" stroke="rgb(128,128,128)" stroke-width="0.5" stroke-linejoin="round"/>
<path d="M425.50,247.70 L425.53,247.13 L425.64,246.53 L425.80,245.91 L426.03,245.29 L426.32,244.70 L426.66,244.14 L427.06,243.63 L427.50,243.20 L428.00,242.84 L428.57,242.54 L429.20,242.29 L429.88,242.08 L430.60,241.90 L431.37,241.75 L432.17,241.62 L433.00,241.50 L433.88,241.40 L434.82,241.33 L435.82,241.29 L436.84,241.28 L437.89,241.27 L438.94,241.28 L439.98,241.29 L441.00,241.30 L442.01,241.31 L443.02,241.32 L444.04,241.35 L445.06,241.38 L446.07,241.41 L447.07,241.46 L448.05,241.53 L449.00,241.60 L449.93,241.68 L450.84,241.78 L451.74,241.88 L452.62,241.99 L453.49,242.12 L454.34,242.26 L455.18,242.42 L456.00,242.60 L456.81,242.80 L457.62,243.02 L458.42,243.25 L459.21,243.50 L459.96,243.76 L460.69,244.03 L461.37,244.31 L462.00,244.60 L462.62,244.90 L463.26,245.21 L463.88,245.53 L464.46,245.86 L464.96,246.20 L465.35,246.54 L465.61,246.87 L465.70,247.20 L465.61,247.53 L465.35,247.87 L464.96,248.21 L464.46,248.55 L463.88,248.88 L463.26,249.21 L462.62,249.51 L462.00,249.80 L461.37,250.07 L460.69,250.33 L459.96,250.57 L459.21,250.80 L458.42,251.02 L457.62,251.23 L456.81,251.42 L456.00,251.60 L455.18,251.77 L454.34,251.92 L453.49,252.06 L452.62,252.19 L451.74,252.30 L450.84,252.41 L449.93,252.51 L449.00,252.60 L448.05,252.68 L447.07,252.75 L446.07,252.81 L445.06,252.86 L444.04,252.91 L443.02,252.94 L442.01,252.97 L441.00,253.00 L439.98,253.03 L438.94,253.05 L437.89,253.08 L436.84,253.09 L435.82,253.10 L434.82,253.09 L433.88,253.06 L433.00,253.00 L432.17,252.94 L431.37,252.88 L430.60,252.80 L429.88,252.71 L429.20,252.59 L428.57,252.42 L428.00,252.19 L427.50,251.90 L427.06,251.53 L426.66,251.08 L426.32,250.57 L426.03,250.01 L425.80,249.43 L425.64,248.84 L425.53,248.26Z" fill="none" stroke="rgb(136,136,136)" stroke-width="0.5" stroke-linejoin="round"/>
<path d="M427.53,247.67 L427.55,247.16 L427.73,246.62 L428.03,246.08 L428.38,245.54 L428.77,245.03 L429.18,244.56 L429.60,244.14 L430.05,243.78 L430.52,243.48 L431.04,243.23 L431.60,243.02 L432.19,242.85 L432.83,242.70 L433.49,242.57 L434.18,242.46 L434.90,242.36 L435.66,242.28 L436.46,242.22 L437.31,242.19 L438.19,242.17 L439.08,242.17 L439.98,242.18 L440.86,242.19 L441.73,242.19 L442.59,242.20 L443.46,242.21 L444.33,242.23 L445.20,242.25 L446.06,242.29 L446.91,242.33 L447.75,242.38 L448.57,242.44 L449.36,242.51 L450.15,242.59 L450.92,242.67 L451.68,242.77 L452.43,242.87 L453.16,242.99 L453.89,243.12 L454.61,243.27 L455.32,243.43 L456.04,243.62 L456.75,243.81 L457.45,244.02 L458.14,244.24 L458.80,244.47 L459.44,244.70 L460.04,244.94 L460.65,245.19 L461.28,245.46 L461.90,245.74 L462.49,246.03 L463.01,246.32 L463.42,246.62 L463.71,246.92 L463.82,247.22 L463.75,247.52 L463.50,247.82 L463.11,248.13 L462.60,248.43 L462.01,248.73 L461.39,249.01 L460.75,249.28 L460.14,249.52 L459.53,249.75 L458.88,249.97 L458.21,250.17 L457.52,250.37 L456.81,250.55 L456.09,250.72 L455.37,250.88 L454.65,251.03 L453.93,251.17 L453.20,251.30 L452.46,251.42 L451.70,251.52 L450.94,251.62 L450.16,251.71 L449.38,251.79 L448.58,251.86 L447.76,251.93 L446.92,251.99 L446.06,252.04 L445.20,252.08 L444.32,252.12 L443.45,252.15 L442.58,252.17 L441.72,252.19 L440.85,252.22 L439.96,252.24 L439.06,252.26 L438.17,252.27 L437.29,252.27 L436.44,252.26 L435.64,252.24 L434.88,252.19 L434.17,252.14 L433.48,252.08 L432.82,252.03 L432.19,251.95 L431.60,251.84 L431.05,251.70 L430.55,251.52 L430.08,251.27 L429.65,250.96 L429.25,250.58 L428.87,250.16 L428.51,249.69 L428.17,249.19 L427.87,248.69 L427.64,248.17Z" fill="none" stroke="rgb(124,124,124)" stroke-width="0.5" stroke-linejoin="round"/>
<path d="M429.55,247.64 L429.57,247.19 L429.82,246.71 L430.25,246.24 L430.74,245.79 L431.23,245.37 L431.70,244.99 L432.15,244.64 L432.59,244.36 L433.04,244.12 L433.50,243.92 L434.00,243.75 L434.51,243.61 L435.05,243.49 L435.62,243.39 L436.20,243.31 L436.80,243.23 L437.43,243.16 L438.10,243.11 L438.81,243.09 L439.53,243.07 L440.27,243.07 L441.01,243.07 L441.75,243.08 L442.46,243.09 L443.18,243.09 L443.89,243.10 L444.62,243.11 L445.34,243.13 L446.05,243.16 L446.76,243.19 L447.45,243.23 L448.13,243.28 L448.79,243.34 L449.45,243.40 L450.09,243.46 L450.73,243.54 L451.36,243.62 L451.98,243.72 L452.60,243.82 L453.21,243.94 L453.82,244.07 L454.45,244.21 L455.07,244.37 L455.69,244.54 L456.31,244.71 L456.92,244.90 L457.51,245.09 L458.09,245.28 L458.68,245.49 L459.29,245.71 L459.92,245.95 L460.52,246.19 L461.06,246.45 L461.50,246.71 L461.81,246.97 L461.94,247.24 L461.89,247.51 L461.65,247.78 L461.26,248.05 L460.74,248.32 L460.15,248.57 L459.51,248.81 L458.88,249.04 L458.27,249.24 L457.69,249.43 L457.08,249.61 L456.46,249.77 L455.83,249.93 L455.20,250.08 L454.56,250.22 L453.93,250.35 L453.31,250.47 L452.68,250.58 L452.06,250.68 L451.42,250.77 L450.78,250.86 L450.14,250.93 L449.48,251.01 L448.82,251.07 L448.15,251.13 L447.47,251.18 L446.77,251.23 L446.05,251.27 L445.33,251.30 L444.60,251.33 L443.88,251.35 L443.15,251.37 L442.44,251.39 L441.72,251.40 L440.98,251.42 L440.23,251.44 L439.49,251.45 L438.77,251.45 L438.06,251.44 L437.39,251.42 L436.76,251.38 L436.17,251.34 L435.59,251.29 L435.04,251.25 L434.51,251.18 L434.01,251.10 L433.54,250.99 L433.09,250.84 L432.67,250.64 L432.25,250.39 L431.84,250.09 L431.42,249.75 L430.98,249.36 L430.54,248.96 L430.11,248.53 L429.75,248.08Z" fill="none" stroke="rgb(112,112,112)" stroke-width="0.5" stroke-linejoin="round"/>
<path d="M431.58,247.61 L431.59,247.21 L431.92,246.80 L432.47,246.40 L433.09,246.04 L433.68,245.71 L434.22,245.41 L434.70,245.15 L435.14,244.93 L435.55,244.75 L435.97,244.61 L436.40,244.48 L436.83,244.38 L437.28,244.29 L437.74,244.21 L438.22,244.15 L438.70,244.09 L439.21,244.04 L439.74,244.00 L440.30,243.98 L440.88,243.97 L441.46,243.97 L442.05,243.97 L442.63,243.98 L443.20,243.98 L443.76,243.98 L444.33,243.99 L444.90,244.00 L445.47,244.01 L446.04,244.03 L446.60,244.06 L447.16,244.09 L447.70,244.12 L448.23,244.16 L448.75,244.21 L449.27,244.26 L449.78,244.31 L450.29,244.37 L450.80,244.44 L451.31,244.52 L451.82,244.61 L452.33,244.71 L452.86,244.81 L453.39,244.93 L453.94,245.06 L454.49,245.19 L455.04,245.33 L455.59,245.48 L456.13,245.63 L456.70,245.79 L457.31,245.96 L457.94,246.15 L458.55,246.35 L459.11,246.57 L459.58,246.79 L459.91,247.02 L460.06,247.26 L460.03,247.49 L459.81,247.73 L459.41,247.97 L458.89,248.20 L458.28,248.42 L457.64,248.62 L457.01,248.80 L456.41,248.96 L455.85,249.11 L455.28,249.25 L454.71,249.38 L454.15,249.50 L453.59,249.61 L453.03,249.71 L452.49,249.81 L451.96,249.90 L451.43,249.99 L450.91,250.06 L450.39,250.13 L449.86,250.19 L449.34,250.25 L448.81,250.30 L448.27,250.35 L447.73,250.39 L447.18,250.43 L446.61,250.47 L446.04,250.50 L445.46,250.52 L444.88,250.54 L444.30,250.56 L443.73,250.57 L443.16,250.58 L442.58,250.59 L442.00,250.61 L441.41,250.62 L440.82,250.62 L440.24,250.62 L439.68,250.61 L439.15,250.60 L438.64,250.57 L438.17,250.54 L437.70,250.50 L437.26,250.47 L436.83,250.42 L436.42,250.36 L436.02,250.27 L435.63,250.16 L435.25,250.02 L434.85,249.83 L434.43,249.60 L433.97,249.34 L433.46,249.04 L432.90,248.72 L432.34,248.37 L431.86,247.99Z" fill="none" stroke="rgb(100,100,100)" stroke-width="0.5" stroke-linejoin="round"/>
<path d="M433.60,247.58 L433.60,247.24 L434.01,246.89 L434.69,246.57 L435.44,246.29 L436.13,246.04 L436.73,245.84 L437.24,245.66 L437.68,245.51 L438.07,245.39 L438.44,245.29 L438.80,245.21 L439.15,245.14 L439.51,245.08 L439.87,245.03 L440.23,244.99 L440.60,244.95 L440.98,244.92 L441.38,244.89 L441.80,244.88 L442.22,244.87 L442.65,244.87 L443.08,244.87 L443.51,244.87 L443.93,244.87 L444.34,244.87 L444.76,244.88 L445.19,244.88 L445.61,244.89 L446.03,244.90 L446.45,244.92 L446.86,244.94 L447.26,244.96 L447.66,244.99 L448.05,245.02 L448.45,245.05 L448.84,245.08 L449.23,245.12 L449.62,245.17 L450.02,245.22 L450.42,245.28 L450.84,245.34 L451.27,245.41 L451.72,245.49 L452.18,245.57 L452.66,245.66 L453.15,245.76 L453.66,245.86 L454.18,245.97 L454.73,246.09 L455.33,246.22 L455.95,246.36 L456.58,246.52 L457.16,246.69 L457.65,246.88 L458.00,247.08 L458.18,247.28 L458.17,247.48 L457.96,247.69 L457.57,247.89 L457.03,248.09 L456.41,248.26 L455.76,248.42 L455.13,248.56 L454.55,248.68 L454.01,248.79 L453.47,248.89 L452.96,248.98 L452.46,249.06 L451.97,249.14 L451.50,249.21 L451.05,249.28 L450.61,249.34 L450.19,249.39 L449.77,249.44 L449.36,249.49 L448.94,249.53 L448.54,249.57 L448.13,249.60 L447.72,249.63 L447.30,249.66 L446.89,249.68 L446.46,249.71 L446.03,249.72 L445.60,249.74 L445.16,249.75 L444.73,249.76 L444.30,249.77 L443.88,249.78 L443.45,249.78 L443.02,249.79 L442.58,249.79 L442.14,249.80 L441.72,249.80 L441.30,249.79 L440.90,249.78 L440.53,249.76 L440.17,249.74 L439.82,249.71 L439.48,249.69 L439.15,249.66 L438.83,249.62 L438.50,249.56 L438.18,249.48 L437.83,249.39 L437.45,249.26 L437.02,249.11 L436.51,248.93 L435.93,248.72 L435.27,248.48 L434.58,248.21 L433.97,247.91Z" fill="none" stroke="rgb(88,88,88)" stroke-width="0.5" stroke-linejoin="round"/>
<path d="M440.80,247.80 L440.28,249.71 L438.81,251.34 L436.60,252.42 L434.00,252.80 L431.40,252.42 L429.19,251.34 L427.72,249.71 L427.20,247.80 L427.72,245.89 L429.19,244.26 L431.40,243.18 L434.00,242.80 L436.60,243.18 L438.81,244.26 L440.28,245.89Z" fill="none" stroke="rgb(72,72,72)" stroke-width="0.55" stroke-linejoin="round"/>
<path d="M439.92,247.81 L439.46,249.48 L438.17,250.89 L436.25,251.82 L433.99,252.15 L431.73,251.82 L429.80,250.89 L428.51,249.48 L428.05,247.81 L428.51,246.15 L429.81,244.74 L431.73,243.81 L433.99,243.48 L436.24,243.81 L438.16,244.74 L439.46,246.15Z" fill="none" stroke="rgb(66,66,66)" stroke-width="0.55" stroke-linejoin="round"/>
<path d="M439.03,247.83 L438.64,249.25 L437.53,250.44 L435.89,251.23 L433.97,251.50 L432.06,251.23 L430.41,250.44 L429.30,249.25 L428.90,247.83 L429.31,246.40 L430.43,245.22 L432.06,244.44 L433.97,244.17 L435.88,244.44 L437.52,245.22 L438.63,246.41Z" fill="none" stroke="rgb(61,61,61)" stroke-width="0.55" stroke-linejoin="round"/>
<path d="M438.15,247.84 L437.82,249.01 L436.89,249.99 L435.53,250.63 L433.96,250.85 L432.39,250.63 L431.03,250.00 L430.08,249.02 L429.75,247.84 L430.10,246.66 L431.04,245.69 L432.40,245.07 L433.96,244.85 L435.52,245.07 L436.87,245.70 L437.81,246.67Z" fill="none" stroke="rgb(56,56,56)" stroke-width="0.55" stroke-linejoin="round"/>
<path d="M437.27,247.85 L437.00,248.78 L436.25,249.54 L435.17,250.03 L433.95,250.20 L432.72,250.04 L431.64,249.55 L430.87,248.79 L430.60,247.85 L430.89,246.92 L431.66,246.17 L432.73,245.69 L433.95,245.53 L435.16,245.70 L436.22,246.18 L436.98,246.93Z" fill="none" stroke="rgb(50,50,50)" stroke-width="0.55" stroke-linejoin="round"/>
<path d="M436.38,247.86 L436.18,248.55 L435.61,249.09 L434.82,249.43 L433.93,249.55 L433.05,249.44 L432.25,249.11 L431.66,248.56 L431.45,247.86 L431.69,247.18 L432.28,246.65 L433.06,246.32 L433.93,246.22 L434.80,246.33 L435.58,246.66 L436.15,247.19Z" fill="none" stroke="rgb(45,45,45)" stroke-width="0.55" stroke-linejoin="round"/>
<path d="M435.50,247.88 L435.36,248.31 L434.97,248.65 L434.46,248.84 L433.92,248.90 L433.38,248.85 L432.86,248.66 L432.45,248.32 L432.30,247.88 L432.48,247.44 L432.89,247.12 L433.40,246.95 L433.92,246.90 L434.44,246.96 L434.93,247.14 L435.33,247.45Z" fill="none" stroke="rgb(40,40,40)" stroke-width="0.55" stroke-linejoin="round"/>
<path d="M452.60,247.40 L452.16,249.01 L450.90,250.37 L449.02,251.28 L446.80,251.60 L444.58,251.28 L442.70,250.37 L441.44,249.01 L441.00,247.40 L441.44,245.79 L442.70,244.43 L444.58,243.52 L446.80,243.20 L449.02,243.52 L450.90,244.43 L452.16,245.79Z" fill="none" stroke="rgb(96,96,96)" stroke-width="0.5" stroke-linejoin="round"/>
<path d="M451.80,247.39 L451.13,248.67 L449.96,249.63 L448.50,250.25 L446.85,250.47 L445.21,250.25 L443.74,249.63 L442.57,248.66 L441.94,247.38 L442.53,246.09 L443.72,245.11 L445.20,244.48 L446.85,244.27 L448.50,244.48 L449.98,245.11 L451.18,246.08Z" fill="none" stroke="rgb(85,85,85)" stroke-width="0.5" stroke-linejoin="round"/>
<path d="M451.00,247.37 L450.10,248.33 L449.02,248.89 L447.97,249.22 L446.91,249.33 L445.83,249.22 L444.78,248.88 L443.71,248.31 L442.87,247.37 L443.61,246.38 L444.74,245.79 L445.82,245.45 L446.90,245.33 L447.99,245.45 L449.06,245.78 L450.20,246.37Z" fill="none" stroke="rgb(74,74,74)" stroke-width="0.5" stroke-linejoin="round"/>
<path d="M450.19,247.36 L449.07,247.99 L448.08,248.15 L447.45,248.19 L446.96,248.20 L446.46,248.19 L445.83,248.14 L444.84,247.96 L443.81,247.35 L444.70,246.68 L445.76,246.47 L446.43,246.41 L446.96,246.40 L447.48,246.41 L448.14,246.46 L449.22,246.65Z" fill="none" stroke="rgb(64,64,64)" stroke-width="0.5" stroke-linejoin="round"/>
<circle cx="440.96" cy="236.55" r="0.28" fill="#777"/>
<circle cx="470.34" cy="217.10" r="0.28" fill="#777"/>
<circle cx="470.11" cy="231.32" r="0.28" fill="#777"/>
<circle cx="472.61" cy="227.34" r="0.28" fill="#777"/>
<circle cx="473.93" cy="240.83" r="0.28" fill="#777"/>
<circle cx="441.06" cy="217.12" r="0.28" fill="#777"/>
<circle cx="472.45" cy="248.72" r="0.28" fill="#777"/>
<circle cx="452.05" cy="230.97" r="0.28" fill="#777"/>
<circle cx="468.45" cy="226.20" r="0.28" fill="#777"/>
<circle cx="457.47" cy="225.94" r="0.28" fill="#777"/>
<circle cx="457.72" cy="235.85" r="0.28" fill="#777"/>
<circle cx="454.42" cy="228.20" r="0.28" fill="#777"/>
</g>
<text x="14.80" y="250.30" font-size="8.8" text-anchor="middle" fill="#1a1a1a" font-weight="bold" textLength="17.3" lengthAdjust="spacingAndGlyphs" transform="rotate(-90 14.80 250.30)" >CD138</text>
<text x="28.40" y="277.40" font-size="8.8" text-anchor="start" fill="#1a1a1a" font-weight="bold" textLength="13.3" lengthAdjust="spacingAndGlyphs" >CD38</text>
<line x1="13.30" y1="267.50" x2="13.30" y2="273.80" stroke="#111" stroke-width="0.8" />
<line x1="13.30" y1="273.80" x2="20.50" y2="273.80" stroke="#111" stroke-width="0.8" />
<polygon points="13.3,265.2 11.9,268.2 14.7,268.2" fill="#111"/>
<polygon points="22.8,273.8 19.8,272.4 19.8,275.2" fill="#111"/>
<line x1="39.40" y1="311.00" x2="39.40" y2="400.10" stroke="#111" stroke-width="1" />
<line x1="38.90" y1="399.60" x2="131.50" y2="399.60" stroke="#111" stroke-width="1" />
<line x1="36.80" y1="399.60" x2="39.40" y2="399.60" stroke="#111" stroke-width="0.8" />
<text x="34.00" y="401.80" font-size="6.4" text-anchor="end" fill="#1a1a1a" stroke="#1a1a1a" stroke-width="0.18" >0</text>
<line x1="36.80" y1="387.53" x2="39.40" y2="387.53" stroke="#111" stroke-width="0.8" />
<text x="34.00" y="389.73" font-size="6.4" text-anchor="end" fill="#1a1a1a" stroke="#1a1a1a" stroke-width="0.18" >20</text>
<line x1="36.80" y1="375.46" x2="39.40" y2="375.46" stroke="#111" stroke-width="0.8" />
<text x="34.00" y="377.66" font-size="6.4" text-anchor="end" fill="#1a1a1a" stroke="#1a1a1a" stroke-width="0.18" >40</text>
<line x1="36.80" y1="363.38" x2="39.40" y2="363.38" stroke="#111" stroke-width="0.8" />
<text x="34.00" y="365.58" font-size="6.4" text-anchor="end" fill="#1a1a1a" stroke="#1a1a1a" stroke-width="0.18" >60</text>
<line x1="36.80" y1="351.31" x2="39.40" y2="351.31" stroke="#111" stroke-width="0.8" />
<text x="34.00" y="353.51" font-size="6.4" text-anchor="end" fill="#1a1a1a" stroke="#1a1a1a" stroke-width="0.18" >80</text>
<line x1="36.80" y1="339.24" x2="39.40" y2="339.24" stroke="#111" stroke-width="0.8" />
<text x="34.00" y="341.44" font-size="6.4" text-anchor="end" fill="#1a1a1a" stroke="#1a1a1a" stroke-width="0.18" >100</text>
<line x1="36.80" y1="327.17" x2="39.40" y2="327.17" stroke="#111" stroke-width="0.8" />
<text x="34.00" y="329.37" font-size="6.4" text-anchor="end" fill="#1a1a1a" stroke="#1a1a1a" stroke-width="0.18" >120</text>
<line x1="36.80" y1="315.10" x2="39.40" y2="315.10" stroke="#111" stroke-width="0.8" />
<text x="34.00" y="317.30" font-size="6.4" text-anchor="end" fill="#1a1a1a" stroke="#1a1a1a" stroke-width="0.18" >140</text>
<line x1="39.40" y1="399.60" x2="39.40" y2="402.40" stroke="#111" stroke-width="0.8" />
<text x="39.40" y="411.60" font-size="6.4" text-anchor="middle" fill="#1a1a1a" stroke="#1a1a1a" stroke-width="0.18" >0</text>
<line x1="57.40" y1="399.60" x2="57.40" y2="402.40" stroke="#111" stroke-width="0.8" />
<text x="57.40" y="411.60" font-size="6.4" text-anchor="middle" fill="#1a1a1a" stroke="#1a1a1a" stroke-width="0.18" >1</text>
<line x1="75.40" y1="399.60" x2="75.40" y2="402.40" stroke="#111" stroke-width="0.8" />
<text x="75.40" y="411.60" font-size="6.4" text-anchor="middle" fill="#1a1a1a" stroke="#1a1a1a" stroke-width="0.18" >2</text>
<line x1="93.40" y1="399.60" x2="93.40" y2="402.40" stroke="#111" stroke-width="0.8" />
<text x="93.40" y="411.60" font-size="6.4" text-anchor="middle" fill="#1a1a1a" stroke="#1a1a1a" stroke-width="0.18" >3</text>
<line x1="111.40" y1="399.60" x2="111.40" y2="402.40" stroke="#111" stroke-width="0.8" />
<text x="111.40" y="411.60" font-size="6.4" text-anchor="middle" fill="#1a1a1a" stroke="#1a1a1a" stroke-width="0.18" >4</text>
<line x1="129.40" y1="399.60" x2="129.40" y2="402.40" stroke="#111" stroke-width="0.8" />
<text x="129.40" y="411.60" font-size="6.4" text-anchor="middle" fill="#1a1a1a" stroke="#1a1a1a" stroke-width="0.18" >5</text>
<text x="84.95" y="422.60" font-size="8.3" text-anchor="middle" fill="#1a1a1a" font-weight="bold" textLength="24.5" lengthAdjust="spacingAndGlyphs" >Bor (nM)</text>
<polyline points="39.40,339.24 50.65,329.40 61.90,342.08 84.40,378.72 129.40,398.39" fill="none" stroke="#6bbd45" stroke-width="1.0" stroke-linejoin="round" />
<rect x="37.80" y="337.64" width="3.20" height="3.20" fill="#6bbd45"/>
<line x1="50.65" y1="346.91" x2="50.65" y2="311.90" stroke="#6bbd45" stroke-width="0.8" />
<line x1="49.15" y1="346.91" x2="52.15" y2="346.91" stroke="#6bbd45" stroke-width="0.8" />
<line x1="49.15" y1="311.90" x2="52.15" y2="311.90" stroke="#6bbd45" stroke-width="0.8" />
<rect x="49.05" y="327.80" width="3.20" height="3.20" fill="#6bbd45"/>
<line x1="61.90" y1="359.88" x2="61.90" y2="324.27" stroke="#6bbd45" stroke-width="0.8" />
<line x1="60.40" y1="359.88" x2="63.40" y2="359.88" stroke="#6bbd45" stroke-width="0.8" />
<line x1="60.40" y1="324.27" x2="63.40" y2="324.27" stroke="#6bbd45" stroke-width="0.8" />
<rect x="60.30" y="340.48" width="3.20" height="3.20" fill="#6bbd45"/>
<line x1="84.40" y1="389.88" x2="84.40" y2="367.55" stroke="#6bbd45" stroke-width="0.8" />
<line x1="82.90" y1="389.88" x2="85.90" y2="389.88" stroke="#6bbd45" stroke-width="0.8" />
<line x1="82.90" y1="367.55" x2="85.90" y2="367.55" stroke="#6bbd45" stroke-width="0.8" />
<rect x="82.80" y="377.12" width="3.20" height="3.20" fill="#6bbd45"/>
<rect x="127.80" y="396.79" width="3.20" height="3.20" fill="#6bbd45"/>
<polyline points="39.40,339.24 50.65,328.19 61.90,340.33 84.40,372.68 129.40,391.15" fill="none" stroke="#b4173f" stroke-width="1.0" stroke-linejoin="round" />
<circle cx="39.40" cy="339.24" r="1.60" fill="#b4173f"/>
<line x1="50.65" y1="332.42" x2="50.65" y2="323.97" stroke="#b4173f" stroke-width="0.8" />
<line x1="49.15" y1="332.42" x2="52.15" y2="332.42" stroke="#b4173f" stroke-width="0.8" />
<line x1="49.15" y1="323.97" x2="52.15" y2="323.97" stroke="#b4173f" stroke-width="0.8" />
<circle cx="50.65" cy="328.19" r="1.60" fill="#b4173f"/>
<line x1="61.90" y1="352.40" x2="61.90" y2="328.25" stroke="#b4173f" stroke-width="0.8" />
<line x1="60.40" y1="352.40" x2="63.40" y2="352.40" stroke="#b4173f" stroke-width="0.8" />
<line x1="60.40" y1="328.25" x2="63.40" y2="328.25" stroke="#b4173f" stroke-width="0.8" />
<circle cx="61.90" cy="340.33" r="1.60" fill="#b4173f"/>
<line x1="84.40" y1="377.81" x2="84.40" y2="367.55" stroke="#b4173f" stroke-width="0.8" />
<line x1="82.90" y1="377.81" x2="85.90" y2="377.81" stroke="#b4173f" stroke-width="0.8" />
<line x1="82.90" y1="367.55" x2="85.90" y2="367.55" stroke="#b4173f" stroke-width="0.8" />
<circle cx="84.40" cy="372.68" r="1.60" fill="#b4173f"/>
<line x1="129.40" y1="394.65" x2="129.40" y2="387.65" stroke="#b4173f" stroke-width="0.8" />
<line x1="127.90" y1="394.65" x2="130.90" y2="394.65" stroke="#b4173f" stroke-width="0.8" />
<line x1="127.90" y1="387.65" x2="130.90" y2="387.65" stroke="#b4173f" stroke-width="0.8" />
<circle cx="129.40" cy="391.15" r="1.60" fill="#b4173f"/>
<polyline points="39.40,339.24 50.65,347.93 61.90,372.20 84.40,399.60 129.40,399.60" fill="none" stroke="#2b4c8f" stroke-width="1.0" stroke-linejoin="round" />
<polygon points="39.40,337.48 41.16,340.52 37.64,340.52" fill="#2b4c8f"/>
<line x1="50.65" y1="356.68" x2="50.65" y2="339.18" stroke="#2b4c8f" stroke-width="0.8" />
<line x1="49.15" y1="356.68" x2="52.15" y2="356.68" stroke="#2b4c8f" stroke-width="0.8" />
<line x1="49.15" y1="339.18" x2="52.15" y2="339.18" stroke="#2b4c8f" stroke-width="0.8" />
<polygon points="50.65,346.17 52.41,349.21 48.89,349.21" fill="#2b4c8f"/>
<line x1="61.90" y1="375.70" x2="61.90" y2="368.70" stroke="#2b4c8f" stroke-width="0.8" />
<line x1="60.40" y1="375.70" x2="63.40" y2="375.70" stroke="#2b4c8f" stroke-width="0.8" />
<line x1="60.40" y1="368.70" x2="63.40" y2="368.70" stroke="#2b4c8f" stroke-width="0.8" />
<polygon points="61.90,370.44 63.66,373.48 60.14,373.48" fill="#2b4c8f"/>
<polygon points="84.40,397.84 86.16,400.88 82.64,400.88" fill="#2b4c8f"/>
<polygon points="129.40,397.84 131.16,400.88 127.64,400.88" fill="#2b4c8f"/>
<polyline points="39.40,339.24 50.65,370.63 61.90,384.99 84.40,392.12 129.40,399.00" fill="none" stroke="#4a2770" stroke-width="1.0" stroke-linejoin="round" />
<circle cx="39.40" cy="339.24" r="1.60" fill="#4a2770"/>
<line x1="50.65" y1="380.71" x2="50.65" y2="360.55" stroke="#4a2770" stroke-width="0.8" />
<line x1="49.15" y1="380.71" x2="52.15" y2="380.71" stroke="#4a2770" stroke-width="0.8" />
<line x1="49.15" y1="360.55" x2="52.15" y2="360.55" stroke="#4a2770" stroke-width="0.8" />
<circle cx="50.65" cy="370.63" r="1.60" fill="#4a2770"/>
<line x1="61.90" y1="388.01" x2="61.90" y2="381.97" stroke="#4a2770" stroke-width="0.8" />
<line x1="60.40" y1="388.01" x2="63.40" y2="388.01" stroke="#4a2770" stroke-width="0.8" />
<line x1="60.40" y1="381.97" x2="63.40" y2="381.97" stroke="#4a2770" stroke-width="0.8" />
<circle cx="61.90" cy="384.99" r="1.60" fill="#4a2770"/>
<circle cx="84.40" cy="392.12" r="1.60" fill="#4a2770"/>
<circle cx="129.40" cy="399.00" r="1.60" fill="#4a2770"/>
<line x1="89.80" y1="311.90" x2="97.70" y2="311.90" stroke="#6bbd45" stroke-width="1.0" />
<rect x="92.10" y="310.25" width="3.30" height="3.30" fill="#6bbd45"/>
<text x="100.90" y="313.90" font-size="5.25" text-anchor="start" fill="#1a1a1a" stroke="#1a1a1a" stroke-width="0.1" >HTB-576</text>
<line x1="89.80" y1="321.20" x2="97.70" y2="321.20" stroke="#2b4c8f" stroke-width="1.0" />
<polygon points="93.75,319.38 95.56,322.52 91.94,322.52" fill="#2b4c8f"/>
<text x="100.90" y="323.20" font-size="5.25" text-anchor="start" fill="#1a1a1a" stroke="#1a1a1a" stroke-width="0.1" >HTB-616</text>
<line x1="89.80" y1="330.50" x2="97.70" y2="330.50" stroke="#4a2770" stroke-width="1.0" />
<circle cx="93.75" cy="330.50" r="1.65" fill="#4a2770"/>
<text x="100.90" y="332.50" font-size="5.25" text-anchor="start" fill="#1a1a1a" stroke="#1a1a1a" stroke-width="0.1" >HTB-656</text>
<line x1="89.80" y1="339.70" x2="97.70" y2="339.70" stroke="#b4173f" stroke-width="1.0" />
<circle cx="93.75" cy="339.70" r="1.65" fill="#b4173f"/>
<text x="100.90" y="341.70" font-size="5.25" text-anchor="start" fill="#1a1a1a" stroke="#1a1a1a" stroke-width="0.1" >HTB-748</text>
<line x1="163.70" y1="311.00" x2="163.70" y2="400.10" stroke="#111" stroke-width="1" />
<line x1="163.20" y1="399.60" x2="256.00" y2="399.60" stroke="#111" stroke-width="1" />
<line x1="161.10" y1="399.60" x2="163.70" y2="399.60" stroke="#111" stroke-width="0.8" />
<text x="158.30" y="401.80" font-size="6.4" text-anchor="end" fill="#1a1a1a" stroke="#1a1a1a" stroke-width="0.18" >0</text>
<line x1="161.10" y1="387.53" x2="163.70" y2="387.53" stroke="#111" stroke-width="0.8" />
<text x="158.30" y="389.73" font-size="6.4" text-anchor="end" fill="#1a1a1a" stroke="#1a1a1a" stroke-width="0.18" >20</text>
<line x1="161.10" y1="375.46" x2="163.70" y2="375.46" stroke="#111" stroke-width="0.8" />
<text x="158.30" y="377.66" font-size="6.4" text-anchor="end" fill="#1a1a1a" stroke="#1a1a1a" stroke-width="0.18" >40</text>
<line x1="161.10" y1="363.38" x2="163.70" y2="363.38" stroke="#111" stroke-width="0.8" />
<text x="158.30" y="365.58" font-size="6.4" text-anchor="end" fill="#1a1a1a" stroke="#1a1a1a" stroke-width="0.18" >60</text>
<line x1="161.10" y1="351.31" x2="163.70" y2="351.31" stroke="#111" stroke-width="0.8" />
<text x="158.30" y="353.51" font-size="6.4" text-anchor="end" fill="#1a1a1a" stroke="#1a1a1a" stroke-width="0.18" >80</text>
<line x1="161.10" y1="339.24" x2="163.70" y2="339.24" stroke="#111" stroke-width="0.8" />
<text x="158.30" y="341.44" font-size="6.4" text-anchor="end" fill="#1a1a1a" stroke="#1a1a1a" stroke-width="0.18" >100</text>
<line x1="161.10" y1="327.17" x2="163.70" y2="327.17" stroke="#111" stroke-width="0.8" />
<text x="158.30" y="329.37" font-size="6.4" text-anchor="end" fill="#1a1a1a" stroke="#1a1a1a" stroke-width="0.18" >120</text>
<line x1="161.10" y1="315.10" x2="163.70" y2="315.10" stroke="#111" stroke-width="0.8" />
<text x="158.30" y="317.30" font-size="6.4" text-anchor="end" fill="#1a1a1a" stroke="#1a1a1a" stroke-width="0.18" >140</text>
<line x1="163.70" y1="399.60" x2="163.70" y2="402.40" stroke="#111" stroke-width="0.8" />
<text x="163.70" y="411.60" font-size="6.4" text-anchor="middle" fill="#1a1a1a" stroke="#1a1a1a" stroke-width="0.18" >0</text>
<line x1="186.10" y1="399.60" x2="186.10" y2="402.40" stroke="#111" stroke-width="0.8" />
<text x="186.10" y="411.60" font-size="6.4" text-anchor="middle" fill="#1a1a1a" stroke="#1a1a1a" stroke-width="0.18" >10</text>
<line x1="208.50" y1="399.60" x2="208.50" y2="402.40" stroke="#111" stroke-width="0.8" />
<text x="208.50" y="411.60" font-size="6.4" text-anchor="middle" fill="#1a1a1a" stroke="#1a1a1a" stroke-width="0.18" >20</text>
<line x1="230.90" y1="399.60" x2="230.90" y2="402.40" stroke="#111" stroke-width="0.8" />
<text x="230.90" y="411.60" font-size="6.4" text-anchor="middle" fill="#1a1a1a" stroke="#1a1a1a" stroke-width="0.18" >30</text>
<line x1="253.30" y1="399.60" x2="253.30" y2="402.40" stroke="#111" stroke-width="0.8" />
<text x="253.30" y="411.60" font-size="6.4" text-anchor="middle" fill="#1a1a1a" stroke="#1a1a1a" stroke-width="0.18" >40</text>
<text x="209.35" y="422.60" font-size="8.3" text-anchor="middle" fill="#1a1a1a" font-weight="bold" textLength="27.5" lengthAdjust="spacingAndGlyphs" >Pom (μM)</text>
<polyline points="163.70,339.24 174.90,394.23 186.10,393.50 208.50,394.71 253.30,395.86" fill="none" stroke="#5aa5e6" stroke-width="1.0" stroke-linejoin="round" />
<polygon points="163.70,341.00 165.46,337.96 161.94,337.96" fill="#5aa5e6"/>
<polygon points="174.90,395.99 176.66,392.95 173.14,392.95" fill="#5aa5e6"/>
<line x1="186.10" y1="395.19" x2="186.10" y2="391.81" stroke="#5aa5e6" stroke-width="0.8" />
<line x1="184.60" y1="395.19" x2="187.60" y2="395.19" stroke="#5aa5e6" stroke-width="0.8" />
<line x1="184.60" y1="391.81" x2="187.60" y2="391.81" stroke="#5aa5e6" stroke-width="0.8" />
<polygon points="186.10,395.26 187.86,392.22 184.34,392.22" fill="#5aa5e6"/>
<line x1="208.50" y1="396.10" x2="208.50" y2="393.32" stroke="#5aa5e6" stroke-width="0.8" />
<line x1="207.00" y1="396.10" x2="210.00" y2="396.10" stroke="#5aa5e6" stroke-width="0.8" />
<line x1="207.00" y1="393.32" x2="210.00" y2="393.32" stroke="#5aa5e6" stroke-width="0.8" />
<polygon points="208.50,396.47 210.26,393.43 206.74,393.43" fill="#5aa5e6"/>
<polygon points="253.30,397.62 255.06,394.58 251.54,394.58" fill="#5aa5e6"/>
<polyline points="163.70,339.24 174.90,349.50 186.10,351.43 208.50,348.17 253.30,352.10" fill="none" stroke="#e59a22" stroke-width="1.0" stroke-linejoin="round" />
<circle cx="163.70" cy="339.24" r="1.60" fill="#e59a22"/>
<line x1="174.90" y1="355.90" x2="174.90" y2="343.10" stroke="#e59a22" stroke-width="0.8" />
<line x1="173.40" y1="355.90" x2="176.40" y2="355.90" stroke="#e59a22" stroke-width="0.8" />
<line x1="173.40" y1="343.10" x2="176.40" y2="343.10" stroke="#e59a22" stroke-width="0.8" />
<circle cx="174.90" cy="349.50" r="1.60" fill="#e59a22"/>
<line x1="186.10" y1="360.31" x2="186.10" y2="342.56" stroke="#e59a22" stroke-width="0.8" />
<line x1="184.60" y1="360.31" x2="187.60" y2="360.31" stroke="#e59a22" stroke-width="0.8" />
<line x1="184.60" y1="342.56" x2="187.60" y2="342.56" stroke="#e59a22" stroke-width="0.8" />
<circle cx="186.10" cy="351.43" r="1.60" fill="#e59a22"/>
<line x1="208.50" y1="351.67" x2="208.50" y2="344.67" stroke="#e59a22" stroke-width="0.8" />
<line x1="207.00" y1="351.67" x2="210.00" y2="351.67" stroke="#e59a22" stroke-width="0.8" />
<line x1="207.00" y1="344.67" x2="210.00" y2="344.67" stroke="#e59a22" stroke-width="0.8" />
<circle cx="208.50" cy="348.17" r="1.60" fill="#e59a22"/>
<line x1="253.30" y1="358.86" x2="253.30" y2="345.34" stroke="#e59a22" stroke-width="0.8" />
<line x1="251.80" y1="358.86" x2="254.80" y2="358.86" stroke="#e59a22" stroke-width="0.8" />
<line x1="251.80" y1="345.34" x2="254.80" y2="345.34" stroke="#e59a22" stroke-width="0.8" />
<circle cx="253.30" cy="352.10" r="1.60" fill="#e59a22"/>
<polyline points="163.70,339.24 174.90,366.40 186.10,375.03 208.50,379.68 253.30,386.62" fill="none" stroke="#4a2770" stroke-width="1.0" stroke-linejoin="round" />
<circle cx="163.70" cy="339.24" r="1.60" fill="#4a2770"/>
<line x1="174.90" y1="368.70" x2="174.90" y2="364.11" stroke="#4a2770" stroke-width="0.8" />
<line x1="173.40" y1="368.70" x2="176.40" y2="368.70" stroke="#4a2770" stroke-width="0.8" />
<line x1="173.40" y1="364.11" x2="176.40" y2="364.11" stroke="#4a2770" stroke-width="0.8" />
<circle cx="174.90" cy="366.40" r="1.60" fill="#4a2770"/>
<circle cx="186.10" cy="375.03" r="1.60" fill="#4a2770"/>
<circle cx="208.50" cy="379.68" r="1.60" fill="#4a2770"/>
<circle cx="253.30" cy="386.62" r="1.60" fill="#4a2770"/>
<polyline points="163.70,339.24 174.90,363.38 186.10,366.40 208.50,363.38 253.30,374.07" fill="none" stroke="#2b4c8f" stroke-width="1.0" stroke-linejoin="round" />
<polygon points="163.70,337.48 165.46,340.52 161.94,340.52" fill="#2b4c8f"/>
<line x1="174.90" y1="366.58" x2="174.90" y2="360.18" stroke="#2b4c8f" stroke-width="0.8" />
<line x1="173.40" y1="366.58" x2="176.40" y2="366.58" stroke="#2b4c8f" stroke-width="0.8" />
<line x1="173.40" y1="360.18" x2="176.40" y2="360.18" stroke="#2b4c8f" stroke-width="0.8" />
<polygon points="174.90,361.62 176.66,364.66 173.14,364.66" fill="#2b4c8f"/>
<line x1="186.10" y1="369.30" x2="186.10" y2="363.50" stroke="#2b4c8f" stroke-width="0.8" />
<line x1="184.60" y1="369.30" x2="187.60" y2="369.30" stroke="#2b4c8f" stroke-width="0.8" />
<line x1="184.60" y1="363.50" x2="187.60" y2="363.50" stroke="#2b4c8f" stroke-width="0.8" />
<polygon points="186.10,364.64 187.86,367.68 184.34,367.68" fill="#2b4c8f"/>
<line x1="208.50" y1="367.79" x2="208.50" y2="358.98" stroke="#2b4c8f" stroke-width="0.8" />
<line x1="207.00" y1="367.79" x2="210.00" y2="367.79" stroke="#2b4c8f" stroke-width="0.8" />
<line x1="207.00" y1="358.98" x2="210.00" y2="358.98" stroke="#2b4c8f" stroke-width="0.8" />
<polygon points="208.50,361.62 210.26,364.66 206.74,364.66" fill="#2b4c8f"/>
<line x1="253.30" y1="376.42" x2="253.30" y2="371.71" stroke="#2b4c8f" stroke-width="0.8" />
<line x1="251.80" y1="376.42" x2="254.80" y2="376.42" stroke="#2b4c8f" stroke-width="0.8" />
<line x1="251.80" y1="371.71" x2="254.80" y2="371.71" stroke="#2b4c8f" stroke-width="0.8" />
<polygon points="253.30,372.31 255.06,375.35 251.54,375.35" fill="#2b4c8f"/>
<line x1="210.90" y1="311.60" x2="218.20" y2="311.60" stroke="#2b4c8f" stroke-width="1.0" />
<polygon points="214.55,309.79 216.37,312.92 212.74,312.92" fill="#2b4c8f"/>
<text x="221.30" y="313.60" font-size="5.25" text-anchor="start" fill="#1a1a1a" stroke="#1a1a1a" stroke-width="0.1" >HTB-616</text>
<line x1="210.90" y1="320.70" x2="218.20" y2="320.70" stroke="#4a2770" stroke-width="1.0" />
<circle cx="214.55" cy="320.70" r="1.65" fill="#4a2770"/>
<text x="221.30" y="322.70" font-size="5.25" text-anchor="start" fill="#1a1a1a" stroke="#1a1a1a" stroke-width="0.1" >HTB-656</text>
<line x1="210.90" y1="329.50" x2="218.20" y2="329.50" stroke="#e59a22" stroke-width="1.0" />
<circle cx="214.55" cy="329.50" r="1.65" fill="#e59a22"/>
<text x="221.30" y="331.50" font-size="5.25" text-anchor="start" fill="#1a1a1a" stroke="#1a1a1a" stroke-width="0.1" >HTB-916</text>
<line x1="210.90" y1="338.60" x2="218.20" y2="338.60" stroke="#5aa5e6" stroke-width="1.0" />
<polygon points="214.55,340.42 216.37,337.28 212.74,337.28" fill="#5aa5e6"/>
<text x="221.30" y="340.60" font-size="5.25" text-anchor="start" fill="#1a1a1a" stroke="#1a1a1a" stroke-width="0.1" >HTB-1010</text>
<line x1="288.80" y1="311.00" x2="288.80" y2="400.10" stroke="#111" stroke-width="1" />
<line x1="288.30" y1="399.60" x2="381.00" y2="399.60" stroke="#111" stroke-width="1" />
<line x1="286.20" y1="399.60" x2="288.80" y2="399.60" stroke="#111" stroke-width="0.8" />
<text x="283.40" y="401.80" font-size="6.4" text-anchor="end" fill="#1a1a1a" stroke="#1a1a1a" stroke-width="0.18" >0</text>
<line x1="286.20" y1="387.53" x2="288.80" y2="387.53" stroke="#111" stroke-width="0.8" />
<text x="283.40" y="389.73" font-size="6.4" text-anchor="end" fill="#1a1a1a" stroke="#1a1a1a" stroke-width="0.18" >20</text>
<line x1="286.20" y1="375.46" x2="288.80" y2="375.46" stroke="#111" stroke-width="0.8" />
<text x="283.40" y="377.66" font-size="6.4" text-anchor="end" fill="#1a1a1a" stroke="#1a1a1a" stroke-width="0.18" >40</text>
<line x1="286.20" y1="363.38" x2="288.80" y2="363.38" stroke="#111" stroke-width="0.8" />
<text x="283.40" y="365.58" font-size="6.4" text-anchor="end" fill="#1a1a1a" stroke="#1a1a1a" stroke-width="0.18" >60</text>
<line x1="286.20" y1="351.31" x2="288.80" y2="351.31" stroke="#111" stroke-width="0.8" />
<text x="283.40" y="353.51" font-size="6.4" text-anchor="end" fill="#1a1a1a" stroke="#1a1a1a" stroke-width="0.18" >80</text>
<line x1="286.20" y1="339.24" x2="288.80" y2="339.24" stroke="#111" stroke-width="0.8" />
<text x="283.40" y="341.44" font-size="6.4" text-anchor="end" fill="#1a1a1a" stroke="#1a1a1a" stroke-width="0.18" >100</text>
<line x1="286.20" y1="327.17" x2="288.80" y2="327.17" stroke="#111" stroke-width="0.8" />
<text x="283.40" y="329.37" font-size="6.4" text-anchor="end" fill="#1a1a1a" stroke="#1a1a1a" stroke-width="0.18" >120</text>
<line x1="286.20" y1="315.10" x2="288.80" y2="315.10" stroke="#111" stroke-width="0.8" />
<text x="283.40" y="317.30" font-size="6.4" text-anchor="end" fill="#1a1a1a" stroke="#1a1a1a" stroke-width="0.18" >140</text>
<line x1="288.80" y1="399.60" x2="288.80" y2="402.40" stroke="#111" stroke-width="0.8" />
<text x="288.80" y="411.60" font-size="6.4" text-anchor="middle" fill="#1a1a1a" stroke="#1a1a1a" stroke-width="0.18" >0.0</text>
<line x1="311.23" y1="399.60" x2="311.23" y2="402.40" stroke="#111" stroke-width="0.8" />
<text x="311.23" y="411.60" font-size="6.4" text-anchor="middle" fill="#1a1a1a" stroke="#1a1a1a" stroke-width="0.18" >0.5</text>
<line x1="333.65" y1="399.60" x2="333.65" y2="402.40" stroke="#111" stroke-width="0.8" />
<text x="333.65" y="411.60" font-size="6.4" text-anchor="middle" fill="#1a1a1a" stroke="#1a1a1a" stroke-width="0.18" >1.0</text>
<line x1="356.08" y1="399.60" x2="356.08" y2="402.40" stroke="#111" stroke-width="0.8" />
<text x="356.08" y="411.60" font-size="6.4" text-anchor="middle" fill="#1a1a1a" stroke="#1a1a1a" stroke-width="0.18" >1.5</text>
<line x1="378.50" y1="399.60" x2="378.50" y2="402.40" stroke="#111" stroke-width="0.8" />
<text x="378.50" y="411.60" font-size="6.4" text-anchor="middle" fill="#1a1a1a" stroke="#1a1a1a" stroke-width="0.18" >2.0</text>
<text x="334.40" y="422.60" font-size="8.3" text-anchor="middle" fill="#1a1a1a" font-weight="bold" textLength="25" lengthAdjust="spacingAndGlyphs" >Dex (μM)</text>
<polyline points="288.80,339.24 300.01,342.62 311.23,346.30 333.65,350.95 378.50,351.37" fill="none" stroke="#5aa5e6" stroke-width="1.0" stroke-linejoin="round" />
<polygon points="288.80,341.00 290.56,337.96 287.04,337.96" fill="#5aa5e6"/>
<line x1="300.01" y1="348.41" x2="300.01" y2="336.83" stroke="#5aa5e6" stroke-width="0.8" />
<line x1="298.51" y1="348.41" x2="301.51" y2="348.41" stroke="#5aa5e6" stroke-width="0.8" />
<line x1="298.51" y1="336.83" x2="301.51" y2="336.83" stroke="#5aa5e6" stroke-width="0.8" />
<polygon points="300.01,344.38 301.77,341.34 298.25,341.34" fill="#5aa5e6"/>
<line x1="311.23" y1="357.65" x2="311.23" y2="334.95" stroke="#5aa5e6" stroke-width="0.8" />
<line x1="309.73" y1="357.65" x2="312.73" y2="357.65" stroke="#5aa5e6" stroke-width="0.8" />
<line x1="309.73" y1="334.95" x2="312.73" y2="334.95" stroke="#5aa5e6" stroke-width="0.8" />
<polygon points="311.23,348.06 312.99,345.02 309.47,345.02" fill="#5aa5e6"/>
<line x1="333.65" y1="354.99" x2="333.65" y2="346.91" stroke="#5aa5e6" stroke-width="0.8" />
<line x1="332.15" y1="354.99" x2="335.15" y2="354.99" stroke="#5aa5e6" stroke-width="0.8" />
<line x1="332.15" y1="346.91" x2="335.15" y2="346.91" stroke="#5aa5e6" stroke-width="0.8" />
<polygon points="333.65,352.71 335.41,349.67 331.89,349.67" fill="#5aa5e6"/>
<line x1="378.50" y1="358.92" x2="378.50" y2="343.83" stroke="#5aa5e6" stroke-width="0.8" />
<line x1="377.00" y1="358.92" x2="380.00" y2="358.92" stroke="#5aa5e6" stroke-width="0.8" />
<line x1="377.00" y1="343.83" x2="380.00" y2="343.83" stroke="#5aa5e6" stroke-width="0.8" />
<polygon points="378.50,353.13 380.26,350.09 376.74,350.09" fill="#5aa5e6"/>
<polyline points="288.80,339.24 300.01,357.41 311.23,358.31 333.65,368.76 378.50,367.13" fill="none" stroke="#4a2770" stroke-width="1.0" stroke-linejoin="round" />
<circle cx="288.80" cy="339.24" r="1.60" fill="#4a2770"/>
<line x1="300.01" y1="361.45" x2="300.01" y2="353.36" stroke="#4a2770" stroke-width="0.8" />
<line x1="298.51" y1="361.45" x2="301.51" y2="361.45" stroke="#4a2770" stroke-width="0.8" />
<line x1="298.51" y1="353.36" x2="301.51" y2="353.36" stroke="#4a2770" stroke-width="0.8" />
<circle cx="300.01" cy="357.41" r="1.60" fill="#4a2770"/>
<line x1="311.23" y1="366.40" x2="311.23" y2="350.23" stroke="#4a2770" stroke-width="0.8" />
<line x1="309.73" y1="366.40" x2="312.73" y2="366.40" stroke="#4a2770" stroke-width="0.8" />
<line x1="309.73" y1="350.23" x2="312.73" y2="350.23" stroke="#4a2770" stroke-width="0.8" />
<circle cx="311.23" cy="358.31" r="1.60" fill="#4a2770"/>
<line x1="333.65" y1="377.93" x2="333.65" y2="359.58" stroke="#4a2770" stroke-width="0.8" />
<line x1="332.15" y1="377.93" x2="335.15" y2="377.93" stroke="#4a2770" stroke-width="0.8" />
<line x1="332.15" y1="359.58" x2="335.15" y2="359.58" stroke="#4a2770" stroke-width="0.8" />
<circle cx="333.65" cy="368.76" r="1.60" fill="#4a2770"/>
<line x1="378.50" y1="369.42" x2="378.50" y2="364.83" stroke="#4a2770" stroke-width="0.8" />
<line x1="377.00" y1="369.42" x2="380.00" y2="369.42" stroke="#4a2770" stroke-width="0.8" />
<line x1="377.00" y1="364.83" x2="380.00" y2="364.83" stroke="#4a2770" stroke-width="0.8" />
<circle cx="378.50" cy="367.13" r="1.60" fill="#4a2770"/>
<polyline points="288.80,339.24 300.01,385.42 311.23,386.56 333.65,387.95 378.50,386.56" fill="none" stroke="#2b4c8f" stroke-width="1.0" stroke-linejoin="round" />
<polygon points="288.80,337.48 290.56,340.52 287.04,340.52" fill="#2b4c8f"/>
<polygon points="300.01,383.66 301.77,386.70 298.25,386.70" fill="#2b4c8f"/>
<line x1="311.23" y1="388.49" x2="311.23" y2="384.63" stroke="#2b4c8f" stroke-width="0.8" />
<line x1="309.73" y1="388.49" x2="312.73" y2="388.49" stroke="#2b4c8f" stroke-width="0.8" />
<line x1="309.73" y1="384.63" x2="312.73" y2="384.63" stroke="#2b4c8f" stroke-width="0.8" />
<polygon points="311.23,384.80 312.99,387.84 309.47,387.84" fill="#2b4c8f"/>
<polygon points="333.65,386.19 335.41,389.23 331.89,389.23" fill="#2b4c8f"/>
<line x1="378.50" y1="389.46" x2="378.50" y2="383.66" stroke="#2b4c8f" stroke-width="0.8" />
<line x1="377.00" y1="389.46" x2="380.00" y2="389.46" stroke="#2b4c8f" stroke-width="0.8" />
<line x1="377.00" y1="383.66" x2="380.00" y2="383.66" stroke="#2b4c8f" stroke-width="0.8" />
<polygon points="378.50,384.80 380.26,387.84 376.74,387.84" fill="#2b4c8f"/>
<polyline points="288.80,339.24 300.01,324.09 311.23,332.42 333.65,346.79 378.50,351.37" fill="none" stroke="#c0782e" stroke-width="1.0" stroke-linejoin="round" />
<rect x="287.60" y="338.04" width="2.40" height="2.40" fill="#fff" stroke="#c0782e" stroke-width="0.8"/>
<line x1="300.01" y1="329.64" x2="300.01" y2="318.54" stroke="#c0782e" stroke-width="0.8" />
<line x1="298.51" y1="329.64" x2="301.51" y2="329.64" stroke="#c0782e" stroke-width="0.8" />
<line x1="298.51" y1="318.54" x2="301.51" y2="318.54" stroke="#c0782e" stroke-width="0.8" />
<rect x="298.81" y="322.89" width="2.40" height="2.40" fill="#fff" stroke="#c0782e" stroke-width="0.8"/>
<rect x="310.02" y="331.22" width="2.40" height="2.40" fill="#fff" stroke="#c0782e" stroke-width="0.8"/>
<line x1="333.65" y1="350.83" x2="333.65" y2="342.74" stroke="#c0782e" stroke-width="0.8" />
<line x1="332.15" y1="350.83" x2="335.15" y2="350.83" stroke="#c0782e" stroke-width="0.8" />
<line x1="332.15" y1="342.74" x2="335.15" y2="342.74" stroke="#c0782e" stroke-width="0.8" />
<rect x="332.45" y="345.58" width="2.40" height="2.40" fill="#fff" stroke="#c0782e" stroke-width="0.8"/>
<line x1="378.50" y1="358.92" x2="378.50" y2="343.83" stroke="#c0782e" stroke-width="0.8" />
<line x1="377.00" y1="358.92" x2="380.00" y2="358.92" stroke="#c0782e" stroke-width="0.8" />
<line x1="377.00" y1="343.83" x2="380.00" y2="343.83" stroke="#c0782e" stroke-width="0.8" />
<rect x="377.30" y="350.17" width="2.40" height="2.40" fill="#fff" stroke="#c0782e" stroke-width="0.8"/>
<line x1="337.80" y1="311.60" x2="345.40" y2="311.60" stroke="#4a2770" stroke-width="1.0" />
<circle cx="341.60" cy="311.60" r="1.65" fill="#4a2770"/>
<text x="348.80" y="313.60" font-size="5.25" text-anchor="start" fill="#1a1a1a" stroke="#1a1a1a" stroke-width="0.1" >HTB-656</text>
<line x1="337.80" y1="320.70" x2="345.40" y2="320.70" stroke="#2b4c8f" stroke-width="1.0" />
<polygon points="341.60,318.88 343.42,322.02 339.79,322.02" fill="#2b4c8f"/>
<text x="348.80" y="322.70" font-size="5.25" text-anchor="start" fill="#1a1a1a" stroke="#1a1a1a" stroke-width="0.1" >HTB-616</text>
<line x1="337.80" y1="329.50" x2="345.40" y2="329.50" stroke="#c0782e" stroke-width="1.0" />
<rect x="340.35" y="328.25" width="2.50" height="2.50" fill="#fff" stroke="#c0782e" stroke-width="0.8"/>
<text x="348.80" y="331.50" font-size="5.25" text-anchor="start" fill="#1a1a1a" stroke="#1a1a1a" stroke-width="0.1" >HTB-1003</text>
<line x1="337.80" y1="338.60" x2="345.40" y2="338.60" stroke="#5aa5e6" stroke-width="1.0" />
<polygon points="341.60,340.42 343.42,337.28 339.79,337.28" fill="#5aa5e6"/>
<text x="348.80" y="340.60" font-size="5.25" text-anchor="start" fill="#1a1a1a" stroke="#1a1a1a" stroke-width="0.1" >HTB-1010</text>
<line x1="415.30" y1="311.00" x2="415.30" y2="400.10" stroke="#111" stroke-width="1" />
<line x1="414.80" y1="399.60" x2="507.00" y2="399.60" stroke="#111" stroke-width="1" />
<line x1="412.70" y1="399.60" x2="415.30" y2="399.60" stroke="#111" stroke-width="0.8" />
<text x="409.90" y="401.80" font-size="6.4" text-anchor="end" fill="#1a1a1a" stroke="#1a1a1a" stroke-width="0.18" >0</text>
<line x1="412.70" y1="387.53" x2="415.30" y2="387.53" stroke="#111" stroke-width="0.8" />
<text x="409.90" y="389.73" font-size="6.4" text-anchor="end" fill="#1a1a1a" stroke="#1a1a1a" stroke-width="0.18" >20</text>
<line x1="412.70" y1="375.46" x2="415.30" y2="375.46" stroke="#111" stroke-width="0.8" />
<text x="409.90" y="377.66" font-size="6.4" text-anchor="end" fill="#1a1a1a" stroke="#1a1a1a" stroke-width="0.18" >40</text>
<line x1="412.70" y1="363.38" x2="415.30" y2="363.38" stroke="#111" stroke-width="0.8" />
<text x="409.90" y="365.58" font-size="6.4" text-anchor="end" fill="#1a1a1a" stroke="#1a1a1a" stroke-width="0.18" >60</text>
<line x1="412.70" y1="351.31" x2="415.30" y2="351.31" stroke="#111" stroke-width="0.8" />
<text x="409.90" y="353.51" font-size="6.4" text-anchor="end" fill="#1a1a1a" stroke="#1a1a1a" stroke-width="0.18" >80</text>
<line x1="412.70" y1="339.24" x2="415.30" y2="339.24" stroke="#111" stroke-width="0.8" />
<text x="409.90" y="341.44" font-size="6.4" text-anchor="end" fill="#1a1a1a" stroke="#1a1a1a" stroke-width="0.18" >100</text>
<line x1="412.70" y1="327.17" x2="415.30" y2="327.17" stroke="#111" stroke-width="0.8" />
<text x="409.90" y="329.37" font-size="6.4" text-anchor="end" fill="#1a1a1a" stroke="#1a1a1a" stroke-width="0.18" >120</text>
<line x1="412.70" y1="315.10" x2="415.30" y2="315.10" stroke="#111" stroke-width="0.8" />
<text x="409.90" y="317.30" font-size="6.4" text-anchor="end" fill="#1a1a1a" stroke="#1a1a1a" stroke-width="0.18" >140</text>
<line x1="415.30" y1="399.60" x2="415.30" y2="402.40" stroke="#111" stroke-width="0.8" />
<text x="415.30" y="411.60" font-size="6.4" text-anchor="middle" fill="#1a1a1a" stroke="#1a1a1a" stroke-width="0.18" >0</text>
<line x1="445.00" y1="399.60" x2="445.00" y2="402.40" stroke="#111" stroke-width="0.8" />
<text x="445.00" y="411.60" font-size="6.4" text-anchor="middle" fill="#1a1a1a" stroke="#1a1a1a" stroke-width="0.18" >10</text>
<line x1="474.70" y1="399.60" x2="474.70" y2="402.40" stroke="#111" stroke-width="0.8" />
<text x="474.70" y="411.60" font-size="6.4" text-anchor="middle" fill="#1a1a1a" stroke="#1a1a1a" stroke-width="0.18" >20</text>
<line x1="504.40" y1="399.60" x2="504.40" y2="402.40" stroke="#111" stroke-width="0.8" />
<text x="504.40" y="411.60" font-size="6.4" text-anchor="middle" fill="#1a1a1a" stroke="#1a1a1a" stroke-width="0.18" >30</text>
<text x="460.65" y="422.60" font-size="8.3" text-anchor="middle" fill="#1a1a1a" font-weight="bold" textLength="22.5" lengthAdjust="spacingAndGlyphs" >Cy (μM)</text>
<polyline points="415.30,339.24 426.44,328.92 437.57,352.58 459.85,397.73 504.40,397.79" fill="none" stroke="#6bbd45" stroke-width="1.0" stroke-linejoin="round" />
<rect x="413.70" y="337.64" width="3.20" height="3.20" fill="#6bbd45"/>
<line x1="426.44" y1="338.52" x2="426.44" y2="319.32" stroke="#6bbd45" stroke-width="0.8" />
<line x1="424.94" y1="338.52" x2="427.94" y2="338.52" stroke="#6bbd45" stroke-width="0.8" />
<line x1="424.94" y1="319.32" x2="427.94" y2="319.32" stroke="#6bbd45" stroke-width="0.8" />
<rect x="424.84" y="327.32" width="3.20" height="3.20" fill="#6bbd45"/>
<line x1="437.57" y1="356.62" x2="437.57" y2="348.54" stroke="#6bbd45" stroke-width="0.8" />
<line x1="436.07" y1="356.62" x2="439.07" y2="356.62" stroke="#6bbd45" stroke-width="0.8" />
<line x1="436.07" y1="348.54" x2="439.07" y2="348.54" stroke="#6bbd45" stroke-width="0.8" />
<rect x="435.97" y="350.98" width="3.20" height="3.20" fill="#6bbd45"/>
<rect x="458.25" y="396.13" width="3.20" height="3.20" fill="#6bbd45"/>
<rect x="502.80" y="396.19" width="3.20" height="3.20" fill="#6bbd45"/>
<polyline points="415.30,339.24 426.44,372.20 437.57,392.60 459.85,399.30 504.40,399.30" fill="none" stroke="#4a2770" stroke-width="1.0" stroke-linejoin="round" />
<circle cx="415.30" cy="339.24" r="1.60" fill="#4a2770"/>
<line x1="426.44" y1="378.53" x2="426.44" y2="365.86" stroke="#4a2770" stroke-width="0.8" />
<line x1="424.94" y1="378.53" x2="427.94" y2="378.53" stroke="#4a2770" stroke-width="0.8" />
<line x1="424.94" y1="365.86" x2="427.94" y2="365.86" stroke="#4a2770" stroke-width="0.8" />
<circle cx="426.44" cy="372.20" r="1.60" fill="#4a2770"/>
<circle cx="437.57" cy="392.60" r="1.60" fill="#4a2770"/>
<circle cx="459.85" cy="399.30" r="1.60" fill="#4a2770"/>
<circle cx="504.40" cy="399.30" r="1.60" fill="#4a2770"/>
<polyline points="415.30,339.24 426.44,346.79 437.57,398.82 459.85,399.42 504.40,399.42" fill="none" stroke="#2b4c8f" stroke-width="1.0" stroke-linejoin="round" />
<polygon points="415.30,337.48 417.06,340.52 413.54,340.52" fill="#2b4c8f"/>
<line x1="426.44" y1="354.33" x2="426.44" y2="339.24" stroke="#2b4c8f" stroke-width="0.8" />
<line x1="424.94" y1="354.33" x2="427.94" y2="354.33" stroke="#2b4c8f" stroke-width="0.8" />
<line x1="424.94" y1="339.24" x2="427.94" y2="339.24" stroke="#2b4c8f" stroke-width="0.8" />
<polygon points="426.44,345.03 428.20,348.06 424.68,348.06" fill="#2b4c8f"/>
<polygon points="437.57,397.06 439.33,400.10 435.81,400.10" fill="#2b4c8f"/>
<polygon points="459.85,397.66 461.61,400.70 458.09,400.70" fill="#2b4c8f"/>
<polygon points="504.40,397.66 506.16,400.70 502.64,400.70" fill="#2b4c8f"/>
<polyline points="415.30,339.24 426.44,398.39 437.57,397.79 459.85,396.76 504.40,396.76" fill="none" stroke="#e0238f" stroke-width="1.0" stroke-linejoin="round" />
<path d="M413.70,337.64L416.90,340.84M416.90,337.64L413.70,340.84" stroke="#e0238f" stroke-width="0.9"/>
<path d="M424.84,396.79L428.04,399.99M428.04,396.79L424.84,399.99" stroke="#e0238f" stroke-width="0.9"/>
<path d="M435.97,396.19L439.18,399.39M439.18,396.19L435.97,399.39" stroke="#e0238f" stroke-width="0.9"/>
<path d="M458.25,395.16L461.45,398.36M461.45,395.16L458.25,398.36" stroke="#e0238f" stroke-width="0.9"/>
<path d="M502.80,395.16L506.00,398.36M506.00,395.16L502.80,398.36" stroke="#e0238f" stroke-width="0.9"/>
<line x1="465.60" y1="311.60" x2="473.20" y2="311.60" stroke="#6bbd45" stroke-width="1.0" />
<rect x="467.75" y="309.95" width="3.30" height="3.30" fill="#6bbd45"/>
<text x="476.20" y="313.60" font-size="5.25" text-anchor="start" fill="#1a1a1a" stroke="#1a1a1a" stroke-width="0.1" >HTB-576</text>
<line x1="465.60" y1="320.70" x2="473.20" y2="320.70" stroke="#4a2770" stroke-width="1.0" />
<circle cx="469.40" cy="320.70" r="1.65" fill="#4a2770"/>
<text x="476.20" y="322.70" font-size="5.25" text-anchor="start" fill="#1a1a1a" stroke="#1a1a1a" stroke-width="0.1" >HTB-656</text>
<line x1="465.60" y1="330.00" x2="473.20" y2="330.00" stroke="#2b4c8f" stroke-width="1.0" />
<polygon points="469.40,328.19 471.21,331.32 467.58,331.32" fill="#2b4c8f"/>
<text x="476.20" y="332.00" font-size="5.25" text-anchor="start" fill="#1a1a1a" stroke="#1a1a1a" stroke-width="0.1" >HTB-616</text>
<line x1="465.60" y1="339.60" x2="473.20" y2="339.60" stroke="#e0238f" stroke-width="1.0" />
<path d="M467.75,337.95L471.05,341.25M471.05,337.95L467.75,341.25" stroke="#e0238f" stroke-width="0.9"/>
<text x="476.20" y="341.60" font-size="5.25" text-anchor="start" fill="#1a1a1a" stroke="#1a1a1a" stroke-width="0.1" >HTB-1115</text>
<text x="17.70" y="355.40" font-size="8.3" text-anchor="middle" fill="#1a1a1a" stroke="#1a1a1a" stroke-width="0.3" textLength="67.8" lengthAdjust="spacingAndGlyphs" transform="rotate(-90 17.70 355.40)" >Viable MM cells (norm %)</text>
<rect x="0.5" y="0.5" width="519" height="431" fill="none" stroke="#000" stroke-width="1"/>
</svg>
</body></html>
